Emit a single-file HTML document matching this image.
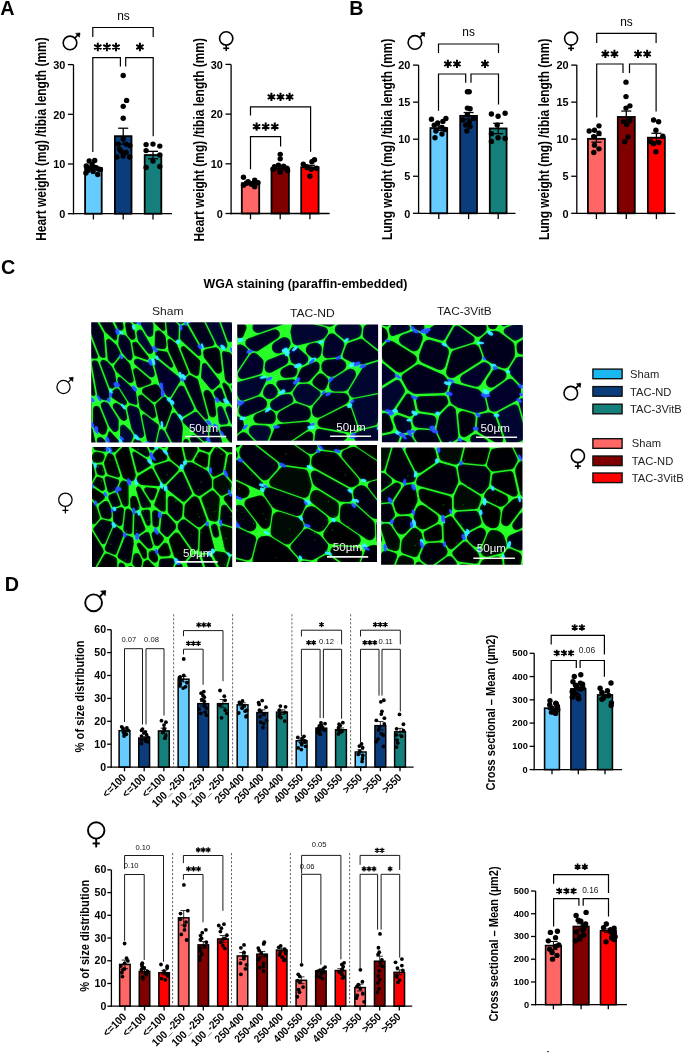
<!DOCTYPE html>
<html><head><meta charset="utf-8"><style>html,body{margin:0;padding:0;background:#fff;width:685px;height:1054px;overflow:hidden}svg{display:block;font-family:"Liberation Sans",sans-serif;will-change:transform}</style></head>
<body><svg width="685" height="1054" viewBox="0 0 685 1054" font-family="'Liberation Sans', sans-serif"><text font-size="19.8" font-weight="bold" text-anchor="start" fill="#000" transform="translate(0.2 14.6)">A</text>
<text font-size="19.8" font-weight="bold" text-anchor="start" fill="#000" transform="translate(349.2 14.9)">B</text>
<text font-size="19.8" font-weight="bold" text-anchor="start" fill="#000" transform="translate(1 273.9)">C</text>
<text font-size="19.8" font-weight="bold" text-anchor="start" fill="#000" transform="translate(4.7 590.6)">D</text>
<rect x="85.1" y="167.98" width="16.6" height="45.72" fill="#66CCFF" stroke="#000" stroke-width="1.8"/>
<rect x="114.9" y="136.17" width="16.6" height="77.53" fill="#0B3D7C" stroke="#000" stroke-width="1.8"/>
<rect x="144.7" y="155.05" width="16.6" height="58.65" fill="#157F7B" stroke="#000" stroke-width="1.8"/>
<line x1="93.4" y1="167.98" x2="93.4" y2="166.24" stroke="#000" stroke-width="1.3"/>
<line x1="88.4" y1="166.24" x2="98.4" y2="166.24" stroke="#000" stroke-width="1.3"/>
<line x1="93.4" y1="167.98" x2="93.4" y2="169.72" stroke="#000" stroke-width="1.3"/>
<line x1="88.4" y1="169.72" x2="98.4" y2="169.72" stroke="#000" stroke-width="1.3"/>
<g fill="#000"><circle cx="89.2" cy="161.02" r="2.7"/><circle cx="94.7" cy="160.52" r="2.7"/><circle cx="86.3" cy="165.99" r="2.7"/><circle cx="92.1" cy="164.5" r="2.7"/><circle cx="98.4" cy="168.97" r="2.7"/><circle cx="87.9" cy="170.46" r="2.7"/><circle cx="93.1" cy="171.45" r="2.7"/><circle cx="85.9" cy="172.95" r="2.7"/><circle cx="97.7" cy="174.44" r="2.7"/><circle cx="100.4" cy="169.47" r="2.7"/><circle cx="95.4" cy="167.48" r="2.7"/><circle cx="90.4" cy="168.47" r="2.7"/></g>
<line x1="123.2" y1="136.17" x2="123.2" y2="128.22" stroke="#000" stroke-width="1.3"/>
<line x1="118.2" y1="128.22" x2="128.2" y2="128.22" stroke="#000" stroke-width="1.3"/>
<line x1="123.2" y1="136.17" x2="123.2" y2="144.12" stroke="#000" stroke-width="1.3"/>
<line x1="118.2" y1="144.12" x2="128.2" y2="144.12" stroke="#000" stroke-width="1.3"/>
<g fill="#000"><circle cx="123.2" cy="75.53" r="2.7"/><circle cx="126.6" cy="100.38" r="2.7"/><circle cx="123.2" cy="106.35" r="2.7"/><circle cx="123.2" cy="118.28" r="2.7"/><circle cx="123.2" cy="138.65" r="2.7"/><circle cx="126.1" cy="144.12" r="2.7"/><circle cx="119.5" cy="149.09" r="2.7"/><circle cx="126.1" cy="152.57" r="2.7"/><circle cx="123.2" cy="156.05" r="2.7"/><circle cx="116.9" cy="157.04" r="2.7"/><circle cx="129.7" cy="157.04" r="2.7"/><circle cx="129.9" cy="145.61" r="2.7"/><circle cx="118.2" cy="144.12" r="2.7"/><circle cx="121.2" cy="151.57" r="2.7"/></g>
<line x1="153" y1="155.05" x2="153" y2="151.33" stroke="#000" stroke-width="1.3"/>
<line x1="148" y1="151.33" x2="158" y2="151.33" stroke="#000" stroke-width="1.3"/>
<line x1="153" y1="155.05" x2="153" y2="158.78" stroke="#000" stroke-width="1.3"/>
<line x1="148" y1="158.78" x2="158" y2="158.78" stroke="#000" stroke-width="1.3"/>
<g fill="#000"><circle cx="146.1" cy="144.62" r="2.7"/><circle cx="153" cy="144.12" r="2.7"/><circle cx="159.8" cy="146.11" r="2.7"/><circle cx="146.1" cy="150.58" r="2.7"/><circle cx="159.8" cy="155.05" r="2.7"/><circle cx="153" cy="161.02" r="2.7"/><circle cx="146.1" cy="167.48" r="2.7"/><circle cx="159.8" cy="166.48" r="2.7"/></g>
<line x1="73.5" y1="64.6" x2="73.5" y2="214.35" stroke="#000" stroke-width="1.3"/>
<line x1="72.85" y1="213.7" x2="172" y2="213.7" stroke="#000" stroke-width="1.3"/>
<line x1="67.9" y1="213.7" x2="73.5" y2="213.7" stroke="#000" stroke-width="1.3"/>
<text font-size="10.3" font-weight="bold" text-anchor="end" fill="#000" transform="matrix(1.06 0 0 1 65.3 217.91)">0</text>
<line x1="67.9" y1="164" x2="73.5" y2="164" stroke="#000" stroke-width="1.3"/>
<text font-size="10.3" font-weight="bold" text-anchor="end" fill="#000" transform="matrix(1.06 0 0 1 65.3 168.21)">10</text>
<line x1="67.9" y1="114.3" x2="73.5" y2="114.3" stroke="#000" stroke-width="1.3"/>
<text font-size="10.3" font-weight="bold" text-anchor="end" fill="#000" transform="matrix(1.06 0 0 1 65.3 118.51)">20</text>
<line x1="67.9" y1="64.6" x2="73.5" y2="64.6" stroke="#000" stroke-width="1.3"/>
<text font-size="10.3" font-weight="bold" text-anchor="end" fill="#000" transform="matrix(1.06 0 0 1 65.3 68.81)">30</text>
<line x1="93.4" y1="213.7" x2="93.4" y2="219.5" stroke="#000" stroke-width="1.3"/>
<line x1="123.2" y1="213.7" x2="123.2" y2="219.5" stroke="#000" stroke-width="1.3"/>
<line x1="153" y1="213.7" x2="153" y2="219.5" stroke="#000" stroke-width="1.3"/>
<text font-size="12.4" text-anchor="middle" fill="#000" transform="matrix(0.96 0 0 1 123.4 19.9)">ns</text>
<path d="M92.8 37.1L92.8 27.5L153.2 27.5L153.2 37.1" stroke="#000" stroke-width="1.2" fill="none" stroke-linejoin="miter"/>
<path d="M92.8 152L92.8 57.6L120.4 57.6L120.4 66.6" stroke="#000" stroke-width="1.2" fill="none" stroke-linejoin="miter"/>
<path d="M125.7 66.6L125.7 57.6L153.2 57.6L153.2 136.2" stroke="#000" stroke-width="1.2" fill="none" stroke-linejoin="miter"/>
<path d="M97.8 42.8L97.8 51.2M94.16 44.9L101.44 49.1M101.44 44.9L94.16 49.1M106.9 42.8L106.9 51.2M103.26 44.9L110.54 49.1M110.54 44.9L103.26 49.1M116 42.8L116 51.2M112.36 44.9L119.64 49.1M119.64 44.9L112.36 49.1" stroke="#000" stroke-width="2" fill="none" stroke-linecap="butt"/>
<path d="M139.9 42.8L139.9 51.2M136.26 44.9L143.54 49.1M143.54 44.9L136.26 49.1" stroke="#000" stroke-width="2" fill="none" stroke-linecap="butt"/>
<circle cx="70" cy="42.9" r="6.8" fill="none" stroke="#000" stroke-width="1.6"/>
<line x1="74.81" y1="38.09" x2="79.38" y2="33.52" stroke="#000" stroke-width="1.6"/>
<path d="M79.98 32.92L75.64 33.42L79.48 37.26Z" stroke="#000" stroke-width="0.6" fill="#000"/>
<text font-size="11.95" font-weight="bold" text-anchor="middle" fill="#000" transform="translate(46.2 139.1) rotate(-90) scale(1 1.18)">Heart weight (mg) /tibia length (mm)</text>
<rect x="241.8" y="183.18" width="17.4" height="30.32" fill="#FF6666" stroke="#000" stroke-width="1.8"/>
<rect x="271.5" y="168.27" width="17.4" height="45.23" fill="#800000" stroke="#000" stroke-width="1.8"/>
<rect x="301.2" y="167.28" width="17.4" height="46.22" fill="#FF0000" stroke="#000" stroke-width="1.8"/>
<line x1="250.5" y1="183.18" x2="250.5" y2="181.69" stroke="#000" stroke-width="1.3"/>
<line x1="245.5" y1="181.69" x2="255.5" y2="181.69" stroke="#000" stroke-width="1.3"/>
<line x1="250.5" y1="183.18" x2="250.5" y2="184.67" stroke="#000" stroke-width="1.3"/>
<line x1="245.5" y1="184.67" x2="255.5" y2="184.67" stroke="#000" stroke-width="1.3"/>
<g fill="#000"><circle cx="243.5" cy="177.22" r="2.7"/><circle cx="248.1" cy="181.69" r="2.7"/><circle cx="254.7" cy="180.2" r="2.7"/><circle cx="243.5" cy="185.17" r="2.7"/><circle cx="254.7" cy="186.66" r="2.7"/><circle cx="258" cy="182.69" r="2.7"/><circle cx="251.4" cy="184.18" r="2.7"/><circle cx="246.2" cy="183.18" r="2.7"/></g>
<line x1="280.2" y1="168.27" x2="280.2" y2="166.53" stroke="#000" stroke-width="1.3"/>
<line x1="275.2" y1="166.53" x2="285.2" y2="166.53" stroke="#000" stroke-width="1.3"/>
<line x1="280.2" y1="168.27" x2="280.2" y2="170.01" stroke="#000" stroke-width="1.3"/>
<line x1="275.2" y1="170.01" x2="285.2" y2="170.01" stroke="#000" stroke-width="1.3"/>
<g fill="#000"><circle cx="280.2" cy="154.36" r="2.7"/><circle cx="280.2" cy="158.83" r="2.7"/><circle cx="274.4" cy="166.78" r="2.7"/><circle cx="278.4" cy="165.29" r="2.7"/><circle cx="283.6" cy="166.28" r="2.7"/><circle cx="286.9" cy="168.27" r="2.7"/><circle cx="273.1" cy="169.27" r="2.7"/><circle cx="280.2" cy="172.25" r="2.7"/><circle cx="287.6" cy="170.76" r="2.7"/></g>
<line x1="309.9" y1="167.28" x2="309.9" y2="165.29" stroke="#000" stroke-width="1.3"/>
<line x1="304.9" y1="165.29" x2="314.9" y2="165.29" stroke="#000" stroke-width="1.3"/>
<line x1="309.9" y1="167.28" x2="309.9" y2="169.27" stroke="#000" stroke-width="1.3"/>
<line x1="304.9" y1="169.27" x2="314.9" y2="169.27" stroke="#000" stroke-width="1.3"/>
<g fill="#000"><circle cx="314.5" cy="159.82" r="2.7"/><circle cx="311.9" cy="161.81" r="2.7"/><circle cx="303.3" cy="164.3" r="2.7"/><circle cx="306.6" cy="166.78" r="2.7"/><circle cx="316.5" cy="168.27" r="2.7"/><circle cx="311.2" cy="169.27" r="2.7"/><circle cx="309.9" cy="176.22" r="2.7"/></g>
<line x1="231.1" y1="64.4" x2="231.1" y2="214.15" stroke="#000" stroke-width="1.3"/>
<line x1="230.45" y1="213.5" x2="329.7" y2="213.5" stroke="#000" stroke-width="1.3"/>
<line x1="225.5" y1="213.5" x2="231.1" y2="213.5" stroke="#000" stroke-width="1.3"/>
<text font-size="10.3" font-weight="bold" text-anchor="end" fill="#000" transform="matrix(1.06 0 0 1 222.9 217.71)">0</text>
<line x1="225.5" y1="163.8" x2="231.1" y2="163.8" stroke="#000" stroke-width="1.3"/>
<text font-size="10.3" font-weight="bold" text-anchor="end" fill="#000" transform="matrix(1.06 0 0 1 222.9 168.01)">10</text>
<line x1="225.5" y1="114.1" x2="231.1" y2="114.1" stroke="#000" stroke-width="1.3"/>
<text font-size="10.3" font-weight="bold" text-anchor="end" fill="#000" transform="matrix(1.06 0 0 1 222.9 118.31)">20</text>
<line x1="225.5" y1="64.4" x2="231.1" y2="64.4" stroke="#000" stroke-width="1.3"/>
<text font-size="10.3" font-weight="bold" text-anchor="end" fill="#000" transform="matrix(1.06 0 0 1 222.9 68.61)">30</text>
<line x1="250.5" y1="213.5" x2="250.5" y2="219.3" stroke="#000" stroke-width="1.3"/>
<line x1="280.2" y1="213.5" x2="280.2" y2="219.3" stroke="#000" stroke-width="1.3"/>
<line x1="309.9" y1="213.5" x2="309.9" y2="219.3" stroke="#000" stroke-width="1.3"/>
<path d="M250.5 115.6L250.5 106.9L310.6 106.9L310.6 151.7" stroke="#000" stroke-width="1.2" fill="none" stroke-linejoin="miter"/>
<path d="M250.5 169.2L250.5 136.6L280.6 136.6L280.6 146.4" stroke="#000" stroke-width="1.2" fill="none" stroke-linejoin="miter"/>
<path d="M271.4 92.7L271.4 101.1M267.76 94.8L275.04 99M275.04 94.8L267.76 99M280.5 92.7L280.5 101.1M276.86 94.8L284.14 99M284.14 94.8L276.86 99M289.6 92.7L289.6 101.1M285.96 94.8L293.24 99M293.24 94.8L285.96 99" stroke="#000" stroke-width="2" fill="none" stroke-linecap="butt"/>
<path d="M256.6 122.4L256.6 130.8M252.96 124.5L260.24 128.7M260.24 124.5L252.96 128.7M265.7 122.4L265.7 130.8M262.06 124.5L269.34 128.7M269.34 124.5L262.06 128.7M274.8 122.4L274.8 130.8M271.16 124.5L278.44 128.7M278.44 124.5L271.16 128.7" stroke="#000" stroke-width="2" fill="none" stroke-linecap="butt"/>
<circle cx="226.2" cy="38.4" r="6.6" fill="none" stroke="#000" stroke-width="1.6"/>
<line x1="226.2" y1="45" x2="226.2" y2="51" stroke="#000" stroke-width="1.6"/>
<line x1="223.2" y1="48.3" x2="229.2" y2="48.3" stroke="#000" stroke-width="1.6"/>
<text font-size="11.95" font-weight="bold" text-anchor="middle" fill="#000" transform="translate(203.6 139.8) rotate(-90) scale(1 1.18)">Heart weight (mg) /tibia length (mm)</text>
<rect x="430.4" y="128.09" width="16.8" height="85.22" fill="#66CCFF" stroke="#000" stroke-width="1.8"/>
<rect x="460.2" y="115.86" width="16.8" height="97.44" fill="#0B3D7C" stroke="#000" stroke-width="1.8"/>
<rect x="489.8" y="128.46" width="16.8" height="84.84" fill="#157F7B" stroke="#000" stroke-width="1.8"/>
<line x1="438.8" y1="128.09" x2="438.8" y2="125.86" stroke="#000" stroke-width="1.3"/>
<line x1="433.8" y1="125.86" x2="443.8" y2="125.86" stroke="#000" stroke-width="1.3"/>
<line x1="438.8" y1="128.09" x2="438.8" y2="130.31" stroke="#000" stroke-width="1.3"/>
<line x1="433.8" y1="130.31" x2="443.8" y2="130.31" stroke="#000" stroke-width="1.3"/>
<g fill="#000"><circle cx="431.5" cy="119.19" r="2.7"/><circle cx="445.9" cy="118.45" r="2.7"/><circle cx="437.7" cy="122.9" r="2.7"/><circle cx="442.9" cy="121.42" r="2.7"/><circle cx="434.2" cy="125.12" r="2.7"/><circle cx="442" cy="127.34" r="2.7"/><circle cx="435.9" cy="131.05" r="2.7"/><circle cx="445.2" cy="129.57" r="2.7"/><circle cx="435" cy="137.72" r="2.7"/><circle cx="442" cy="134.01" r="2.7"/></g>
<line x1="468.6" y1="115.86" x2="468.6" y2="112.52" stroke="#000" stroke-width="1.3"/>
<line x1="463.6" y1="112.52" x2="473.6" y2="112.52" stroke="#000" stroke-width="1.3"/>
<line x1="468.6" y1="115.86" x2="468.6" y2="119.19" stroke="#000" stroke-width="1.3"/>
<line x1="463.6" y1="119.19" x2="473.6" y2="119.19" stroke="#000" stroke-width="1.3"/>
<g fill="#000"><circle cx="467.4" cy="91.78" r="2.7"/><circle cx="469.2" cy="91.78" r="2.7"/><circle cx="467.4" cy="108.08" r="2.7"/><circle cx="470.1" cy="108.82" r="2.7"/><circle cx="467.4" cy="114.75" r="2.7"/><circle cx="473.6" cy="118.45" r="2.7"/><circle cx="463.1" cy="119.93" r="2.7"/><circle cx="469.2" cy="122.16" r="2.7"/><circle cx="465.7" cy="125.12" r="2.7"/><circle cx="470.1" cy="126.6" r="2.7"/><circle cx="466.9" cy="131.05" r="2.7"/></g>
<line x1="498.2" y1="128.46" x2="498.2" y2="123.27" stroke="#000" stroke-width="1.3"/>
<line x1="493.2" y1="123.27" x2="503.2" y2="123.27" stroke="#000" stroke-width="1.3"/>
<line x1="498.2" y1="128.46" x2="498.2" y2="133.64" stroke="#000" stroke-width="1.3"/>
<line x1="493.2" y1="133.64" x2="503.2" y2="133.64" stroke="#000" stroke-width="1.3"/>
<g fill="#000"><circle cx="491.4" cy="114.01" r="2.7"/><circle cx="498.1" cy="116.23" r="2.7"/><circle cx="505.1" cy="113.27" r="2.7"/><circle cx="497.2" cy="125.12" r="2.7"/><circle cx="491.4" cy="133.64" r="2.7"/><circle cx="498.1" cy="137.72" r="2.7"/><circle cx="505.1" cy="138.46" r="2.7"/><circle cx="491.4" cy="141.42" r="2.7"/></g>
<line x1="418.6" y1="65.1" x2="418.6" y2="213.95" stroke="#000" stroke-width="1.3"/>
<line x1="417.95" y1="213.3" x2="515.5" y2="213.3" stroke="#000" stroke-width="1.3"/>
<line x1="413" y1="213.3" x2="418.6" y2="213.3" stroke="#000" stroke-width="1.3"/>
<text font-size="10.3" font-weight="bold" text-anchor="end" fill="#000" transform="matrix(1.06 0 0 1 410.4 217.51)">0</text>
<line x1="413" y1="176.25" x2="418.6" y2="176.25" stroke="#000" stroke-width="1.3"/>
<text font-size="10.3" font-weight="bold" text-anchor="end" fill="#000" transform="matrix(1.06 0 0 1 410.4 180.46)">5</text>
<line x1="413" y1="139.2" x2="418.6" y2="139.2" stroke="#000" stroke-width="1.3"/>
<text font-size="10.3" font-weight="bold" text-anchor="end" fill="#000" transform="matrix(1.06 0 0 1 410.4 143.41)">10</text>
<line x1="413" y1="102.15" x2="418.6" y2="102.15" stroke="#000" stroke-width="1.3"/>
<text font-size="10.3" font-weight="bold" text-anchor="end" fill="#000" transform="matrix(1.06 0 0 1 410.4 106.36)">15</text>
<line x1="413" y1="65.1" x2="418.6" y2="65.1" stroke="#000" stroke-width="1.3"/>
<text font-size="10.3" font-weight="bold" text-anchor="end" fill="#000" transform="matrix(1.06 0 0 1 410.4 69.31)">20</text>
<line x1="438.8" y1="213.3" x2="438.8" y2="219.1" stroke="#000" stroke-width="1.3"/>
<line x1="468.6" y1="213.3" x2="468.6" y2="219.1" stroke="#000" stroke-width="1.3"/>
<line x1="498.2" y1="213.3" x2="498.2" y2="219.1" stroke="#000" stroke-width="1.3"/>
<text font-size="12.4" text-anchor="middle" fill="#000" transform="matrix(0.96 0 0 1 468.6 36.1)">ns</text>
<path d="M438.5 52.9L438.5 44L498.5 44L498.5 52.9" stroke="#000" stroke-width="1.2" fill="none" stroke-linejoin="miter"/>
<path d="M438.5 110.7L438.5 74L465.7 74L465.7 82.7" stroke="#000" stroke-width="1.2" fill="none" stroke-linejoin="miter"/>
<path d="M471 82.7L471 74L498.5 74L498.5 104.5" stroke="#000" stroke-width="1.2" fill="none" stroke-linejoin="miter"/>
<path d="M447.85 59.7L447.85 68.1M444.21 61.8L451.49 66M451.49 61.8L444.21 66M456.95 59.7L456.95 68.1M453.31 61.8L460.59 66M460.59 61.8L453.31 66" stroke="#000" stroke-width="2" fill="none" stroke-linecap="butt"/>
<path d="M485 59.7L485 68.1M481.36 61.8L488.64 66M488.64 61.8L481.36 66" stroke="#000" stroke-width="2" fill="none" stroke-linecap="butt"/>
<circle cx="414.9" cy="42.4" r="6.8" fill="none" stroke="#000" stroke-width="1.6"/>
<line x1="419.71" y1="37.59" x2="424.28" y2="33.02" stroke="#000" stroke-width="1.6"/>
<path d="M424.88 32.42L420.54 32.92L424.38 36.76Z" stroke="#000" stroke-width="0.6" fill="#000"/>
<text font-size="11.9" font-weight="bold" text-anchor="middle" fill="#000" transform="translate(391.9 139.3) rotate(-90) scale(1 1.18)">Lung weight (mg) /tibia length (mm)</text>
<rect x="587.9" y="138.83" width="17" height="74.47" fill="#FF6666" stroke="#000" stroke-width="1.8"/>
<rect x="617.8" y="116.97" width="17" height="96.33" fill="#800000" stroke="#000" stroke-width="1.8"/>
<rect x="647.9" y="137.72" width="17" height="75.58" fill="#FF0000" stroke="#000" stroke-width="1.8"/>
<line x1="596.4" y1="138.83" x2="596.4" y2="135.5" stroke="#000" stroke-width="1.3"/>
<line x1="591.4" y1="135.5" x2="601.4" y2="135.5" stroke="#000" stroke-width="1.3"/>
<line x1="596.4" y1="138.83" x2="596.4" y2="142.16" stroke="#000" stroke-width="1.3"/>
<line x1="591.4" y1="142.16" x2="601.4" y2="142.16" stroke="#000" stroke-width="1.3"/>
<g fill="#000"><circle cx="599" cy="125.86" r="2.7"/><circle cx="594.5" cy="130.31" r="2.7"/><circle cx="589.2" cy="131.05" r="2.7"/><circle cx="599" cy="133.27" r="2.7"/><circle cx="593.8" cy="136.61" r="2.7"/><circle cx="594.5" cy="145.13" r="2.7"/><circle cx="599" cy="148.83" r="2.7"/><circle cx="593.8" cy="152.54" r="2.7"/></g>
<line x1="626.3" y1="116.97" x2="626.3" y2="111.04" stroke="#000" stroke-width="1.3"/>
<line x1="621.3" y1="111.04" x2="631.3" y2="111.04" stroke="#000" stroke-width="1.3"/>
<line x1="626.3" y1="116.97" x2="626.3" y2="122.9" stroke="#000" stroke-width="1.3"/>
<line x1="621.3" y1="122.9" x2="631.3" y2="122.9" stroke="#000" stroke-width="1.3"/>
<g fill="#000"><circle cx="626" cy="82.14" r="2.7"/><circle cx="626" cy="96.59" r="2.7"/><circle cx="629.9" cy="105.86" r="2.7"/><circle cx="626" cy="108.08" r="2.7"/><circle cx="623.4" cy="121.42" r="2.7"/><circle cx="626.6" cy="124.38" r="2.7"/><circle cx="628" cy="136.98" r="2.7"/><circle cx="624.7" cy="141.79" r="2.7"/><circle cx="629.9" cy="119.93" r="2.7"/></g>
<line x1="656.4" y1="137.72" x2="656.4" y2="133.27" stroke="#000" stroke-width="1.3"/>
<line x1="651.4" y1="133.27" x2="661.4" y2="133.27" stroke="#000" stroke-width="1.3"/>
<line x1="656.4" y1="137.72" x2="656.4" y2="142.16" stroke="#000" stroke-width="1.3"/>
<line x1="651.4" y1="142.16" x2="661.4" y2="142.16" stroke="#000" stroke-width="1.3"/>
<g fill="#000"><circle cx="653.6" cy="119.93" r="2.7"/><circle cx="658.6" cy="121.79" r="2.7"/><circle cx="655.9" cy="130.31" r="2.7"/><circle cx="662.8" cy="136.24" r="2.7"/><circle cx="651" cy="141.79" r="2.7"/><circle cx="658.8" cy="142.53" r="2.7"/><circle cx="655.9" cy="151.8" r="2.7"/><circle cx="653.6" cy="143.65" r="2.7"/></g>
<line x1="576.8" y1="65.1" x2="576.8" y2="213.95" stroke="#000" stroke-width="1.3"/>
<line x1="576.15" y1="213.3" x2="675.3" y2="213.3" stroke="#000" stroke-width="1.3"/>
<line x1="571.2" y1="213.3" x2="576.8" y2="213.3" stroke="#000" stroke-width="1.3"/>
<text font-size="10.3" font-weight="bold" text-anchor="end" fill="#000" transform="matrix(1.06 0 0 1 568.6 217.51)">0</text>
<line x1="571.2" y1="176.25" x2="576.8" y2="176.25" stroke="#000" stroke-width="1.3"/>
<text font-size="10.3" font-weight="bold" text-anchor="end" fill="#000" transform="matrix(1.06 0 0 1 568.6 180.46)">5</text>
<line x1="571.2" y1="139.2" x2="576.8" y2="139.2" stroke="#000" stroke-width="1.3"/>
<text font-size="10.3" font-weight="bold" text-anchor="end" fill="#000" transform="matrix(1.06 0 0 1 568.6 143.41)">10</text>
<line x1="571.2" y1="102.15" x2="576.8" y2="102.15" stroke="#000" stroke-width="1.3"/>
<text font-size="10.3" font-weight="bold" text-anchor="end" fill="#000" transform="matrix(1.06 0 0 1 568.6 106.36)">15</text>
<line x1="571.2" y1="65.1" x2="576.8" y2="65.1" stroke="#000" stroke-width="1.3"/>
<text font-size="10.3" font-weight="bold" text-anchor="end" fill="#000" transform="matrix(1.06 0 0 1 568.6 69.31)">20</text>
<line x1="596.4" y1="213.3" x2="596.4" y2="219.1" stroke="#000" stroke-width="1.3"/>
<line x1="626.3" y1="213.3" x2="626.3" y2="219.1" stroke="#000" stroke-width="1.3"/>
<line x1="656.4" y1="213.3" x2="656.4" y2="219.1" stroke="#000" stroke-width="1.3"/>
<text font-size="12.4" text-anchor="middle" fill="#000" transform="matrix(0.96 0 0 1 626.4 25.6)">ns</text>
<path d="M596.7 42.9L596.7 33.3L656.1 33.3L656.1 42.9" stroke="#000" stroke-width="1.2" fill="none" stroke-linejoin="miter"/>
<path d="M596.7 117.6L596.7 64L623 64L623 73.1" stroke="#000" stroke-width="1.2" fill="none" stroke-linejoin="miter"/>
<path d="M629.5 73.1L629.5 64L656.1 64L656.1 111.4" stroke="#000" stroke-width="1.2" fill="none" stroke-linejoin="miter"/>
<path d="M605.35 49.7L605.35 58.1M601.71 51.8L608.99 56M608.99 51.8L601.71 56M614.45 49.7L614.45 58.1M610.81 51.8L618.09 56M618.09 51.8L610.81 56" stroke="#000" stroke-width="2" fill="none" stroke-linecap="butt"/>
<path d="M638.05 49.7L638.05 58.1M634.41 51.8L641.69 56M641.69 51.8L634.41 56M647.15 49.7L647.15 58.1M643.51 51.8L650.79 56M650.79 51.8L643.51 56" stroke="#000" stroke-width="2" fill="none" stroke-linecap="butt"/>
<circle cx="571.1" cy="38.6" r="6.5" fill="none" stroke="#000" stroke-width="1.6"/>
<line x1="571.1" y1="45.1" x2="571.1" y2="51.1" stroke="#000" stroke-width="1.6"/>
<line x1="568.1" y1="48.4" x2="574.1" y2="48.4" stroke="#000" stroke-width="1.6"/>
<text font-size="11.9" font-weight="bold" text-anchor="middle" fill="#000" transform="translate(549 139.3) rotate(-90) scale(1 1.18)">Lung weight (mg) /tibia length (mm)</text>
<text font-size="12.4" font-weight="bold" text-anchor="middle" fill="#000" transform="translate(305.5 287.7)">WGA staining (paraffin-embedded)</text>
<text font-size="11.5" text-anchor="middle" fill="#1a1a1a" transform="matrix(1.05 0 0 1 167.8 315)">Sham</text>
<text font-size="11.5" text-anchor="middle" fill="#1a1a1a" transform="matrix(1.05 0 0 1 312.3 316.5)">TAC-ND</text>
<text font-size="11.5" text-anchor="middle" fill="#1a1a1a" transform="matrix(1.03 0 0 1 464.3 315.4)">TAC-3VitB</text>
<defs><filter id="soft" x="0" y="0" width="1" height="1" color-interpolation-filters="sRGB"><feGaussianBlur in="SourceGraphic" stdDeviation="0.45" result="a"/><feGaussianBlur in="SourceGraphic" stdDeviation="1.6" result="b"/><feComposite in="a" in2="b" operator="arithmetic" k2="1" k3="0.4"/></filter></defs>
<clipPath id="cp0"><rect x="91.2" y="322.3" width="140.8" height="120.2"/></clipPath>
<g clip-path="url(#cp0)">
<g filter="url(#soft)">
<rect x="89.2" y="320.3" width="144.8" height="124.2" fill="#1cd01c"/>
<path fill="#000018" d="M78.73 436.73L76.95 435.95L75.3 436.96L71.19 443.9L70.9 445.03L71.26 446.14L94.18 479.87L94.99 480.58L96.05 480.78L97.07 480.43L97.78 479.61L97.99 478.55L96.7 460.08L96.26 458.94ZM102.39 437.65L100.88 436.93L99.21 437.01L97.78 437.87L96.93 439.31L96.87 440.98L100.02 455.86L100.68 457.26L104.24 459.36L105.81 459.69L107.36 459.27L108.54 458.18L109.1 456.68L109.58 452.58L109.35 450.88L105.02 440.36ZM216.11 427.18L212.23 425.63L210.84 426.04L209.82 427.08L209.44 428.48L209.27 439.26L209.76 440.92L220.2 456.48L221.28 457.44L222.78 457.76L224.43 457.21L225.46 455.82L225.52 454.09L219.55 432.45L217.32 428.34ZM215.86 397.59L221.32 402.32L222.6 402.89L224.08 402.68L225.14 401.89L225.67 400.68L225.55 399.37L221.93 389.21L221.23 388.15L220.12 387.55L218.86 387.53L217.73 388.11L213.84 391.85L213.63 393.01L213.95 394.15ZM104.28 359.99L102.59 359.87L101.12 360.68L100.31 362.16L100.44 363.84L109.09 386.75L109.86 387.88L111.06 388.56L112.42 388.63L115.48 386.73L116.44 385.49L116.64 383.93L115.08 372.77L111.71 366.26L106.99 361.32ZM127.64 316.44L133.22 323.08L134.43 323.91L135.88 324.09L137.26 323.58L138.25 322.5L138.63 321.08L138.87 309.96L138.59 308.6L137.75 307.5L129.44 300.62L127.94 299.94L126.3 300.13L125 301.13L124.38 302.65L124.12 305.01L124.26 306.34ZM171.39 398.62L170.89 400.24L171.22 401.9L173.83 407.4L179.33 415.34L180.61 416.45L182.27 416.81L183.89 416.34L192.33 411.36L193.52 410.18L194.02 408.58L193.69 406.93L184.49 387.43L183.3 386.05L181.57 385.47L179.78 385.86L178.45 387.1ZM180.06 338.47L180.81 340.23L197.6 355.41L198.57 355.93L199.66 355.94L200.64 355.43L201.27 354.53L201.4 353.44L200.66 348.68L187.09 324.98L185.14 324.66L182.02 325.57L180.85 326.36L180.38 327.69ZM167.87 285.77L166.79 284.54L165.26 283.98L163.64 284.23L162.34 285.22L161.67 286.71L161.81 288.34L170.81 314.36L178.35 322.95L179.89 323.89L182.62 323.61L184.22 322.58L184.97 320.83L184.64 318.96ZM167.78 316.15L166.67 316.52L165.9 317.41L165.7 318.57L167.51 335.11L174.98 340.77L176.09 341.18L177.26 340.96L178.15 340.17L178.5 339.04L178.87 326.44L178.28 324.87L170.83 316.79L170.03 316.23ZM127.74 359.56L129.01 360.37L130.53 360.39L131.82 359.61L132.83 356.78L130.43 341.91L129.89 340.69L126.3 336.07L125.03 335.15L122.49 334.27L120.82 334.21L119.43 335.12L118.81 336.67L118.24 343.9L118.5 345.31L122.28 353.28ZM147.83 443.13L152.56 446.73L153.57 446.65L154.41 446.09L154.87 445.19L158.92 426.6L158.85 425.49L158.2 424.6L145.14 414.4L143.3 414.07L141.99 415.41L141.95 416.38L147.15 441.99ZM232.06 350.22L232.04 351.61L232.59 352.88L237.23 359.39L238.73 360.56L244.04 362.59L245.72 362.76L247.27 362.08L248.27 360.72L248.46 359.04L244.76 334.05L244.01 332.39L242.49 331.39L240.23 330.69L238.46 330.64L236.92 331.53L236.06 333.08ZM215.1 296.35L213.52 295.39L211.67 295.39L210.1 296.36L209.26 298.01L209.41 299.85L213.99 311.49L215.67 313.33L217.26 314.31L219.11 314.32L220.7 313.35L222.89 310.96L223.59 309.8L223.69 306.78L222.79 304.66Z"/>
<path fill="#00000a" d="M129.12 457.87L130.28 459.47L143.05 467.49L144.44 467.9L145.84 467.5L146.82 466.42L147.08 464.99L144.7 443.99L137.7 439.03L136.27 438.59L134.82 439L133.84 440.13L128.32 452.26L128.16 453.98ZM173.45 278.73L171.79 277.71L169.83 277.75L168.22 278.85L167.46 280.66L167.81 282.58L184.82 316.21L185.97 317.52L187.62 318.09L189.33 317.79L190.68 316.68L195.15 310.49L195.78 308.9L195.56 307.2L193.79 302.77L191.61 299ZM215.65 372.45L217.12 373.56L218.95 373.8L220.65 373.1L221.79 371.64L222.05 369.82L219.86 351.12L218.53 348.73L216.3 347.36L214.78 347.31L206.1 348.88L204.47 349.63L203.41 351.07L203.17 352.85L203.57 356.16L204.3 357.94ZM99.83 407.92L98.66 406.4L96.86 405.72L94.97 406.08L93.55 407.37L93.02 409.22L92.93 425.57L93.45 427.43L94.6 428.96L100.75 434.09L102.32 434.84L104.06 434.75L105.55 433.84L106.42 432.34L107.43 428.76L107.3 426.48ZM78.05 383.85L77.09 383.29L75.97 383.3L75.02 383.88L74.49 384.87L72.21 395.01L72.29 396.21L81.04 419.65L82.04 420.79L89.36 424.3L90.38 424L91.13 423.23L91.4 422.2L91.53 398.36L90.92 396.87ZM188.4 440.26L187.51 439.24L186.23 438.79L184.9 439.04L183.87 439.91L183.4 441.18L182.49 451.03L182.77 452.48L186.34 458.83L192.47 463.44L193.82 463.96L195.24 463.69L197.7 462.06L198.14 460.77L197.87 459.44ZM135.38 356.04L147.21 359.94L148.14 359.51L148.74 358.67L148.85 357.65L148.44 356.71L137.3 342.51L135.68 341.74L133.12 342.11L132.39 342.99L132.26 344.13L134.07 354.49L134.51 355.44ZM174.13 446.52L172.45 446.12L171.16 447.27L167.36 457.8L168.67 460.4L175.26 468.17L176.2 468.77L177.31 468.72L178.2 468.06L183.85 460.25L184.19 459.29L181.11 452.73ZM209.74 390.98L208.16 389.94L206.27 389.85L204.59 390.75L203.62 392.37L203.6 394.27L209.14 414.8L210 416.33L211.49 417.27L213.24 417.38L214.84 416.65L215.89 415.24L216.14 413.5L214.68 399.56L211.35 392.94ZM79.61 350.07L77.99 349.52L77.18 349.83L74.86 353.92L74.3 363.3L77.52 380.55L78.04 381.54L92.15 395.82L93.94 396.34L95.32 395.09L95.4 394.13L89.4 360.39L88.87 359.37ZM130.39 322.33L129.07 321.46L127.49 321.36L126.07 322.05L125.19 323.36L125.07 324.94L126.72 333.88L127.32 335.2L130.06 338.73L131.35 339.7L132.95 339.89L134.43 339.23L135.37 337.92L135.52 336.31L133.88 326.93L133.14 325.42ZM185.05 346.68L183.81 346.06L182.42 346.16L181.29 346.95L180.72 348.22L180.88 349.6L190.04 372.21L191.21 373.52L195.36 375.77L196.59 376.09L197.83 375.78L198.78 374.93L199.2 373.73L200.34 361.93L200.18 360.73L199.49 359.74ZM170.77 339.21L169.64 338.82L168.48 339.09L167.66 339.95L167.43 341.12L168.45 350.77L180.21 376.34L181.63 377.89L182.75 378.05L187.62 374.56L188.35 373.45L188.26 372.12L176.89 344.04L176.17 343.13ZM157.32 307.02L155.7 306.28L154.16 307.18L150.26 313.46L149.97 314.44L150.23 315.43L155.2 323.94L162.23 330.73L163.96 331.23L165.35 330.08L165.48 329.16L164.25 316.51L163.86 315.53ZM156.05 403.55L155.42 404.56L155.38 405.74L159.42 423.71L160.08 424.98L161.94 426.78L162.92 427.32L164.04 427.33L165.03 426.81L165.67 425.89L172.03 409.1L171.96 407.28L168.55 400.29L166.12 397.41L165.1 396.71L163.86 396.64L162.76 397.22ZM144.05 387.82L142.61 388.82L141.86 390.4L142 392.14L143 393.58L152.02 401.26L153.48 401.98L155.11 401.94L156.53 401.14L161.71 396.25L162.54 395.01L162.76 393.53L162.32 392.11L158.74 385.87L156.67 384.25L154.22 384.18ZM137.58 368.65L136.39 368.07L135.06 368.13L133.93 368.82L133.27 369.97L133.24 371.3L136.63 385.78L137.35 387.07L138.66 387.78L140.14 387.69L149.76 384.25L150.9 383.46L151.49 382.2L151.37 380.82L150.59 379.68Z"/>
<path fill="#000422" d="M130.47 430.58L124.9 425.33L123.44 424.62L121.82 424.82L120.58 425.86L120.1 427.42L119.98 438.58L120.37 440.05L124.13 446.56L125.24 447.64L126.75 447.99L128.22 447.49L129.22 446.31L133.26 437.43L133.51 436.06L133.08 434.72ZM150.88 447.52L148.91 447.08L147.4 448.42L147.26 449.44L149.73 472.24L169.39 509.89L170.12 510.7L171.15 511.06L172.22 510.89L173.09 510.23L173.53 509.23L173.44 508.14L153.26 449.91ZM244.09 364.3L242.35 364.13L240.77 364.87L239.79 366.32L239.68 368.06L242.15 379.45L254.29 407.78L255.32 409.1L256.87 409.75L258.54 409.55L259.89 408.55L260.57 407.02L264.13 385.49L263.64 383.15L256.88 373.01L250.26 366.91ZM164.33 431.03L161.94 429.07L160.82 429.12L159.88 429.72L159.36 430.72L155.73 447.4L155.81 448.62L156.54 449.59L163.77 454.99L165.66 455.34L167.08 454.03L170.81 443.67ZM223.04 407.89L222 406.56L220.41 406.01L218.77 406.41L217.62 407.63L217.31 409.29L218.65 422.1L219.17 423.5L220.3 424.47L221.76 424.77L226.75 424.19L227.77 423.23L228.23 421.91L228.03 420.52ZM142.51 331.07L141.23 329.86L139.5 329.52L137.84 330.13L136.76 331.53L136.58 333.28L137.71 339.74L138.34 341.17L147.52 352.86L148.81 353.85L150.42 354.07L151.94 353.48L152.97 352.23L153.26 350.63L152.74 348.18ZM146.14 313.08L144.46 312.22L142.58 312.42L141.12 313.61L140.54 315.41L140.37 323.13L140.84 324.9L147.12 335.4L148.33 336.58L149.96 337.02L151.59 336.59L152.81 335.41L153.28 333.79L153.53 325.33L153.09 323.58L148.4 315.42ZM222.99 349.03L224.93 348.97L226.57 347.93L227.43 346.19L227.28 344.25L217.77 318.08L213.89 313.42L212.55 312.49L210.93 312.24L206.63 312.57L204.96 313.12L203.75 314.38L203.27 316.07L203.64 317.79L216.87 344.87L220.23 348Z"/>
<path fill="#000014" d="M188.92 321.24L188.39 322.73L188.75 324.27L201.14 346.34L202.4 347.51L204.1 347.73L212.06 346.29L213.24 345.77L214.07 344.79L214.37 343.54L214.08 342.28L199.86 313.18L198.92 312.09L197.57 311.61L196.16 311.85L195.05 312.76ZM246.83 420.01L248.33 422.22L249.15 422.92L250.21 423.1L255.71 422.62L257.31 421.62L257.6 420.7L241.58 382.73L240.89 381.87L239.86 381.48L238.77 381.68L232.42 384.73L231.6 385.42L231.24 386.43L231.44 387.48ZM210.67 445.41L209.68 444.56L208.39 444.34L207.17 444.81L206.37 445.83L206.2 447.13L207.68 457.47L208.41 458.88L217.09 467.27L218.18 467.88L219.43 467.88L220.52 467.26L221.15 466.19L221.18 464.94L219.86 459.39ZM107.68 358.93L108.37 360.47L110.47 362.67L111.72 363.39L113.15 363.31L114.32 362.47L120 355.09L120.52 353.81L120.29 352.45L116.51 344.94L110.39 339.38L109.33 338.8L108.13 338.78L107.05 339.32L106.34 340.29L106.15 341.48ZM195.59 435.9L193.86 435.04L191.93 435.22L190.38 436.39L189.68 438.19L190.03 440.1L199.21 458.7L200.55 460.16L202.45 460.68L204.34 460.09L205.62 458.59L205.9 456.63L204.21 444.83L203.09 442.71ZM239.35 458.03L238.87 456.47L228.69 443.79L227.73 443.1L226.54 443.01L225.48 443.55L224.86 444.56L224.85 445.75L228.08 457.46L235.06 465.26L236.14 465.89L237.39 465.83L238.41 465.1L238.86 463.93ZM117.84 403.38L116.11 402.83L114.34 403.25L113.05 404.53L112.6 406.3L113.14 408.03L120.38 419.1L123.06 420.98L124.75 420.95L126.22 420.1L127.09 418.64L127.14 416.95L125.47 409.53L124.02 407.45ZM229.51 426.06L220.84 426.77L220.06 427.59L219.78 428.69L221.04 431.42L237.52 451.95L238.39 452.61L239.48 452.78L240.52 452.41L241.26 451.6L241.52 450.53L241.15 434.37L230.97 426.5ZM77.73 330L78.42 331.05L79.51 331.67L80.76 331.73L85.77 330.81L87 330.25L87.81 329.16L87.98 327.82L86.72 317.26L86.25 316.03L85.26 315.16L75.36 310.1L74.11 309.8L72.85 310.12L71.89 310.98L71.43 312.19L71.58 313.47ZM99.57 355.95L100.77 357.13L103.03 357.97L104.05 358.08L105 357.68L105.64 356.87L103.86 333.57L92.78 313.74L92.07 313L91.08 312.7L90.08 312.91L88.29 315L87.93 316.44L89.6 330.37ZM94.22 360.26L92.79 360.66L91.82 361.78L91.65 363.25L97.65 397.06L98.33 398.38L99.62 399.1L105.84 400.44L107.46 400.25L108.63 399.13L109.54 396.67L109.22 391.39L98.1 361.95L97.19 360.77ZM113.85 302.18L112.16 301.87L110.56 302.53L109.58 303.94L109.52 305.67L110.4 307.15L119.32 315.4L120.73 316.14L122.33 316.07L123.67 315.2L124.39 313.78L124.29 312.19L122.78 307.65L121.25 305.89ZM176.16 413.69L175.07 412.79L173.66 412.58L172.35 413.13L171.51 414.27L165.73 430.19L172.12 442.74L177.05 447.24L178.35 447.85L179.78 447.7L180.91 446.82L181.43 445.48L182.94 428.35L182.05 423.35L180.15 419.4ZM224.92 306L225.53 310.52L236.08 327.1L237.09 328.04L238.42 328.37L239.75 328.01L240.73 327.04L241.13 325.72L240.83 324.38L230.35 303.94L229.28 302.82L227.78 302.45L226.32 302.96L225.37 304.18ZM230.79 353.15L229.53 352.3L223.54 351.08L222.61 351.57L221.88 353.47L224.89 379.08L225.54 380.41L228.3 383.06L229.47 383.65L230.77 383.46L238.7 379.66L239.88 378.19L236.61 361.63ZM241.21 311.45L240.06 310.8L238.74 310.87L237.66 311.64L237.17 312.86L237.42 314.16L244.01 327.01L244.73 327.85L245.75 328.27L246.85 328.17L247.79 327.58L249.98 324.96L249.47 320.54L248.84 319.31Z"/>
<path fill="#000010" d="M118.61 440.24L110.51 431.39L109.51 431.35L108.63 431.82L106.5 438.38L106.57 439.61L110.93 450.21L111.93 451.23L123.8 456.36L124.82 456.5L125.77 456.07L126.34 455.22L126.04 453.1ZM92.86 429.87L91.91 428.02L90.89 427.06L84.04 423.49L82.56 423.21L81.17 423.8L80.33 425.06L78.31 431.86L78.25 433.09L78.76 434.22L92.38 451.46L93.49 452.28L94.87 452.42L96.12 451.83L96.9 450.69L96.98 449.3ZM101.55 304.58L93.28 309.2L92.99 310.17L93.24 311.14L105.15 332.03L113.92 340.12L114.86 340.58L115.9 340.48L116.72 339.84L117.09 338.86L117.36 332L104.13 305.42L103.47 304.68L102.52 304.37ZM228.6 386.05L224.68 382.49L223.63 382.53L222.75 383.1L222.28 384.04L222.35 385.09L228.11 401.24L234.79 408.14L235.75 408.67L236.84 408.61L237.74 407.98L238.16 406.96L237.98 405.88ZM122.95 405.02L124.31 405.45L125.7 405.12L126.71 404.12L127.06 402.74L126.65 401.38L119.03 389.36L117.95 388.4L116.54 388.14L115.19 388.66L111.13 392.08L110.87 393.32L111.29 397L112.15 397.92ZM78.19 345.95L89.97 358.04L91.22 358.58L96.28 358.72L97.82 357.94L98.03 356.22L88.48 332.44L86.93 332L80.23 333.22L79.22 333.77L78.74 334.82L77.73 344.04ZM118.91 317.67L117.43 316.92L115.79 317.07L114.46 318.06L113.86 319.6L114.17 321.22L118.05 329.02L119.21 330.27L120.85 330.69L122.47 330.15L123.53 328.82L123.71 327.13L122.76 322.05L121.85 320.39ZM196.76 409.53L204.95 418.81L205.78 419.35L206.76 419.39L207.63 418.92L208.13 418.07L208.14 417.09L198.09 379.82L197.18 378.67L190.76 375.19L189.71 374.97L188.71 375.37L183.99 379.13L183.29 380.57ZM155.36 354.58L156.15 356.09L169.77 367.32L170.82 367.79L171.96 367.65L172.87 366.95L173.3 365.88L173.11 364.75L167.53 352.6L166.84 351.76L157.65 350.31L156.4 350.52L155.49 351.39ZM154.61 345.16L154.96 346.74L156.02 347.97L157.53 348.56L162.74 349.23L164.68 348.9L166.09 347.53L166.49 345.61L165.69 337.12L164.69 335.03L160.6 331.09L158.92 330.21L157.03 330.4L155.55 331.59L154.95 333.39ZM142.82 395.24L141.58 394.62L140.18 394.65L138.96 395.32L138.19 396.48L138.05 397.87L139.52 407.27L141.02 409.66L151.47 417.81L152.76 418.39L154.17 418.28L155.37 417.53L156.07 416.29L156.1 414.88L154 405.52L153.05 403.94ZM128.28 382.35L129.75 383.11L131.4 383.05L132.82 382.21L133.66 380.78L133.69 379.13L130.38 364.97L129.62 363.52L124.65 357.95L123.02 356.96L121.12 357.03L119.57 358.14L114.65 364.52L113.98 366.25L114.35 368.08L116.67 372.01Z"/>
<path fill="#00001e" d="M104.84 401.78L103 401.88L101.48 402.92L100.71 404.6L100.92 406.43L109.04 426.62L112.59 430.95L113.94 431.89L115.57 432.09L117.11 431.52L118.22 430.3L118.62 428.7L118.71 420.56L118.16 418.66L108.49 403.6L107.56 402.63ZM206.68 363.92L205.7 363.15L204.47 362.91L203.27 363.26L202.36 364.12L201.95 365.3L200.96 377.86L210.23 388.8L211.37 389.56L212.74 389.65L213.97 389.05L219.09 384.6L219.79 383.64L219.96 381.69L219.4 380.18ZM230.96 406.93L229.46 406.09L227.74 406.16L226.31 407.1L225.57 408.66L225.75 410.37L231 423.66L232.06 425.05L240.51 431.34L242.35 431.97L244.22 431.41L245.3 430.67L246.61 428.74L247.27 425.8L247.29 424.49L246.78 423.28L245.15 421.02ZM183.71 418.38L182.84 419.23L182.49 420.38L182.72 421.57L183.79 423.41L203.17 441L204.15 441.55L205.27 441.6L206.84 440.77L207.57 439.9L207.85 438.81L208.06 425.33L207.42 423.64L197.51 412.55L196.59 411.91L195.48 411.73L194.4 412.07ZM179.03 377.04L156.2 358.55L155.08 358.55L154.08 359.04L153.39 359.95L153.19 361.26L159.2 383.74L165.25 394.37L167.96 397.17L169.1 397.35L170.2 397L171.01 396.18L180.22 381.16L180.58 379.79L180.13 378.45ZM138.13 358.81L136.34 358.7L134.77 359.54L133.87 361.1L133.93 362.89L134.93 364.38L149.52 376.75L151 377.46L152.64 377.36L154.03 376.48L154.8 375.03L154.77 373.38L152.54 365.37L151.78 364.02L150.48 363.17ZM135.9 391.49L135.23 390.23L120.73 377.32L119.85 376.86L117.98 377.33L117.32 379.15L118.49 386.16L128.84 402.47L129.9 403.31L135.81 405.09L136.75 404.66L137.37 403.81L137.49 402.78ZM131.74 405.46L129.88 405.33L128.22 406.16L127.2 407.72L127.12 409.58L131.47 428.87L134.93 434.75L135.96 435.82L138.68 437.63L140.23 438.2L141.87 438L143.25 437.07L144.05 435.63L144.11 433.97L139.32 410.37L138.77 408.98L136.76 407.21ZM227.58 340.6L228.36 341.73L229.61 342.34L230.99 342.26L232.15 341.51L232.8 340.28L235.25 328.85L226.3 314.39L225.04 313.34L223.41 313.19L221.99 314.01L220.19 315.96L219.52 317.27L219.64 318.74Z"/>
<ellipse cx="92.25" cy="399.78" rx="3.05" ry="1.66" fill="#1f3dff" transform="rotate(42.44 92.25 399.78)"/><ellipse cx="145.17" cy="444.81" rx="2.5" ry="1.51" fill="#1f3dff" transform="rotate(74.55 145.17 444.81)"/><ellipse cx="231.45" cy="349.89" rx="2.86" ry="1.28" fill="#1f3dff" transform="rotate(62.6 231.45 349.89)"/><ellipse cx="177.82" cy="341.82" rx="2.23" ry="1.84" fill="#28b4ff" transform="rotate(59.89 177.82 341.82)"/><ellipse cx="133.61" cy="327.28" rx="2.75" ry="1.5" fill="#28b4ff" transform="rotate(74.41 133.61 327.28)"/><ellipse cx="182.49" cy="377.99" rx="3.78" ry="1.75" fill="#1f3dff" transform="rotate(82.71 182.49 377.99)"/><ellipse cx="110.63" cy="394.63" rx="2.98" ry="1.25" fill="#1f3dff" transform="rotate(81.48 110.63 394.63)"/><ellipse cx="123.2" cy="406.57" rx="3.49" ry="1.22" fill="#28b4ff" transform="rotate(55.09 123.2 406.57)"/><ellipse cx="172.23" cy="402.37" rx="2.62" ry="1.86" fill="#28b4ff" transform="rotate(50.92 172.23 402.37)"/><ellipse cx="202.29" cy="346.23" rx="3.11" ry="1.25" fill="#28b4ff" transform="rotate(76.9 202.29 346.23)"/><ellipse cx="150.4" cy="362.21" rx="3.26" ry="1.75" fill="#1f3dff" transform="rotate(76.75 150.4 362.21)"/><ellipse cx="162.62" cy="393.33" rx="3.55" ry="1.76" fill="#1f3dff" transform="rotate(85.4 162.62 393.33)"/><ellipse cx="120.93" cy="442.3" rx="3.59" ry="1.75" fill="#28b4ff" transform="rotate(70.2 120.93 442.3)"/><ellipse cx="161.93" cy="424.38" rx="3.51" ry="1.22" fill="#28b4ff" transform="rotate(85.3 161.93 424.38)"/><ellipse cx="233.29" cy="425.54" rx="2.46" ry="1.5" fill="#28b4ff" transform="rotate(61.76 233.29 425.54)"/><ellipse cx="180.44" cy="375.08" rx="3.46" ry="1.5" fill="#28b4ff" transform="rotate(75.47 180.44 375.08)"/><ellipse cx="137.91" cy="321.49" rx="2.86" ry="1.4" fill="#1f3dff" transform="rotate(59.44 137.91 321.49)"/><ellipse cx="108.91" cy="400.05" rx="2.39" ry="1.9" fill="#1f3dff" transform="rotate(80.51 108.91 400.05)"/><ellipse cx="115.72" cy="385.01" rx="2.92" ry="1.67" fill="#1f3dff" transform="rotate(47.62 115.72 385.01)"/><ellipse cx="188.46" cy="320.44" rx="2.83" ry="1.44" fill="#1f3dff" transform="rotate(72.9 188.46 320.44)"/><ellipse cx="96.5" cy="428.45" rx="2.52" ry="1.65" fill="#1f3dff" transform="rotate(69.99 96.5 428.45)"/><ellipse cx="185.56" cy="322.82" rx="3.3" ry="1.23" fill="#1f3dff" transform="rotate(82.8 185.56 322.82)"/><ellipse cx="222.86" cy="347.29" rx="3.12" ry="1.8" fill="#28b4ff" transform="rotate(48.53 222.86 347.29)"/><ellipse cx="161.23" cy="385.23" rx="2.77" ry="1.9" fill="#1f3dff" transform="rotate(85.79 161.23 385.23)"/><ellipse cx="148.1" cy="443.67" rx="2.89" ry="1.7" fill="#1f3dff" transform="rotate(60.94 148.1 443.67)"/><ellipse cx="222.14" cy="433.61" rx="3.31" ry="1.25" fill="#1f3dff" transform="rotate(58.23 222.14 433.61)"/><ellipse cx="134.48" cy="388.46" rx="3.32" ry="1.84" fill="#1f3dff" transform="rotate(54.17 134.48 388.46)"/><ellipse cx="154.93" cy="349.13" rx="3.65" ry="1.85" fill="#1f3dff" transform="rotate(53.7 154.93 349.13)"/><ellipse cx="226.25" cy="401.34" rx="3.76" ry="1.88" fill="#28b4ff" transform="rotate(41.66 226.25 401.34)"/><ellipse cx="117.15" cy="384.48" rx="3" ry="1.86" fill="#1f3dff" transform="rotate(40.76 117.15 384.48)"/><ellipse cx="138.11" cy="321.35" rx="3.72" ry="1.52" fill="#1f3dff" transform="rotate(49.68 138.11 321.35)"/><ellipse cx="153.73" cy="361.83" rx="3.55" ry="1.32" fill="#28b4ff" transform="rotate(77 153.73 361.83)"/><ellipse cx="188.8" cy="319.69" rx="2.82" ry="1.85" fill="#28b4ff" transform="rotate(73.79 188.8 319.69)"/><ellipse cx="136.68" cy="437.31" rx="3.63" ry="1.73" fill="#28b4ff" transform="rotate(49.78 136.68 437.31)"/><ellipse cx="168.83" cy="399.65" rx="2.38" ry="1.74" fill="#28b4ff" transform="rotate(44.09 168.83 399.65)"/><ellipse cx="111.01" cy="391.41" rx="2.6" ry="1.22" fill="#28b4ff" transform="rotate(55.75 111.01 391.41)"/><ellipse cx="92.24" cy="424.81" rx="2.54" ry="1.74" fill="#1f3dff" transform="rotate(61.23 92.24 424.81)"/><ellipse cx="121.11" cy="356.76" rx="2.85" ry="1.49" fill="#1f3dff" transform="rotate(54.21 121.11 356.76)"/><ellipse cx="199.84" cy="346.7" rx="2.54" ry="1.77" fill="#1f3dff" transform="rotate(43.15 199.84 346.7)"/><ellipse cx="215.78" cy="426" rx="3.25" ry="1.53" fill="#1f3dff" transform="rotate(41.83 215.78 426)"/><ellipse cx="217.02" cy="400.12" rx="3.12" ry="1.73" fill="#1f3dff" transform="rotate(60.74 217.02 400.12)"/><ellipse cx="180.97" cy="327.37" rx="3.15" ry="1.29" fill="#1f3dff" transform="rotate(83.13 180.97 327.37)"/><ellipse cx="107.55" cy="439.81" rx="3.17" ry="1.79" fill="#1f3dff" transform="rotate(63.79 107.55 439.81)"/><ellipse cx="96.12" cy="431.12" rx="3.57" ry="1.26" fill="#1f3dff" transform="rotate(56.68 96.12 431.12)"/><ellipse cx="121.64" cy="438.17" rx="2.87" ry="1.21" fill="#1f3dff" transform="rotate(41.07 121.64 438.17)"/><ellipse cx="121.28" cy="332.7" rx="2.38" ry="1.21" fill="#28b4ff" transform="rotate(44.59 121.28 332.7)"/><ellipse cx="161.61" cy="386.66" rx="3.03" ry="1.63" fill="#1f3dff" transform="rotate(76.16 161.61 386.66)"/><ellipse cx="157.07" cy="357.69" rx="2.33" ry="1.46" fill="#28b4ff" transform="rotate(75 157.07 357.69)"/><ellipse cx="138.33" cy="322.08" rx="3.62" ry="1.66" fill="#1f3dff" transform="rotate(53.52 138.33 322.08)"/><ellipse cx="98.82" cy="398.27" rx="3.79" ry="1.24" fill="#1f3dff" transform="rotate(57.86 98.82 398.27)"/><ellipse cx="180.58" cy="417.07" rx="3.51" ry="1.4" fill="#28b4ff" transform="rotate(59.43 180.58 417.07)"/><ellipse cx="117.47" cy="331.79" rx="3.31" ry="1.9" fill="#1f3dff" transform="rotate(77.05 117.47 331.79)"/><ellipse cx="209.01" cy="422.61" rx="3.38" ry="1.71" fill="#1f3dff" transform="rotate(49.81 209.01 422.61)"/><ellipse cx="183.77" cy="377.08" rx="3.21" ry="1.63" fill="#28b4ff" transform="rotate(62.98 183.77 377.08)"/><ellipse cx="208.42" cy="440.05" rx="2.78" ry="1.72" fill="#1f3dff" transform="rotate(54.42 208.42 440.05)"/>
</g></g>
<clipPath id="cp1"><rect x="237.2" y="324.4" width="140.9" height="116.3"/></clipPath>
<g clip-path="url(#cp1)">
<g filter="url(#soft)">
<rect x="235.2" y="322.4" width="144.9" height="120.3" fill="#1cd01c"/>
<path fill="#000422" d="M388.26 312.15L386.79 313.4L384.07 317.11L383.26 319.31L383.75 321.6L395.7 343.95L396.99 345.41L398.81 346.14L400.75 345.98L423.92 338.36L425.81 337.1L426.77 335.04L426.53 332.79L425.15 330.98L397.54 310.06L395.34 309.22L393.04 309.67ZM358.48 426.06L359.48 427.59L361.09 428.47L362.92 428.48L374.99 425.49L376.8 424.43L377.76 422.57L382.38 398.6L382.28 396.79L381.34 395.24L379.78 394.32L377.97 394.23L353.89 399.11L352.31 399.85L351.23 401.22L351 404.18ZM358.38 312.41L356.75 314.92L356.51 317.91L357.73 320.64L361.39 323.02L365.59 323.24L377.69 319.49L380.59 317.54L381.94 314.31L381.28 310.87L378.84 308.36L372.64 304.92L368.96 304.2L365.56 305.78ZM349.01 390.15L348.48 392.21L349.16 394.23L350.52 396.16L352.19 397.46L354.3 397.65L382.72 391.89L384.64 390.85L386.67 388.78L387.6 387.15L387.62 385.26L382.28 364.15L381.29 362.41L379.54 361.44L377.55 361.51L365.06 365.48L363.01 367.1ZM336.84 325.15L335.24 326.92L334.6 329.23L335.04 331.57L336.49 333.48L344.16 339.81L346.56 340.92L349.19 340.72L357.8 337.76L360.14 336.13L361.28 333.51L361.86 329.24L361.23 325.97L358.74 323.74L351.29 320.53L347.42 320.42L340.01 323.15ZM355.23 433.3L353.82 434.81L353.39 436.82L354.06 438.77L366.65 457.15L367.93 458.33L369.6 458.82L371.31 458.53L388.5 451.35L390.46 449.52L396.06 438.31L396.44 436.18L395.61 434.18L392.86 430.75L390.8 429.42L378.76 426.4L376.9 426.4L360.05 430.57ZM319.73 396.08L320.57 394.25L320.31 392.26L319.04 390.71L309.77 384.32L307.51 383.68L300.2 384.07L298.64 384.51L297.42 385.6L293.38 391.33L292.73 393.11L293.06 394.97L296.25 401.08L297.49 401.81L308.5 405.64L310.64 405.72L312.45 404.57ZM329.32 383.73L328.94 386.37L329.84 388.89L331.8 390.7L334.38 391.39L343.29 391.56L346.09 390.87L348.17 388.88L355.35 377.05L356.16 374.21L355.41 371.36L353.31 369.29L350.45 368.58L347.62 369.43L332.36 379.01L330.16 381.65ZM254.28 322.91L252.53 325.53L252.42 328.69L254 331.43L256.78 332.93L259.93 332.73L289.35 322.34L292.01 320.41L293.18 317.34L292.49 314.13L290.15 311.82L284.03 308.55L280.58 307.92L272.07 309.02L269.07 310.34ZM235.47 382.77L233.73 383.88L232.91 385.77L233.29 387.8L239.07 398.79L240.17 400.04L241.72 400.64L243.38 400.46L258.24 395.13L260.21 393.35L266.31 380.8L266.66 379.05L266.09 377.34L264.76 376.14L261.6 375.56ZM290.47 330.4L290.41 332.32L292.13 341.58L293.37 343.94L296.78 345.38L298.65 345.33L321.81 339.79L324.44 338.01L327.28 333.99L328.06 331.98L327.82 329.83L326.6 328.04L324.7 327.03L297.65 320.26L295.33 320.3L293.33 321.49L292.2 323.53ZM214.02 407.68L213.31 410.57L214.08 413.45L216.15 415.6L218.99 416.48L224.41 416.75L226.5 416.49L232.67 414.56L235.13 413.06L236.61 410.58L238.33 404.9L237.9 400.38L233.25 391.54L231.06 389.21L227.98 388.34L224.89 389.19L222.68 391.5ZM254.7 424.93L252.02 425.44L249.88 427.12L248.75 429.6L248.89 432.32L250.26 434.68L258.12 442.85L260.54 444.35L263.38 444.51L265.95 443.29L267.62 441L270.68 433.37L271.07 430.68L270.18 428.12L268.22 426.24L265.62 425.47Z"/>
<path fill="#00001e" d="M362.7 334.55L362.99 336.87L364.38 338.75L382.37 353.11L385 354.11L387.71 353.39L392.51 350.33L394.05 348.68L394.63 346.49L394.08 344.29L382.83 323.26L381.45 321.69L379.52 320.89L377.43 321.04L366.76 324.35L364.62 325.76L363.57 328.11ZM354.25 469.86L355.75 470.35L357.31 470.15L358.64 469.3L365.2 462.68L366.06 461.28L366.21 459.64L365.61 458.11L357.31 445.98L355.71 444.69L353.66 444.48L351.83 445.43L350.82 447.22L347.31 462.84L347.51 465.05L348.98 466.72ZM289.36 392.29L290.82 391.83L291.95 390.8L295.96 385.12L296.59 383.44L296.31 381.67L294.73 379.67L292.63 379.18L279.48 380.19L277.74 380.8L276.54 382.21L276.22 384.02L276.86 385.76L280.76 391.27L282.15 392.43L283.95 392.75ZM325.19 339.37L324.41 341.31L322.67 353.08L323.09 355.73L324.93 357.67L327.56 358.23L337.23 357.33L339.55 356.42L341.04 354.42L344.19 345.98L344.33 343.23L342.84 340.92L334.76 334.24L332.52 333.25L330.1 333.58L328.2 335.12ZM212.43 358.43L210.58 360.15L209.76 362.53L210.17 365.03L211.71 367.03L225.91 378.22L228.51 379.3L231.28 378.86L233.41 377.04L248 355.25L248.85 352.87L248.47 350.37L246.95 348.35L243.15 345.29L240.37 344.16L237.43 344.78ZM266.6 398.43L269.73 399.35L272.86 398.42L275.23 396.9L277.28 394.61L277.87 391.59L276.82 388.69L275.02 386.15L272.75 384.25L269.83 383.72L267.03 384.71L265.1 386.96L263.45 390.34L262.88 393.05L263.62 395.72ZM274.46 342.33L272.43 344.5L271.66 347.37L272.33 350.27L274.28 352.51L277.05 353.58L280 353.22L285.23 351.22L287.97 349.15L289.51 347.07L290.57 344.79L290.57 341.99L289.33 339.27L286.95 337.46L284 336.99L281.18 337.96ZM264.64 367.73L265.03 370.28L266.69 372.25L269.12 373.07L271.63 372.51L286.01 364.81L288.09 362.61L288.43 359.61L288.07 357.95L286.78 355.58L284.4 354.28L281.7 354.49L268.19 359.66L266.13 361.18L265.15 363.54ZM295.77 346.76L292.88 347.04L290.58 348.8L288.99 351.71L288.99 353.93L290.3 360.07L291.45 362.4L293.58 363.89L298.11 365.62L300.2 365.96L302.25 365.44L305.39 363.94L307.37 362.3L308.33 359.92L308.06 357.36L306.6 355.24L298.41 348.02ZM238.52 371.96L237.77 374.03L238.08 376.22L239.36 378L241.34 378.98L243.54 378.92L259.33 374.57L261.58 373.14L262.66 370.71L263.63 362.64L263.41 360.56L262.28 358.81L257.48 354.13L254.93 352.85L252.19 353.03L250.04 354.75ZM274.21 410.48L276.35 411.14L278.52 410.61L291.37 403.42L292.88 401.99L293.52 400.01L292.35 396.32L290.64 394.47L288.19 393.92L282.75 394.39L280.83 395.04L271.92 400.78L270.66 402.03L270.04 403.69L270.2 407.11L271.77 408.92Z"/>
<path fill="#000010" d="M384.43 357.36L383.2 359.7L383.21 362.35L388.4 382.88L390.3 385.82L393.59 387.01L432.87 387.89L434.77 387.6L641.8 316.64L644.04 315.18L645.33 312.83L645.35 310.15L644.1 307.79L641.88 306.3L639.21 306.03L434.23 336.71L397.82 348.59L385.94 355.98ZM319.73 389.63L322.19 390.4L324.66 389.66L326.28 387.66L328.34 382.57L328.54 379.95L327.22 377.68L323.68 374.47L321.67 373.44L319.42 373.54L317.51 374.75L313.41 379.19L312.32 381.4L312.59 383.86L314.14 385.77ZM296.87 311.95L295.54 313.67L295.34 315.83L296.34 317.77L298.21 318.86L329.25 326.63L330.89 326.68L332.4 326.06L335.52 323.9L336.99 321.92L336.98 319.44L330.97 301.94L329.09 299.76L325.41 298.13L318.69 297.35L315.96 298.06ZM347.13 305.63L346.4 302.97L344.42 301.05L341.73 300.39L339.43 300.44L337.05 301.07L335.21 302.7L334.32 304.99L334.55 307.43L336.9 314.27L338.59 316.68L341.3 317.81L344.19 317.31L346.38 315.35L347.18 312.53ZM256.28 413.76L254.17 415.44L253.22 417.95L253.69 420.6L255.45 422.64L258.01 423.48L270.46 424.1L273.13 423.5L275.09 421.6L275.78 418.96L275.72 415.64L275.08 413.26L273.39 411.46L270.97 409.91L268.66 409.13L266.26 409.52ZM218.84 435.27L218.41 438.29L219.58 441.11L222.03 442.94L225.07 443.25L227.84 441.97L241.68 430.27L243.58 427.12L244 425.23L243.39 420.95L241.02 418.1L238.62 416.63L236.32 415.83L233.9 416.05L228.69 417.68L226.56 418.89L225.12 420.87Z"/>
<path fill="#000014" d="M389.97 427.71L392.09 427.69L393.93 426.64L425.06 396.18L426.24 394.06L426.03 391.64L424.53 389.74L422.22 388.98L391.07 388.28L389.39 388.59L385.77 391.79L384.64 393.94L379.43 420.97L379.56 423.07L380.69 424.84L382.53 425.84ZM342.76 354.39L342.57 356.09L343.2 357.68L344.5 358.8L353.8 363.43L362.46 364.38L379.05 359.38L380.64 358.35L381.46 356.65L381.3 354.77L380.19 353.24L363.04 339.55L361.44 338.83L359.68 338.97L348.45 342.84L347.14 343.65L346.29 344.95ZM312.1 412.63L312.94 415.18L314.88 417.03L317.47 417.74L320.08 417.14L346.43 403.73L348.69 401.6L349.43 398.58L348.43 395.64L346.2 393.52L343.73 392.88L327.04 392.56L324.68 393.04L322.75 394.48L313.19 405.64L311.88 409.62ZM282.83 368.26L280.8 370.21L280.07 372.94L280.86 375.64L282.94 377.55L285.7 378.09L292.05 377.61L294.7 376.64L296.46 374.45L297.16 372.83L297.53 370.08L296.45 367.52L294.21 365.88L292.39 365.18L290.19 364.85L288.06 365.46ZM319.63 365.33L319.08 363.25L317.48 361.83L315.35 361.53L302.26 367.52L300.45 369.41L297.38 376.57L297.08 378.04L297.71 380.24L299.17 381.92L301.31 382.46L306.97 382.16L309.5 380.97L318.53 371.18L319.51 368.79ZM326.78 359.81L324.07 360.75L322.1 362.83L321.33 365.59L321.73 370L323.23 372.12L327.03 375.56L330.53 377.09L334.26 376.2L343.61 370.33L345.74 368.01L346.42 364.94L345.45 361.95L341.99 359.3L338.75 358.7ZM325.44 457.35L324.23 459.03L324.12 461.09L325.16 462.89L328.83 465.94L330.35 466.13L342.59 465.11L344.69 464.22L345.85 462.27L349.27 447.07L349.23 445.29L348.36 443.75L346.86 442.8L345.09 442.66L343.47 443.38ZM313.19 450.36L313.43 452L314.46 453.3L319.28 456.86L321.21 457.48L323.13 456.81L346.01 439.09L347.07 437.61L347.15 435.8L346.24 434.23L344.61 433.42L319.14 428.84L317.43 429L316.05 430.02L315.4 431.61ZM224.75 446.49L223.35 448.48L223.12 450.9L224.12 453.12L226.08 454.56L237.2 458.95L239.11 459.28L258.63 458.63L261.63 457.57L263.51 455.7L264.1 453.12L262.77 450.06L246.91 433.58L244.9 432.34L242.53 432.22L240.4 433.25ZM277.11 416.82L277.99 419.78L280.28 421.85L283.32 422.43L305.6 420.53L308.37 419.53L310.27 417.29L310.82 414.4L310.6 411.42L309.43 408.35L306.77 406.43L298.12 403.42L295.74 403.13L293.45 403.83L280.03 411.33L277.86 413.47Z"/>
<path fill="#00000a" d="M246.39 303.41L244.57 303.44L243.02 304.37L239.97 307.54L239.17 308.84L239 310.35L239.49 311.79L245.98 322.53L247.45 323.87L249.42 324.19L251.25 323.38L263.13 313.29L264.19 311.72L264.27 309.82L263.35 308.16L261.71 307.22ZM319.88 418.8L318.16 420.31L317.37 422.46L317.7 424.73L319.08 426.56L321.16 427.51L350.93 432.86L354.17 432.25L355.15 431.65L356.63 430.21L357.34 428.25L357.12 426.19L351.18 408.81L349.68 406.68L347.25 405.7L344.69 406.18ZM277.37 459.97L280.37 460.27L308.55 452.91L310.73 451.56L311.76 449.23L313.32 436.04L312.91 433.63L311.26 431.82L308.9 431.2L306.58 431.94L276.55 452.35L275.08 454.04L274.66 456.24L275.39 458.35ZM237.57 337.47L239.1 338.28L240.83 338.3L242.39 337.53L243.42 336.14L246.41 329.05L246.69 327.35L246.17 325.71L238.68 313.32L237.35 312.02L235.55 311.53L233.75 311.99L222.96 317.93L221.67 319.11L221.07 320.75L221.3 322.49L222.29 323.92ZM235.22 344.36L236.59 343.11L237.23 341.36L236.99 339.52L235.94 338L218.19 322.27L216.82 321.48L215.24 321.3L76.74 334.01L74.97 334.62L73.68 335.99L73.18 337.79L73.58 339.62L74.79 341.06L76.52 341.77L203.71 360.66L206.16 360.23ZM265.79 449.95L265.56 451.8L266.26 453.53L267.71 454.71L269.56 455.02L271.32 454.39L309.34 428.56L310.6 427.1L310.96 425.21L310.31 423.39L308.84 422.14L306.95 421.8L278.29 424.25L276.4 424.96L275.16 426.56Z"/>
<path fill="#000018" d="M348.73 307.57L349.57 310.34L351.78 312.19L354.65 312.54L357.24 311.26L365.56 303.58L366.96 301.36L367.06 298.73L365.83 296.41L363.6 295.01L360.62 294.1L358.38 293.93L356.28 294.76L350.92 298.41L349.28 300.25L348.7 302.63ZM311.3 357.4L314.16 358.8L317.33 358.54L319.92 356.69L321.21 353.78L321.84 349.5L321.56 346.62L319.96 344.2L317.41 342.81L314.51 342.79L310.2 343.82L307.37 345.39L305.77 348.2L305.86 351.44L307.62 354.16ZM248.48 338.3L246.35 339.78L245.26 342.12L245.51 344.7L247.03 346.8L250.9 349.92L252.83 350.88L256.79 351.42L258.65 350.7L277.7 338.3L279.32 336.58L279.94 334.3L279.44 331.98L277.91 330.18L275.72 329.28L273.37 329.51ZM238.64 409.34L238.6 412.67L240.36 415.49L243.36 416.94L246.67 416.54L263.7 409.29L266.2 407.31L267.31 404.32L266.72 401.19L264.59 398.81L262.54 397.48L259.99 396.58L257.3 396.89L243.41 401.88L241.11 403.38L239.73 405.75Z"/>
<ellipse cx="269.36" cy="378.68" rx="3.36" ry="1.71" fill="#1f3dff" transform="rotate(-25.63 269.36 378.68)"/><ellipse cx="320.88" cy="342.03" rx="2.84" ry="1.41" fill="#28b4ff" transform="rotate(-16.26 320.88 342.03)"/><ellipse cx="352.12" cy="364.82" rx="3.48" ry="1.8" fill="#28b4ff" transform="rotate(-32.63 352.12 364.82)"/><ellipse cx="312.7" cy="424.34" rx="2.38" ry="1.51" fill="#1f3dff" transform="rotate(-20.66 312.7 424.34)"/><ellipse cx="312.86" cy="359.27" rx="3.45" ry="1.32" fill="#28b4ff" transform="rotate(-17.52 312.86 359.27)"/><ellipse cx="362.68" cy="366.32" rx="3.51" ry="1.59" fill="#1f3dff" transform="rotate(-19.02 362.68 366.32)"/><ellipse cx="356.96" cy="364.03" rx="3.46" ry="1.88" fill="#1f3dff" transform="rotate(-27.69 356.96 364.03)"/><ellipse cx="237.45" cy="402.27" rx="3.72" ry="1.61" fill="#1f3dff" transform="rotate(-6.34 237.45 402.27)"/><ellipse cx="245.35" cy="426.94" rx="3.32" ry="1.39" fill="#1f3dff" transform="rotate(-45.95 245.35 426.94)"/><ellipse cx="287.35" cy="353.67" rx="3.01" ry="1.62" fill="#28b4ff" transform="rotate(-45.14 287.35 353.67)"/><ellipse cx="284.98" cy="349.66" rx="3.07" ry="1.57" fill="#28b4ff" transform="rotate(-32.71 284.98 349.66)"/><ellipse cx="285.46" cy="350.59" rx="3.7" ry="1.78" fill="#28b4ff" transform="rotate(-4.98 285.46 350.59)"/><ellipse cx="297.58" cy="365.65" rx="3.75" ry="1.76" fill="#28b4ff" transform="rotate(-25.61 297.58 365.65)"/><ellipse cx="241.4" cy="403.3" rx="3.71" ry="1.45" fill="#1f3dff" transform="rotate(-40.01 241.4 403.3)"/><ellipse cx="363.06" cy="322.04" rx="2.5" ry="1.35" fill="#1f3dff" transform="rotate(-37.68 363.06 322.04)"/><ellipse cx="311.72" cy="361.47" rx="3.47" ry="1.36" fill="#1f3dff" transform="rotate(-38.92 311.72 361.47)"/><ellipse cx="268.05" cy="409.96" rx="3.62" ry="1.44" fill="#28b4ff" transform="rotate(-36.91 268.05 409.96)"/><ellipse cx="283.09" cy="391.25" rx="2.24" ry="1.76" fill="#28b4ff" transform="rotate(-29.33 283.09 391.25)"/><ellipse cx="242.61" cy="418.28" rx="3.19" ry="1.45" fill="#28b4ff" transform="rotate(-10.91 242.61 418.28)"/><ellipse cx="346.33" cy="339.96" rx="2.75" ry="1.46" fill="#28b4ff" transform="rotate(-32.15 346.33 339.96)"/><ellipse cx="276.23" cy="426.81" rx="3.47" ry="1.67" fill="#1f3dff" transform="rotate(0.6 276.23 426.81)"/><ellipse cx="378.91" cy="427.69" rx="2.61" ry="1.72" fill="#28b4ff" transform="rotate(-40.15 378.91 427.69)"/><ellipse cx="249.67" cy="351.53" rx="3.42" ry="1.5" fill="#1f3dff" transform="rotate(-12.61 249.67 351.53)"/><ellipse cx="294.9" cy="348.57" rx="3.61" ry="1.48" fill="#28b4ff" transform="rotate(-44.38 294.9 348.57)"/><ellipse cx="352.64" cy="437.28" rx="3.3" ry="1.24" fill="#1f3dff" transform="rotate(1.3 352.64 437.28)"/><ellipse cx="330.93" cy="379.36" rx="3.07" ry="1.66" fill="#1f3dff" transform="rotate(-43.07 330.93 379.36)"/><ellipse cx="295.66" cy="382.37" rx="2.95" ry="1.71" fill="#1f3dff" transform="rotate(-26.09 295.66 382.37)"/><ellipse cx="349.72" cy="405.73" rx="2.9" ry="1.68" fill="#28b4ff" transform="rotate(-33.79 349.72 405.73)"/><ellipse cx="352.08" cy="401.46" rx="2.27" ry="1.5" fill="#1f3dff" transform="rotate(-31.65 352.08 401.46)"/><ellipse cx="240.5" cy="340.03" rx="2.92" ry="1.78" fill="#28b4ff" transform="rotate(-14.67 240.5 340.03)"/><ellipse cx="298.24" cy="365.47" rx="3.75" ry="1.66" fill="#28b4ff" transform="rotate(-10.74 298.24 365.47)"/><ellipse cx="338.48" cy="357.75" rx="2.92" ry="1.71" fill="#1f3dff" transform="rotate(-23.12 338.48 357.75)"/><ellipse cx="352.95" cy="434.57" rx="2.92" ry="1.31" fill="#1f3dff" transform="rotate(-28.96 352.95 434.57)"/><ellipse cx="328.23" cy="394.24" rx="3.15" ry="1.41" fill="#1f3dff" transform="rotate(-26.03 328.23 394.24)"/><ellipse cx="262.97" cy="377.22" rx="3.47" ry="1.3" fill="#28b4ff" transform="rotate(-13.57 262.97 377.22)"/><ellipse cx="282.16" cy="392.17" rx="3.38" ry="1.57" fill="#28b4ff" transform="rotate(-26.05 282.16 392.17)"/><ellipse cx="298.17" cy="379.56" rx="2.35" ry="1.8" fill="#1f3dff" transform="rotate(-43.75 298.17 379.56)"/><ellipse cx="311.19" cy="427.34" rx="3.74" ry="1.87" fill="#28b4ff" transform="rotate(1.17 311.19 427.34)"/><ellipse cx="233.78" cy="415.58" rx="3.77" ry="1.65" fill="#28b4ff" transform="rotate(-9.77 233.78 415.58)"/><ellipse cx="323.53" cy="392.63" rx="2.64" ry="1.24" fill="#1f3dff" transform="rotate(-42.27 323.53 392.63)"/>
</g></g>
<clipPath id="cp2"><rect x="381.9" y="325.1" width="141" height="117.1"/></clipPath>
<g clip-path="url(#cp2)">
<g filter="url(#soft)">
<rect x="379.9" y="323.1" width="145" height="121.1" fill="#1cd01c"/>
<path fill="#000422" d="M511.67 448.31L510.22 449.85L509.92 451.94L511.11 456.91L513.22 458.97L543.64 471.81L545.72 472.01L547.55 470.99L548.6 468.26L548.16 465.97L533.44 440.57L532.05 439.23L530.15 438.83L527.66 439.35ZM507.9 451.94L506.92 450.07L505.02 449.16L501.08 448.77L480.5 451.84L478.38 453.06L469.55 464.08L468.81 466.31L469.1 473.36L469.59 474.98L471.35 477.85L472.66 479.08L474.43 479.44L476.13 478.85L506.86 457.38L508.03 455.93L508.25 454.08ZM506.87 443.52L508.23 445.37L510.38 446.17L512.62 445.67L524.28 439.13L525.6 437.95L526.28 436.31L526.18 434.53L518.43 407.1L517.15 405.12L514.98 404.19L512.67 404.64L499.17 411.84L497.75 413.1L497.07 414.87L497.27 416.75ZM513.16 340.13L515.16 340.85L517.22 340.35L522.96 336.96L524.5 335.19L524.65 332.85L522.57 325.06L521.49 323.29L519.63 322.38L517.57 322.63L505.74 327.72L504.24 328.89L503.54 330.66L503.81 332.54L504.99 334.04ZM540.16 337.59L541.82 337.5L543.25 336.66L544.16 335.27L544.33 333.62L541.84 314.21L541.18 312.56L539.34 310.98L537.18 310.64L528.06 312.08L526.42 312.8L525.33 314.22L523.54 318.46L523.38 320.77L526.66 333.09L527.69 334.81L529.49 335.69ZM384.44 308.9L382.76 307.36L380.52 306.95L378.4 307.8L376.07 310.58L376.11 313.08L379.15 322.07L381.21 324.43L384.34 326L386.17 326.44L388.01 326.01L389.46 324.81L390.38 323.6L391.21 321.32L390.61 318.97ZM400.69 381.89L399.19 380.36L397.12 379.82L395.06 380.42L376.9 391.68L375.52 393.11L373.01 397.55L372.5 399.24L373.9 403.91L375.08 405.54L379.55 409.27L381.4 410.13L388.68 411.46L390.37 411.4L393.55 409.52L404.43 393.1L405.09 391.04L404.59 388.94Z"/>
<path fill="#000010" d="M447.3 404.75L448.26 403.08L448.27 401.16L446.76 396.8L445.41 395.8L443.77 395.48L419.54 396.27L417.52 396.94L416.19 398.6L415.97 400.72L417.44 408.43L418.54 410.45L420.61 411.45L436.35 413.64L438.07 413.48L439.53 412.57ZM419.06 429.53L416.23 430.14L414.13 432.14L413.4 434.95L414.25 437.72L421.83 449.45L423.53 451.1L425.78 451.85L430.79 452.34L433.26 451.99L435.29 450.56L438.82 446.55L440.08 443.8L439.65 440.81L436.24 433.42L434.41 431.27L431.75 430.34ZM396.92 408.24L396.45 409.86L396.98 411.46L398.32 412.48L408.97 416.38L410.57 416.48L411.97 415.7L414.76 412.87L415.46 411.7L415.53 410.34L412.57 396.05L409.67 393.97L408.29 393.55L406.88 393.86L405.8 394.82ZM354.36 423.59L354.06 425.21L354.53 426.79L355.66 427.98L357.21 428.53L372.34 430.13L374.08 429.87L375.48 428.8L376.19 427.19L378.49 413.34L378.31 411.53L377.26 410.05L374.18 407.97L372.57 407.96L371.12 408.68L355.77 421.32ZM360.75 447.76L362.38 448.37L364.08 448.05L375.84 442.27L377.19 441.04L377.65 439.28L377.58 436.43L376.62 434.04L375.58 432.99L374.19 432.5L357.67 430.76L355.97 431.04L354.65 432.16L354.1 433.8L353.71 440.82L354.02 442.38L355.04 443.61ZM518.5 342.19L516.96 343.83L516.5 346.03L516.87 350.75L517.53 352.69L519.04 354.06L521.03 354.53L533.36 354.27L535.48 353.63L536.95 351.97L540.36 345.01L540.77 343.19L540.33 341.36L539.12 339.93L537.4 339.19L528.28 337.57L525.49 338.07ZM479.66 361.73L481.37 360.03L482.16 357.74L481.88 355.34L479.1 347.61L477.56 345.37L475.13 344.17L472.42 344.3L454.49 349.95L452.23 351.35L450.92 353.66L446.17 371.02L446.09 373.56L447.5 376.22L449.55 377.76L452.08 378.18L454.51 377.38ZM487.62 301.61L485.3 301.22L483.15 302.18L481.87 304.17L481.91 306.52L488.17 326.43L489.09 328L490.59 329.02L493.9 329.18L496.02 328.4L497.4 326.61L502.75 313.25L503.01 311.24L502.28 309.35L500.74 308.04ZM432.9 291.95L433.46 294.37L445.36 314.45L447.65 316.27L450.32 317.13L452.66 317.19L454.66 315.96L460.74 309.2L461.62 307.64L461.76 305.85L461.13 304.17L441.67 274.53L440.18 273.16L438.21 272.66L436.24 273.17L434.76 274.55L434.11 276.47ZM420.93 304.85L419.68 307.04L419.86 309.55L424.79 322.55L426.34 324.54L428.73 325.34L431.17 324.67L440.67 318.67L442.17 317.06L442.69 314.91L442.09 312.79L434.25 299.57L432.36 297.85L429.83 297.5L427.54 298.62Z"/>
<path fill="#00000a" d="M437.64 461.76L439.02 464.01L441.3 465.35L457.93 470.32L460.69 470.41L463.14 469.15L464.67 466.86L464.89 464.11L463.74 461.61L451.94 447.16L450.02 445.67L447.65 445.15L444.93 445.18L442.71 445.67L440.87 447.04L437.11 451.32L435.86 453.81L436 456.59ZM378.01 428.5L378.17 430.51L379.25 432.21L381.01 433.21L383.02 433.27L390.2 431.72L392.25 430.61L393.39 428.57L393.26 426.24L389.61 415.88L388.38 414.09L384.9 412.88L382.73 413.06L380.94 414.32L380.03 416.31ZM459.76 433.31L460.54 435.43L462.28 436.88L464.51 437.27L466.64 436.5L472.87 432.17L474.16 430.77L474.74 428.95L475.67 418.19L475.39 416.21L474.25 414.56L472.5 413.58L463.67 411.07L461.55 410.99L459.65 411.91L458.4 413.62L458.09 415.71ZM387.18 331.57L386.27 329.68L384.64 328.35L380.54 326.29L377.12 325.94L369.94 327.88L367.76 329.14L366.52 331.33L366.54 333.84L369.16 343.22L370.27 345.21L372.16 346.47L374.48 347.31L377.08 347.5L379.4 346.33L386.56 339.76L387.91 337.63L388 335.1ZM384.6 452.33L385.13 450.65L384.84 448.91L383.78 447.5L380.61 444.89L378.66 444.06L376.57 444.41L366.14 449.54L364.85 450.59L364.13 452.1L364.15 453.77L366.18 462.33L367.3 464.23L369.29 465.18L373.77 465.83L375.91 465.51L377.52 464.06ZM396.38 371.58L399.42 372.75L402.57 371.88L414.73 363.69L416.54 361.57L416.98 358.65L416.22 356.46L414.58 354.81L393.27 341.4L390.03 340.62L386.99 341.96L381.07 347.4L379.52 350.06L379.75 353.14L382.1 359.04L383.63 361.14Z"/>
<path fill="#000018" d="M399.07 415.17L396.72 415.01L394.65 416.14L393.5 418.19L393.63 420.55L396.7 429.27L398.42 431.43L402.22 433.44L407.95 432.37L410.48 430.56L411.65 428.13L411.6 426.44L410.42 421.36L409.47 419.52L407.76 418.35ZM413.83 416.5L412.57 418.66L412.52 421.16L413.17 423.98L414.81 426.67L417.73 427.85L430.43 428.67L432.74 428.27L434.62 426.86L435.65 424.75L436.44 421.18L436.28 418.46L434.73 416.23L432.23 415.13L419.73 413.39L417.43 413.61L415.47 414.84ZM449.75 347.69L451.4 348.72L453.35 348.68L472.35 342.7L473.92 341.67L474.72 339.97L474.51 338.1L473.35 336.62L458.88 326.04L457.07 325.38L455.19 325.79L453.83 327.14L446.36 340.41L445.94 342.48L446.8 344.41ZM362.49 370.21L364.68 369.85L378.36 361.61L379.35 360.64L379.79 359.32L379.59 357.94L376.43 350.69L369.68 347.96L367.95 347.87L358.72 350.12L354.72 353.14L353.78 354.66L351.23 364.56L351.26 366.14L352.08 367.49L353.49 368.23ZM407.86 315.47L406.36 317.19L406.09 319.46L407.15 321.49L414.05 328.46L419.31 330.91L421.51 331.11L423.47 330.07L424.54 328.14L424.37 325.93L419.68 313.58L418.31 311.8L416.18 311.08L414.02 311.66ZM402.3 334.83L399.91 336.52L398.78 339.22L399.27 342.11L401.22 344.3L411.5 350.77L414.46 351.58L417.38 350.61L419.26 348.18L422.51 339.63L422.8 336.93L421.71 334.45L419.54 332.83L416.02 331.43L412.32 331.34Z"/>
<path fill="#000014" d="M456.82 316.44L455.72 318.68L455.98 321.16L457.51 323.13L475.28 336.11L477.13 336.91L479.14 336.83L480.91 335.88L485.37 332.04L486.76 329.85L486.73 327.25L480.96 308.92L479.85 307.09L478.02 305.97L475.89 305.81L466.22 307.45L463.61 308.88ZM456.54 439.56L457.96 437.99L458.35 435.9L455.91 410.23L455.41 408.65L452.89 406.44L451.22 405.77L449.43 405.92L447.9 406.87L440.1 414.73L439.06 416.63L436.44 428.48L436.71 430.94L441.39 441.07L442.83 442.72L444.94 443.32L449.51 443.27L451.52 442.69ZM476.63 428.23L477.1 430.67L478.77 432.51L496.31 443.37L498.43 444.05L500.63 443.64L502.36 442.23L503.22 440.18L503.01 437.95L495.13 415.98L493.97 414.21L492.14 413.15L489.9 412.48L487.57 412.4L481.05 413.9L478.63 415.35L477.53 417.95ZM419.11 354.64L418.94 358.44L419.94 361.03L422.11 362.77L438.05 369.77L441.06 370.16L443.79 368.85L445.38 366.28L448.93 353.29L448.98 350.65L447.75 348.3L444.66 344.85L442.14 343.28L429.99 339.83L427.37 339.75L425.02 340.92L423.52 343.07ZM486.73 379.46L485.83 382.26L486.55 385.12L488.66 387.17L491.54 387.8L494.31 386.82L504.43 379.64L506.26 377.37L506.64 374.48L505.45 371.82L503.05 370.17L498.7 368.68L496.38 368.42L494.17 369.18L492.49 370.79ZM480.8 338.1L479.22 340.62L479.35 343.6L484.42 357.68L486.43 360.2L495.32 365.75L502.89 368.34L505.11 368.57L507.22 367.81L508.78 366.21L514.42 357.04L515.14 354.03L514.49 345.51L513.88 343.47L512.49 341.87L498.73 331.61L495.36 330.63L490.54 330.99L487.64 332.19ZM403.48 373.68L402 375.33L401.48 377.49L402.05 379.64L407.36 389.21L408.94 390.87L412.89 393.31L415.42 393.99L443.14 393.09L445.07 392.58L446.6 391.3L447.43 389.49L448.68 383.57L448.65 381.57L447.75 379.77L444.44 375.73L442.76 374.45L420.58 364.71L418.35 364.35L416.23 365.1Z"/>
<path fill="#00001e" d="M524.53 398.71L522.92 398.06L521.19 398.3L519.45 399.86L518.81 401.28L518.88 402.83L527.84 434.55L528.58 435.89L529.84 436.77L533.15 436.76L536.11 435.73L537.73 434.53L539.23 432.49L539.88 430.73L541.14 413.04L540.84 411.39L539.78 410.08ZM526.02 387.58L523.72 389.28L522.72 391.96L523.12 395.01L524.69 396.95L540.78 408.96L544.11 409.95L574.27 408.04L576.74 407.21L578.46 405.26L578.98 402.71L578.16 400.24L576.21 398.51L544.39 382.57L542.43 382.05L540.41 382.34ZM472.09 435.31L470.28 437.62L470.09 440.54L471.59 443.06L477.3 448.23L479.2 449.3L481.37 449.46L484.71 448.97L486.92 448.05L488.45 446.2L488.93 443.86L488.26 441.56L486.59 439.84L478.25 434.67L475.5 433.92ZM460.86 439.97L458.72 440.57L456.54 441.93L455.06 443.57L454.7 445.76L455.57 447.8L464.63 458.89L466.56 460.18L468.87 460.17L470.79 458.86L474.57 454.14L475.39 452.34L475.23 450.37L474.14 448.72L465.64 441.02L463.03 440ZM373.68 324.77L375.56 323.66L376.59 321.73L376.48 319.55L374.51 313.74L373.01 311.72L370.6 310.98L360.49 311.13L358.03 312.01L356.61 314.2L355.72 317.73L355.81 320.03L357.14 321.91L362.44 326.1L364.14 326.9L366.01 326.84ZM398.14 447.68L397.96 449.98L399.06 452.01L402.57 455.57L403.97 456.5L405.62 456.8L410.89 456.63L412.53 456.24L417.33 453.96L419.06 452.44L419.69 450.22L419.03 448.02L411.56 436.47L409.62 434.88L407.12 434.71L404.67 435.32L402.93 436.24L401.82 437.87ZM387.4 447.61L389.11 448.34L392.9 448.8L394.35 448.65L395.6 447.89L396.4 446.67L399.61 438.12L399.81 436.64L399.34 435.22L398.29 434.16L397.1 433.4L394.62 432.96L382.56 435.57L381.19 436.22L380.26 437.41L379.95 438.89L380.31 441.38L381.18 442.49ZM500.81 322.17L500.6 323.6L501.06 324.97L502.1 325.98L503.48 326.4L504.9 326.16L520.47 319.47L522.1 317.83L523.56 314.36L523.79 312.93L523.35 311.55L522.33 310.52L516.71 307.04L515.38 306.6L513.99 306.78L506.99 309.42L505.91 310.1L505.21 311.16ZM512.88 379.78L511.35 378.82L509.56 378.66L507.88 379.33L487.85 393.54L486.47 395.34L486.33 397.61L488.95 408.38L489.9 410.13L491.6 411.17L493.44 411.72L496.36 411.43L516.31 400.8L517.57 399.73L520.19 396.28L520.97 394.21L521.03 388.6L520.16 387.23ZM479.53 390.2L478.12 389.37L453.95 383.07L452.37 383.09L451.02 383.92L450.29 385.33L448.58 393.46L448.61 394.81L450.49 402.1L451.65 403.78L457.24 407.53L476.26 412.95L477.73 412.98L484.97 411.33L486.34 410.6L487.15 409.28L487.19 407.73L484.3 395.83L483.58 394.49ZM462.26 374.94L460.45 376.99L460.07 379.7L461.24 382.18L463.58 383.6L475.51 386.71L478.42 386.55L480.69 384.74L490.07 370.62L490.86 368.26L490.35 365.82L488.68 363.98L486.89 362.83L484.35 362.07L481.79 362.79ZM511.23 375.46L521.03 385.59L522.62 386.47L524.42 386.36L540.26 380.6L541.48 379.8L542.22 378.55L544.47 370.49L544.02 369.2L537.07 357.92L535.87 356.79L534.27 356.4L518.33 356.73L516.81 357.15L515.67 358.26L509.17 368.84L508.69 370.54L509.19 372.24ZM394.46 378.05L395.49 377L395.94 375.59L395.68 374.14L394.79 372.96L383.53 363.73L381.77 363.03L379.92 363.47L368.21 370.53L367.1 371.68L366.7 373.23L367.11 374.77L374.07 386.87L375.24 388.04L376.85 388.44L378.43 387.97ZM403.95 320.41L402.52 319.61L400.88 319.68L394.45 321.8L393 322.84L388.81 328.84L389.67 333.82L390.48 335.26L391.93 336.06L393.58 335.97L408.26 330.86L409.51 330.03L410.2 328.71L410.16 327.21L409.41 325.92ZM397.4 303.87L396.42 302.45L394.85 301.75L393.15 301.98L387.94 304.26L386.58 305.4L386.05 307.08L386.51 308.79L392.21 318.11L393.18 319.1L394.49 319.59L398.93 318.45L400.29 317.55L401.02 316.09L400.93 314.46ZM425.81 331.88L425.38 333.85L426.15 335.72L427.84 336.82L441.15 340.61L442.65 340.69L444.04 340.11L445.05 339L453.12 324.65L453.54 322.71L452.82 320.87L451.19 319.74L445.63 318.29L444.24 318.79L427.8 329.17Z"/>
<ellipse cx="493.72" cy="365.34" rx="2.76" ry="1.63" fill="#28b4ff" transform="rotate(6.18 493.72 365.34)"/><ellipse cx="478.04" cy="414.99" rx="2.95" ry="1.67" fill="#1f3dff" transform="rotate(38 478.04 414.99)"/><ellipse cx="447.52" cy="383.41" rx="3.76" ry="1.73" fill="#28b4ff" transform="rotate(16.93 447.52 383.41)"/><ellipse cx="398.49" cy="433.18" rx="3.66" ry="1.8" fill="#28b4ff" transform="rotate(20.25 398.49 433.18)"/><ellipse cx="483.73" cy="395.42" rx="3.1" ry="1.8" fill="#1f3dff" transform="rotate(38.35 483.73 395.42)"/><ellipse cx="414.19" cy="413.1" rx="3.23" ry="1.54" fill="#28b4ff" transform="rotate(39.98 414.19 413.1)"/><ellipse cx="427.36" cy="329.71" rx="3.32" ry="1.78" fill="#1f3dff" transform="rotate(-4.3 427.36 329.71)"/><ellipse cx="508.23" cy="371.75" rx="2.2" ry="1.45" fill="#28b4ff" transform="rotate(9.36 508.23 371.75)"/><ellipse cx="414.71" cy="413.02" rx="3.21" ry="1.77" fill="#28b4ff" transform="rotate(24.04 414.71 413.02)"/><ellipse cx="486.31" cy="391.8" rx="3.64" ry="1.84" fill="#28b4ff" transform="rotate(39.32 486.31 391.8)"/><ellipse cx="391.5" cy="412.34" rx="3.11" ry="1.41" fill="#1f3dff" transform="rotate(37.91 391.5 412.34)"/><ellipse cx="409.56" cy="432.01" rx="2.69" ry="1.77" fill="#1f3dff" transform="rotate(11.49 409.56 432.01)"/><ellipse cx="449.23" cy="393.75" rx="3.28" ry="1.9" fill="#1f3dff" transform="rotate(13.8 449.23 393.75)"/><ellipse cx="450.7" cy="443.43" rx="2.5" ry="1.79" fill="#28b4ff" transform="rotate(22.61 450.7 443.43)"/><ellipse cx="487.26" cy="395.65" rx="3.07" ry="1.38" fill="#1f3dff" transform="rotate(5.95 487.26 395.65)"/><ellipse cx="432.76" cy="429.9" rx="3.48" ry="1.21" fill="#1f3dff" transform="rotate(5.62 432.76 429.9)"/><ellipse cx="410.27" cy="434.43" rx="2.38" ry="1.42" fill="#1f3dff" transform="rotate(27.26 410.27 434.43)"/><ellipse cx="484.15" cy="358.62" rx="2.28" ry="1.29" fill="#1f3dff" transform="rotate(41.57 484.15 358.62)"/><ellipse cx="387.93" cy="411.01" rx="2.94" ry="1.59" fill="#1f3dff" transform="rotate(4.92 387.93 411.01)"/><ellipse cx="523.27" cy="386.82" rx="2.44" ry="1.56" fill="#28b4ff" transform="rotate(-2.39 523.27 386.82)"/><ellipse cx="403.95" cy="436.99" rx="3.43" ry="1.27" fill="#1f3dff" transform="rotate(37.5 403.95 436.99)"/><ellipse cx="495.05" cy="368.03" rx="2.63" ry="1.56" fill="#1f3dff" transform="rotate(12.86 495.05 368.03)"/><ellipse cx="414.79" cy="397.72" rx="2.56" ry="1.61" fill="#1f3dff" transform="rotate(0.08 414.79 397.72)"/><ellipse cx="397.82" cy="376.45" rx="3.47" ry="1.49" fill="#1f3dff" transform="rotate(32.33 397.82 376.45)"/><ellipse cx="402.19" cy="434.92" rx="3.38" ry="1.85" fill="#1f3dff" transform="rotate(15.36 402.19 434.92)"/><ellipse cx="444.38" cy="344.82" rx="3.06" ry="1.35" fill="#28b4ff" transform="rotate(23.05 444.38 344.82)"/><ellipse cx="390.18" cy="414.23" rx="2.7" ry="1.21" fill="#1f3dff" transform="rotate(5.83 390.18 414.23)"/><ellipse cx="423.58" cy="332.15" rx="3.72" ry="1.27" fill="#1f3dff" transform="rotate(4.57 423.58 332.15)"/><ellipse cx="522.03" cy="394.72" rx="2.96" ry="1.42" fill="#1f3dff" transform="rotate(20.52 522.03 394.72)"/><ellipse cx="480.51" cy="342.95" rx="3.69" ry="1.32" fill="#28b4ff" transform="rotate(1.78 480.51 342.95)"/><ellipse cx="490.21" cy="333.18" rx="3.31" ry="1.81" fill="#28b4ff" transform="rotate(33.35 490.21 333.18)"/><ellipse cx="496.54" cy="415.4" rx="2.97" ry="1.53" fill="#28b4ff" transform="rotate(-3.86 496.54 415.4)"/><ellipse cx="459.91" cy="439.86" rx="2.34" ry="1.62" fill="#1f3dff" transform="rotate(23.32 459.91 439.86)"/><ellipse cx="395.33" cy="410.82" rx="2.76" ry="1.66" fill="#28b4ff" transform="rotate(11.35 395.33 410.82)"/><ellipse cx="414.06" cy="397.44" rx="3.57" ry="1.32" fill="#1f3dff" transform="rotate(30.32 414.06 397.44)"/><ellipse cx="415.68" cy="331.38" rx="2.99" ry="1.68" fill="#1f3dff" transform="rotate(16.65 415.68 331.38)"/><ellipse cx="451.11" cy="380.78" rx="3.76" ry="1.3" fill="#1f3dff" transform="rotate(24.01 451.11 380.78)"/><ellipse cx="424.9" cy="331.27" rx="3.73" ry="1.68" fill="#1f3dff" transform="rotate(18.56 424.9 331.27)"/><ellipse cx="519.06" cy="400.55" rx="3.1" ry="1.56" fill="#1f3dff" transform="rotate(35.02 519.06 400.55)"/><ellipse cx="437.65" cy="413.31" rx="2.37" ry="1.83" fill="#28b4ff" transform="rotate(2.44 437.65 413.31)"/><ellipse cx="432.43" cy="427.32" rx="2.97" ry="1.55" fill="#1f3dff" transform="rotate(8.19 432.43 427.32)"/><ellipse cx="520.6" cy="386.4" rx="2.67" ry="1.62" fill="#1f3dff" transform="rotate(31.84 520.6 386.4)"/><ellipse cx="413.13" cy="431.42" rx="2.26" ry="1.34" fill="#1f3dff" transform="rotate(14.59 413.13 431.42)"/><ellipse cx="412.66" cy="328.16" rx="2.29" ry="1.57" fill="#1f3dff" transform="rotate(42.46 412.66 328.16)"/><ellipse cx="387.62" cy="340.77" rx="2.61" ry="1.34" fill="#1f3dff" transform="rotate(8.28 387.62 340.77)"/><ellipse cx="408.99" cy="420.31" rx="2.63" ry="1.31" fill="#28b4ff" transform="rotate(1.11 408.99 420.31)"/><ellipse cx="475.72" cy="428.73" rx="2.98" ry="1.77" fill="#1f3dff" transform="rotate(10.21 475.72 428.73)"/><ellipse cx="435.02" cy="431.61" rx="3.27" ry="1.42" fill="#1f3dff" transform="rotate(10.55 435.02 431.61)"/>
</g></g>
<clipPath id="cp3"><rect x="92" y="447.1" width="140.2" height="119.8"/></clipPath>
<g clip-path="url(#cp3)">
<g filter="url(#soft)">
<rect x="90" y="445.1" width="144.2" height="123.8" fill="#1cd01c"/>
<path fill="#000000" d="M144.69 560.89L143.61 562.23L141.77 571.8L141.95 572.99L142.92 574.88L143.62 575.63L144.61 575.88L155.95 575.56L156.95 575.23L157.61 574.4L157.7 573.35L156.31 568.02L148.83 560.39L147.87 559.87L146.79 559.98ZM173.94 556.2L176.22 559.58L177.88 560.77L181.72 561.97L183.64 561.99L185.24 560.93L190.62 554.38L191.36 552.43L190.77 550.42L179.16 533.81L177.65 532.63L175.74 532.49L174.08 533.44L169.87 537.92L169.06 539.44L169.13 541.17ZM125.83 445.08L124.68 445.22L123.71 445.84L116.2 453.49L115.52 454.71L115.58 456.11L122.92 478L128.84 481.08L132 481.35L133.53 480.87L134.48 479.59L135.67 476.05L135.73 474.6L128.98 447.68L127.49 445.52ZM140.38 543.3L139.34 542.69L138.13 542.73L137.13 543.41L136.66 544.53L136.86 545.72L142.64 557.67L143.34 558.5L144.36 558.88L145.44 558.71L146.78 557.71L147.1 556.46L146.8 550.87L146.21 549.51ZM136.98 498.24L135.89 496.6L134.1 495.81L132.16 496.1L130.69 497.4L130.15 499.29L130.46 507.21L132.87 509.91L134.06 510.66L136.3 510.84L138.27 510.12L139.47 508.41L139.47 506.32ZM191.73 575.45L190.36 574.23L188.55 573.86L186.81 574.45L185.6 575.83L185.24 577.63L186.01 589.36L186.69 591.21L188.24 592.42L190.21 592.61L195.07 591.69L197.32 590.23L198.72 587.14L198.13 585.15ZM112.07 583.65L113.86 583.9L115.49 583.13L116.43 581.93L116.72 580.7L117.27 560.45L116.71 558.59L114.86 556.75L107.9 553.78L106.4 553.54L104.96 554.03L103.93 555.14L96.89 567.79L96.51 569.59L97.19 571.29L103.85 579.5L104.97 580.38ZM207.21 453.87L199.96 451.53L198.22 452.7L194.49 459.3L194.2 460.48L194.53 461.64L195.4 462.48L204.35 467.39L205.45 467.68L206.55 467.41L207.39 466.66L207.78 465.59L208.61 455.28ZM155.96 552.26L154.68 550.77L151.8 550.27L150.12 550.78L148.93 552.08L148.56 553.8L148.73 556.99L149.68 559.15L152.31 561.83L153.89 562.74L155.71 562.68L157.23 561.67L158 560.02L157.97 556.92ZM168.17 544.74L167.32 543.42L165.92 542.72L164.36 542.82L163.07 543.7L158.34 549.17L157.65 550.67L157.86 552.31L158.93 554.76L160.08 556.11L161.78 556.56L167.91 556.32L169.22 555.95L170.23 555.05L170.74 553.78L170.63 552.43ZM225.23 495.88L223.96 496.98L223.54 498.61L224.13 500.19L241.76 523.18L243.02 524.11L244.58 524.23L245.97 523.5L246.76 522.15L248.41 515.6L248.43 514.28L247.84 513.09L232.68 494.85L231.15 493.9L229.36 494.07ZM200.99 434.32L199.86 434.06L198.73 434.34L197.05 435.5L196.61 436.48L199.21 448.13L199.77 449.19L200.77 449.86L207.52 452.28L208.62 452.41L209.67 452.05L214 445.45L214.36 444.3L213.16 441.06L212.04 439.92ZM112.78 454.58L109.19 453.07L108.13 453.45L107.44 454.33L104.1 462.32L104.03 463.71L106.93 473.32L108.31 474.7L117.45 477.45L118.55 477.47L119.51 476.91L120.05 475.94L120 474.84L113.8 455.77ZM160.14 446.17L162.92 447.88L164.56 447.81L165.99 447L166.89 445.63L170.34 435.98L170.46 434.01L169.49 432.3L167.75 431.38L164.75 430.78L162.63 431.02L161.04 432.46L158.47 436.91L158.05 439.23L158.86 444.01ZM171.1 438.77L166.86 451.44L167.21 452.77L170.31 458.96L171.22 460.09L178.22 465.76L179.64 466.44L181.2 466.42L182.59 465.7L184.34 462.52L184.53 460.43L180.2 441.15L178.96 439.2L176.42 437.22L174.96 436.57L173.37 436.64L171.98 437.43ZM165.21 452.66L160.72 448.77L159.36 448.18L157.89 448.34L156.7 449.22L152.61 454.28L151.97 455.97L151.79 460.2L152.05 461.61L152.84 462.87L154.14 463.58L155.63 463.53L165.41 460.61L166.79 459.71L167.45 458.19L167.16 456.57ZM94.77 488.55L93.5 488.07L92.16 488.2L91.02 488.93L89.28 493.3L89.2 494.82L89.9 496.17L95.56 502.45L96.78 503.26L98.24 503.38L99.57 502.78L103.88 499.35L104.72 498.28L104.98 496.94L104.62 495.63L103.7 494.62Z"/>
<path fill="#000008" d="M139.6 554.88L138.53 553.62L136.99 553.04L135.35 553.28L134.04 554.28L133.39 555.8L132.35 562.41L132.51 564.06L133.46 565.42L136.13 567.7L137.66 568.44L139.35 568.31L140.76 567.36L141.5 565.83L142.26 561.87L141.99 559.82ZM185.33 519.85L183.95 519.28L182.46 519.41L181.2 520.22L178.51 523.09L177.66 525.25L177.68 527.79L178.24 529.55L192.37 549.75L193.53 550.76L195.04 551.08L196.52 550.64L197.6 549.55L198.03 548.07L198.6 531.39L198.3 529.93L197.35 528.78ZM132.59 566.69L131.21 565.99L129.66 566.03L128.32 566.8L127.49 568.1L127.37 569.65L129.98 584.82L130.79 586.45L133.31 589.17L134.61 590.01L136.15 590.15L137.58 589.54L140.57 586.95L141.91 577.85L141.58 576.02L139.62 572.71ZM104.09 451.75L105.34 451.63L106.34 450.88L106.81 449.72L106.61 448.49L100.66 435.63L99.92 434.72L98.83 434.29L97.67 434.45L91.74 437.19L91.25 438.17L91.28 439.28L93.73 448.52L94.4 449.64L95.56 450.21ZM104.83 547.75L104.8 549.15L105.27 550.45L106.33 551.56L113.93 554.8L114.94 554.94L115.87 554.55L116.48 553.73L124 533.67L121.68 530.3L116.42 526.25L115.33 525.85L114.21 526.15L113.46 527.04ZM117.08 436.38L117.94 436.88L118.94 436.86L119.78 436.32L120.21 435.42L120.12 434.43L113.28 416.96L112.69 416.18L111.79 415.81L110.82 415.95L105.77 422.6L105.52 424.22ZM133.87 533.56L134.17 534.75L135.05 535.61L136.25 535.89L137.42 535.51L144.66 530.63L145.66 528.88L139.59 513.92L138.71 512.88L137.39 512.53L135.49 512.9L134.7 513.7L134.39 514.78ZM129.35 534.3L131.34 534.06L132.31 532.3L132.84 513.13L132.17 511.48L129.73 509.14L128.06 508.53L126.49 508.86L125.41 510.51L123.27 528.87L123.7 530.45L125.16 532.39L126.16 533.13ZM167.77 511.52L168.6 513.61L174.67 520.07L176.09 520.93L177.75 520.93L179.16 520.07L181.43 517.66L182.25 515.76L182.9 506.09L182.64 504.65L181.74 503.48L172.7 496.28L171.12 495.63L169.44 495.92L168.17 497.06L167.7 498.7ZM149.76 499.25L150.81 500.18L152.19 500.42L153.49 499.89L154.32 498.76L157.11 491.22L157.26 490.06L156.87 488.96L156.03 488.14L146.91 487.14L145.54 487.41L144.51 488.37L144.14 489.72L144.55 491.07ZM76.05 565.48L74.83 566.09L74.23 567.32L70.54 595.46L70.71 596.62L71.47 597.51L72.59 597.86L73.73 597.57L86.53 589.81L88.89 571.12L88.19 569.29L82.81 564.74ZM155.79 531.33L154.07 531.28L152.55 532.1L151.68 533.59L151.68 535.31L153.99 543.72L154.88 545.21L156.41 546.03L158.15 545.95L159.6 544.98L163.14 540.88L163.86 539.42L163.79 537.79L162.94 536.41L159.17 532.75ZM111.58 510.04L108.75 502.76L107.9 501.6L106.63 500.93L105.19 500.91L103.89 501.52L99.69 504.86L98.65 506.39L98.64 508.25L101.04 516.1L101.89 517.47L103.3 518.25L107.76 519.34L109.64 519.22L111.12 518.05L111.66 516.24ZM114.84 509.05L113.41 510.14L112.88 511.86L112.99 519.98L113.54 521.66L114.94 523.39L117.78 525.58L119.2 526.17L120.72 525.96L121.92 525.02L122.49 523.59L124.04 510.29L123.84 508.83L122.96 507.65L121.61 507.05L120.15 507.18ZM226.61 586.94L227.35 587.83L228.45 588.22L229.59 588.01L249.06 578.73L249.96 577.95L250.33 576.82L250.06 575.66L239.6 556.4L238.68 555.49L237.41 555.25L232.35 555.78L231.14 556.31L230.44 557.42L224.83 578.3L224.96 583ZM81.31 532.46L80 533.01L79.11 534.1L78.59 535.5L78.35 538.47L83.75 562.15L84.65 563.68L89.55 568.05L91.45 568.8L94.26 568.42L95.35 567.32L103.39 552.86L103.75 551.67L103.59 550.44L102.84 548.56L92.94 532.48L91.68 531.36L90.01 531.13ZM156 464.99L154.73 465.83L154.14 467.24L154.44 468.73L161.86 482.76L162.67 483.68L163.81 484.13L165.03 484.02L166.06 483.36L177.94 471.12L178.62 469.85L178.54 468.42L177.71 467.25L170.89 461.74L169.75 461.2L168.49 461.26ZM183.73 467.96L183.75 470.2L193.94 492.85L195.1 494.13L197.89 495.73L199.4 496.09L200.87 495.59L210.74 488.72L211.62 487.72L211.93 486.42L211.91 479.82L211.59 478.53L207.94 471.59L206.81 470.44L192.7 462.7L191.39 462.36L188 462.32L186.45 462.78L185.41 464.02ZM147.25 434.1L146.12 433.84L145 434.16L144.16 434.97L143.82 436.08L144.04 437.22L149.77 449.28L150.53 450.19L151.63 450.61L152.8 450.46L153.75 449.75L156.98 445.41L156.24 439.74L155.81 438.73L154.98 438.02ZM109.26 495.11L108.4 495.9L108.3 498.07L112.5 507.36L113.42 507.77L114.43 507.68L120.11 505.38L120.56 504.42L120.46 503.37L116.9 493.86L116.25 492.97L115.22 492.56L114.13 492.75ZM93.25 464.62L92.18 463.33L90.5 463.45L82.72 468.21L81.82 469.55L82.07 471.22L89.21 481.11L90.79 481.87L92.28 480.95L95.22 475.85L95.43 474.54Z"/>
<path fill="#000003" d="M173.54 599.99L174.33 601.11L175.56 601.71L176.93 601.63L178.09 600.89L184.37 593.83L182.76 566.12L182.18 564.61L179.21 563.18L177.87 563.11L176.66 563.68L175.87 564.76L168.13 583.66L168.11 585.66ZM205.59 522.66L206.61 520.95L206.5 518.97L199.18 499.19L197.69 497.43L196.15 496.55L194.02 496.13L192.08 497.1L185.62 503.58L184.64 505.74L184.03 514.97L184.34 516.61L185.39 517.91L197.13 526.63L198.53 527.24L200.07 527.17L201.41 526.43ZM159.8 485.5L160.4 484.02L160.19 483.23L152.81 469.29L152.12 468.56L151.15 468.29L150.18 468.56L138.22 475.73L137.4 476.74L136.42 479.64L136.4 480.75L137.01 481.69L140.34 484.46L141.4 484.89L158.1 486.23ZM214.23 448.47L210.61 454.93L209.14 469.27L209.46 470.91L211.68 475.13L212.69 476.23L214.12 476.68L215.57 476.35L221.63 473.21L222.63 472.35L223.15 471.13L225.89 455.24L225.73 453.68L224.78 452.44L218.44 447.67L216.96 447.1L215.4 447.4ZM199.4 550.47L199.66 551.59L200.45 552.42L201.54 552.74L209.95 552.91L211.32 552.46L213.77 550.59L214.51 549.56L214.56 548.29L208.73 526.24L208.19 525.28L207.24 524.7L206.13 524.67L205.15 525.18L200.28 529.8ZM75.32 518.79L75.39 520.66L79.45 530.17L80.56 530.8L81.83 530.9L89.12 529.78L90.64 529.04L91.48 527.58L91.35 525.9L84.07 507.45L83.25 506.31L81.99 505.7L80.59 505.76L79.38 506.48L78.66 507.68ZM93.21 482.17L92.84 483.47L93.15 484.78L94.04 485.8L100.89 490.45L102.11 490.9L103.4 490.74L104.47 490L105.08 488.84L105.08 487.54L103.15 479.56L102.46 478.31L98.66 476.85L97.46 476.78L96.36 477.23Z"/>
<path fill="#00000a" d="M125.06 565.56L123.89 563.8L121.26 562.53L119.92 562.83L118.91 563.77L118.52 565.08L118.12 579.92L118.6 581.51L119.94 582.49L124.32 583.89L125.64 583.96L126.84 583.37L127.59 582.27L127.7 580.95ZM171.6 557.99L160.63 558.67L159.41 560.4L158.28 568.43L159.69 575.26L160.26 576.39L163.91 580.41L164.9 581.07L166.09 581.16L167.18 580.67L167.89 579.71L174.89 562.62L175.05 561.42L174.6 560.3L172.73 558.23ZM133.27 538.57L132.85 537.59L131.98 536.96L127.41 535.28L126.4 535.18L125.47 535.6L117.49 555.44L117.71 557.29L118.95 558.81L126.25 563.23L129.83 563.25L130.98 561.75L133.82 543.64ZM140.51 487.47L139.43 486.54L138.03 486.34L136.74 486.94L135.98 488.14L136 489.56L141.12 506.14L142.59 507.73L143.68 507.9L148.9 507.55L150.12 507.13L150.97 506.18L151.24 504.92L150.85 503.7ZM199.13 555.98L197.94 554.35L196.04 553.67L194.04 553.94L192.78 554.9L187.48 561.34L186.7 563.34L187.27 565.41L196.75 579.78L198.14 580.99L199.95 581.3L201.66 580.64L202.79 579.18L204.63 574.65L204.7 572.25ZM95.85 572.13L94.38 571.14L92.62 571.12L91.14 572.09L90.44 573.71L88.67 589.16L89.21 591.26L94.18 598.37L95.29 599.33L96.71 599.67L98.13 599.31L101.78 597.35L102.98 596.19L103.39 594.57L103.03 582L102.35 580.16ZM145.47 456.53L146.86 456.98L148.29 456.69L149.38 455.73L149.86 454.35L149.59 452.92L140.67 434.12L139.78 433.05L138.49 432.52L135.45 432.64L134.23 433.87L129.56 443.09L129.26 444.49L129.67 445.85L130.63 446.9ZM139.58 472.58L150.67 465.72L150.91 464.07L150.3 462.07L149.5 461.01L135.24 451.75L134.37 451.45L132.7 452.12L132.29 453.86L137.1 472.18L138.72 472.85ZM242.38 485.61L241.48 484.13L239.98 483.26L238.25 483.2L235.75 483.75L233.88 484.84L232.99 486.81L232.56 490.69L232.69 492.09L233.36 493.34L240.21 501.58L241.79 502.67L243.71 502.77L245.4 501.85L246.36 500.19L246.31 498.27ZM149.54 533.66L148.94 532.57L147.91 531.88L146.67 531.73L145.51 532.16L140.05 535.84L139.09 537L138.92 538.5L139.6 539.85L147.21 547.94L149.21 548.77L151.78 548.23L152.71 546.97L152.77 545.4ZM147.62 509.44L142.21 510.06L141.43 510.83L141.09 511.88L141.27 512.96L146.15 524.5L146.95 525.5L148.16 525.92L149.41 525.64L150.32 524.74L150.61 523.5L150.1 511.66L149.73 510.49L148.82 509.68ZM157.16 510.55L155.5 509.88L153.75 510.22L152.45 511.45L152.02 513.18L152.51 524.49L152.97 526L154.09 527.1L155.6 527.53L157.14 527.18L158.32 526.14L158.85 524.65L159.82 514.5L159.58 512.95ZM160.13 530.16L160.77 531.89L165.54 536.52L166.52 537.05L167.63 537.03L168.57 536.45L175.38 529.22L175.95 527.75L175.93 524.94L175.36 523.5L166.98 514.6L165.66 513.94L162.76 513.92L161.9 514.62L161.51 515.66ZM219.97 520.1L220.17 521.5L220.96 522.67L222.17 523.39L236.32 527.91L237.91 528L239.35 527.3L240.26 526L240.43 524.41L239.81 522.95L226.68 505.84L225.5 504.89L224.01 504.6L222.56 505.03L221.47 506.08L220.99 507.51ZM222.2 577.34L210.16 554.92L209.21 554.64L203.47 554.52L202.6 554.71L201.59 556.11L206.85 572.11L207.7 573.14L219.63 579.83L221.47 579.82L222.14 579.16ZM214.82 523.84L213.18 523.9L211.78 524.75L210.98 526.18L210.99 527.82L213 535.44L213.82 536.88L215.24 537.73L216.9 537.76L218.35 536.97L219.22 535.56L219.28 533.9L217.56 526.34L216.69 524.77ZM93.2 528.84L93.52 530.58L101.18 543.02L102.15 543.91L103.44 544.17L104.67 543.72L105.49 542.68L112.89 524.92L113.06 523.71L112.5 522.4L111.11 521.46L102.72 519.4L101.41 519.44L100.31 520.16L93.78 527.63ZM183.04 472.93L182.33 472.04L181.29 471.57L180.15 471.65L179.19 472.26L166.9 484.92L166.26 486.23L166.51 487.68L168.02 490.1L182.15 501.35L183.19 501.83L184.32 501.76L185.3 501.17L191.34 495.11L191.99 493.86L191.82 492.47ZM105.6 476.75L104.77 477.85L104.7 479.22L107.55 491L108.26 492.2L109.52 492.79L110.89 492.58L115.12 490.54L116.28 489.29L119.1 482.32L119.24 481.03L118.68 479.86L117.59 479.16L107.9 476.24L106.81 476.17ZM101.65 475.82L103.01 475.83L104.19 475.14L104.86 473.95L104.82 472.58L102.86 466.08L102.27 465.06L101.28 464.4L97.82 464.49L96.49 465.03L95.66 466.19L95.56 467.62L96.74 473.02L97.39 474.24L98.57 474.96Z"/>
<path fill="#010703" d="M91.72 458.04L93.24 461.94L94.57 462.83L96.17 463.04L100.46 462.59L102.19 461.92L103.33 460.46L104.51 457.62L104.71 455.58L103.73 453.78L101.91 452.84L96.48 451.86L94.95 451.93L93.6 452.64L91.89 455.63ZM88.27 453.85L89.37 454.2L90.49 453.88L92.04 451.25L92.15 449.9L89.1 438.41L88.07 437.12L85.23 436.01L84.21 436.39L83.53 437.24L82.58 440.23L84.08 450.22L84.94 451.59ZM84.66 453.65L83.46 453.26L82.23 453.59L81.37 454.52L81.15 455.76L81.95 463.22L82.35 464.27L83.2 465L84.3 465.23L89.71 462.25L90.64 461.14L90.7 459.69L90.22 458.05L89.32 456.81ZM106.84 428.15L105.25 427.25L103.43 427.35L101.95 428.41L101.27 430.1L101.41 433.17L109.24 450.09L110.7 451.62L111.9 452.23L113.9 452.55L115.71 451.62L120.5 446.75L121.32 445.31L121.32 443.65L120.51 442.2ZM124.86 442.19L125.51 443.02L126.5 443.37L127.53 443.12L128.25 442.35L133.41 432.16L133.44 430.53L132.42 428.53L116.55 410.54L115.71 410L114.71 409.97L113.84 410.46L113.35 411.33L113.34 412.77ZM154.2 504.18L154.15 505.36L154.81 506.35L160.8 511.07L163.74 511.68L164.78 511.5L165.57 510.79L165.86 509.77L165.77 491.22L164.11 487.65L163.3 486.85L162.17 486.66L161.13 487.14L160.03 488.44ZM244.85 457.01L244.31 455.4L243.06 454.24L241.4 453.84L230.85 453.98L229.33 454.36L228.15 455.37L227.54 456.81L225.03 471.35L225.1 472.81L225.77 474.11L231.51 480.95L233.02 481.99L234.84 482.09L239.26 481.13L240.87 480.28L241.81 478.72L245.28 466.26ZM231.66 484.66L231.19 483.11L223.91 474.75L222.12 474.8L214.42 478.8L213.61 479.56L213.32 480.64L213.34 487.16L213.9 488.57L220.17 495.18L221.25 495.78L222.49 495.65L230.59 491.79ZM238.4 452.28L239.97 451.89L241.18 450.82L241.78 449.33L241.63 447.72L237.46 435.39L236.62 434.05L227.15 424.67L225.58 423.78L223.79 423.79L217.38 425.58L215.63 426.72L214.86 428.66L214.15 438.66L214.48 440.39L215.79 443.17L216.84 444.45L226.5 451.72L228.62 452.41ZM214.9 521.71L216.43 521.61L217.66 520.7L218.21 519.27L219.89 498.71L219.15 496.61L214.12 491.31L213.05 490.61L211.78 490.48L210.59 490.95L202.43 496.63L201.63 497.51L201.27 498.64L208.53 519.02L209.3 520.13L210.5 520.73ZM224.34 552.32L216.04 551.11L213.45 552.89L212.68 554.49L221.38 571.56L222.88 572.6L223.81 572.49L225.04 571.15L228.83 557.01L228.78 555.82L228.05 554.88ZM223.46 525.46L222.05 525.39L220.8 526.04L220.04 527.24L219.99 528.65L224.77 549.66L225.87 551.29L229.64 553.89L231.47 554.35L237.62 553.43L238.47 552.61L238.89 551.49L241.4 533.55L241.28 532.3L240.62 531.24L239.54 530.59ZM91.55 522.8L92.27 523.78L93.38 524.29L94.59 524.18L95.59 523.5L99.38 519.18L99.92 518.1L99.87 516.89L96.29 505.94L88.58 497.4L87.26 496.65L85.75 496.85L83.12 498.45L82.69 499.55L82.84 500.73ZM194.84 437.42L194.21 436.34L193.1 435.77L187.11 434.91L182.58 438.9L181.99 439.85L181.95 440.98L185.99 459L187.17 460.5L190.46 460.75L191.58 460.45L192.4 459.63L197.45 450.67L197.68 449.06ZM117.67 489.63L117.64 491.83L122.43 504.61L123.75 506.21L125.3 506.86L126.95 506.57L128.2 505.45L128.66 503.84L128.56 484.39L128.09 482.8L126.85 481.69L124.77 480.68L123.16 480.4L121.65 480.99L120.65 482.27ZM81.25 472.41L79.92 471.34L78.24 471.11L76.67 471.79L75.68 473.17L75.53 474.86L79.12 493.96L79.7 495.29L80.82 496.22L82.23 496.56L83.64 496.24L86.73 494.46L89.65 486.25L89.76 484.77L89.2 483.4Z"/>
<g fill="#0a6a0a"><circle cx="193.21" cy="530.42" r="0.4"/><circle cx="145.67" cy="529.57" r="0.5"/><circle cx="155.33" cy="498.43" r="0.41"/><circle cx="153.63" cy="544.82" r="0.61"/><circle cx="196.02" cy="467.14" r="0.48"/><circle cx="195.87" cy="461.71" r="0.48"/><circle cx="214.98" cy="555.44" r="0.36"/><circle cx="112.31" cy="460.56" r="0.39"/><circle cx="204.07" cy="460.23" r="0.44"/><circle cx="125.6" cy="560.93" r="0.4"/><circle cx="197.5" cy="456.7" r="0.57"/><circle cx="136.44" cy="530.44" r="0.67"/><circle cx="122.7" cy="537.76" r="0.61"/><circle cx="166.76" cy="459.61" r="0.47"/><circle cx="94.49" cy="481.7" r="0.54"/><circle cx="117.16" cy="464.83" r="0.63"/><circle cx="93.87" cy="548.47" r="0.34"/><circle cx="121.65" cy="566.63" r="0.34"/><circle cx="100.31" cy="483.99" r="0.45"/><circle cx="167.06" cy="474.6" r="0.64"/><circle cx="232.15" cy="551.09" r="0.65"/><circle cx="202.48" cy="467.4" r="0.53"/><circle cx="136.3" cy="483.28" r="0.51"/><circle cx="191.21" cy="534.48" r="0.59"/><circle cx="221.83" cy="516.64" r="0.41"/><circle cx="146.72" cy="506.01" r="0.6"/><circle cx="110.12" cy="459.98" r="0.62"/><circle cx="119.52" cy="522.44" r="0.38"/><circle cx="219.24" cy="526.89" r="0.65"/><circle cx="146.97" cy="559.55" r="0.35"/><circle cx="220.37" cy="503.93" r="0.62"/><circle cx="162.39" cy="479.9" r="0.6"/><circle cx="95.3" cy="552.7" r="0.3"/><circle cx="135.15" cy="555.28" r="0.47"/><circle cx="200.06" cy="494.33" r="0.49"/><circle cx="201.03" cy="489.1" r="0.37"/><circle cx="102.5" cy="470.57" r="0.61"/><circle cx="174.95" cy="501.92" r="0.38"/><circle cx="224.32" cy="465.37" r="0.7"/><circle cx="137.8" cy="488.24" r="0.36"/><circle cx="223.86" cy="546.65" r="0.47"/><circle cx="203.36" cy="521.71" r="0.46"/><circle cx="98.54" cy="466.9" r="0.54"/><circle cx="150.57" cy="507.69" r="0.63"/><circle cx="219.44" cy="497.65" r="0.56"/><circle cx="230.17" cy="484.34" r="0.39"/><circle cx="191.81" cy="556.87" r="0.48"/><circle cx="164.08" cy="460.81" r="0.5"/><circle cx="201.42" cy="532.76" r="0.58"/><circle cx="147.76" cy="520.39" r="0.54"/><circle cx="180.65" cy="499.68" r="0.65"/><circle cx="110.93" cy="544.49" r="0.61"/><circle cx="175.87" cy="500.99" r="0.66"/><circle cx="225.93" cy="538.5" r="0.64"/><circle cx="214.57" cy="511.61" r="0.63"/><circle cx="221.3" cy="454.25" r="0.67"/><circle cx="162.71" cy="459.29" r="0.35"/><circle cx="224" cy="468.85" r="0.48"/><circle cx="126.7" cy="531.05" r="0.6"/><circle cx="118.36" cy="458.3" r="0.35"/><circle cx="216.96" cy="448.56" r="0.62"/><circle cx="149.65" cy="526.92" r="0.41"/><circle cx="203.63" cy="521.49" r="0.35"/><circle cx="125.54" cy="559.29" r="0.54"/><circle cx="125.63" cy="511.23" r="0.36"/><circle cx="230.99" cy="516.66" r="0.66"/><circle cx="186.03" cy="518.12" r="0.44"/><circle cx="109.17" cy="497.7" r="0.35"/><circle cx="212.82" cy="525.11" r="0.58"/><circle cx="187.76" cy="462.4" r="0.51"/><circle cx="197.9" cy="555.08" r="0.68"/><circle cx="107.45" cy="521.41" r="0.39"/><circle cx="138.34" cy="507.47" r="0.58"/><circle cx="224.16" cy="498.64" r="0.43"/><circle cx="129.93" cy="552.25" r="0.34"/><circle cx="197.73" cy="514.01" r="0.58"/><circle cx="199.4" cy="516.88" r="0.57"/><circle cx="205.68" cy="468.46" r="0.49"/><circle cx="117.38" cy="474.54" r="0.36"/><circle cx="212.41" cy="494.56" r="0.36"/><circle cx="148.31" cy="450.65" r="0.56"/><circle cx="222.71" cy="546.23" r="0.53"/><circle cx="127.1" cy="481.15" r="0.68"/><circle cx="97.45" cy="559.21" r="0.32"/><circle cx="171.51" cy="496.43" r="0.35"/><circle cx="109.65" cy="477.59" r="0.33"/><circle cx="209.05" cy="528.39" r="0.34"/><circle cx="207.92" cy="508.44" r="0.54"/><circle cx="155.35" cy="512.65" r="0.36"/><circle cx="224.39" cy="564.4" r="0.51"/><circle cx="143.28" cy="511.03" r="0.6"/><circle cx="190.89" cy="508.66" r="0.43"/><circle cx="177.71" cy="490.18" r="0.34"/><circle cx="194.52" cy="449.6" r="0.39"/><circle cx="100.9" cy="524.92" r="0.56"/><circle cx="138.22" cy="449.22" r="0.67"/><circle cx="108.03" cy="531.3" r="0.4"/><circle cx="197.51" cy="449.35" r="0.47"/><circle cx="151.32" cy="521.85" r="0.4"/><circle cx="169.52" cy="518.31" r="0.39"/><circle cx="167.42" cy="495.08" r="0.35"/><circle cx="207.59" cy="566.7" r="0.37"/><circle cx="160.89" cy="473.21" r="0.33"/><circle cx="109.04" cy="449.32" r="0.45"/><circle cx="191.42" cy="555.22" r="0.5"/><circle cx="101.33" cy="481" r="0.64"/><circle cx="146.48" cy="532.54" r="0.48"/><circle cx="228.09" cy="488.24" r="0.48"/><circle cx="188.59" cy="480.39" r="0.51"/><circle cx="172.65" cy="545.86" r="0.42"/><circle cx="103.71" cy="478.23" r="0.32"/><circle cx="198.23" cy="489.98" r="0.64"/><circle cx="219.54" cy="551.52" r="0.6"/><circle cx="145.26" cy="451.66" r="0.5"/><circle cx="158.11" cy="495.68" r="0.42"/><circle cx="178.16" cy="552.92" r="0.48"/><circle cx="170.62" cy="453.42" r="0.54"/><circle cx="104.88" cy="449.3" r="0.49"/><circle cx="201.09" cy="481.88" r="0.65"/><circle cx="150.61" cy="551.36" r="0.61"/></g>
<ellipse cx="95.58" cy="503.07" rx="2.83" ry="1.37" fill="#1f3dff" transform="rotate(88.5 95.58 503.07)"/><ellipse cx="105.52" cy="494.39" rx="2.5" ry="1.5" fill="#1f3dff" transform="rotate(55.95 105.52 494.39)"/><ellipse cx="210.52" cy="470.56" rx="3.41" ry="1.51" fill="#1f3dff" transform="rotate(89.76 210.52 470.56)"/><ellipse cx="155.71" cy="447" rx="3.27" ry="1.5" fill="#28b4ff" transform="rotate(48.99 155.71 447)"/><ellipse cx="220.6" cy="522.64" rx="3.39" ry="1.51" fill="#1f3dff" transform="rotate(83.09 220.6 522.64)"/><ellipse cx="95.47" cy="465.43" rx="2.83" ry="1.23" fill="#28b4ff" transform="rotate(87.65 95.47 465.43)"/><ellipse cx="176.38" cy="561.74" rx="2.94" ry="1.83" fill="#28b4ff" transform="rotate(70.38 176.38 561.74)"/><ellipse cx="113.69" cy="524.97" rx="3.14" ry="1.74" fill="#28b4ff" transform="rotate(64.69 113.69 524.97)"/><ellipse cx="136.14" cy="482.14" rx="3.19" ry="1.36" fill="#28b4ff" transform="rotate(79.79 136.14 482.14)"/><ellipse cx="153.64" cy="458.33" rx="2.95" ry="1.24" fill="#1f3dff" transform="rotate(51.47 153.64 458.33)"/><ellipse cx="128.54" cy="481.74" rx="3.44" ry="1.45" fill="#1f3dff" transform="rotate(83.26 128.54 481.74)"/><ellipse cx="112.14" cy="510.43" rx="2.3" ry="1.26" fill="#1f3dff" transform="rotate(87.3 112.14 510.43)"/><ellipse cx="161.37" cy="484.58" rx="2.61" ry="1.31" fill="#28b4ff" transform="rotate(83.39 161.37 484.58)"/><ellipse cx="207.42" cy="523.92" rx="2.41" ry="1.77" fill="#1f3dff" transform="rotate(84.46 207.42 523.92)"/><ellipse cx="124.8" cy="534.95" rx="2.21" ry="1.87" fill="#1f3dff" transform="rotate(58.53 124.8 534.95)"/><ellipse cx="149.59" cy="461.79" rx="3.15" ry="1.39" fill="#28b4ff" transform="rotate(50.05 149.59 461.79)"/><ellipse cx="156.48" cy="551.48" rx="2.82" ry="1.55" fill="#1f3dff" transform="rotate(69.02 156.48 551.48)"/><ellipse cx="91.08" cy="462.32" rx="2.26" ry="1.35" fill="#28b4ff" transform="rotate(52.56 91.08 462.32)"/><ellipse cx="159.68" cy="514.92" rx="3.32" ry="1.77" fill="#1f3dff" transform="rotate(90.64 159.68 514.92)"/><ellipse cx="182.13" cy="466.74" rx="3.08" ry="1.54" fill="#1f3dff" transform="rotate(61.15 182.13 466.74)"/><ellipse cx="91.96" cy="485.84" rx="2.66" ry="1.59" fill="#1f3dff" transform="rotate(77.23 91.96 485.84)"/><ellipse cx="209.08" cy="553.87" rx="2.41" ry="1.46" fill="#28b4ff" transform="rotate(73.85 209.08 553.87)"/><ellipse cx="184.87" cy="462.77" rx="2.26" ry="1.89" fill="#28b4ff" transform="rotate(59.48 184.87 462.77)"/><ellipse cx="176.48" cy="560.13" rx="2.76" ry="1.46" fill="#28b4ff" transform="rotate(54.2 176.48 560.13)"/><ellipse cx="114.47" cy="508.85" rx="2.35" ry="1.63" fill="#28b4ff" transform="rotate(63.22 114.47 508.85)"/><ellipse cx="110.63" cy="450.39" rx="3.47" ry="1.37" fill="#1f3dff" transform="rotate(76.81 110.63 450.39)"/><ellipse cx="151.41" cy="455.84" rx="3.78" ry="1.57" fill="#1f3dff" transform="rotate(85.96 151.41 455.84)"/><ellipse cx="156.26" cy="531.27" rx="3.67" ry="1.7" fill="#1f3dff" transform="rotate(63.71 156.26 531.27)"/><ellipse cx="138.67" cy="512.89" rx="2.86" ry="1.37" fill="#28b4ff" transform="rotate(79.63 138.67 512.89)"/><ellipse cx="178.61" cy="562.5" rx="2.49" ry="1.49" fill="#1f3dff" transform="rotate(64.67 178.61 562.5)"/><ellipse cx="212.83" cy="551.03" rx="2.61" ry="1.82" fill="#28b4ff" transform="rotate(81.4 212.83 551.03)"/><ellipse cx="165.5" cy="452.31" rx="3.49" ry="1.46" fill="#28b4ff" transform="rotate(47.86 165.5 452.31)"/><ellipse cx="225.65" cy="473.48" rx="3.78" ry="1.68" fill="#1f3dff" transform="rotate(68.16 225.65 473.48)"/><ellipse cx="133.9" cy="510.81" rx="3.42" ry="1.45" fill="#1f3dff" transform="rotate(84.11 133.9 510.81)"/><ellipse cx="119.45" cy="488.88" rx="2.33" ry="1.72" fill="#1f3dff" transform="rotate(46.2 119.45 488.88)"/><ellipse cx="130.14" cy="482.8" rx="3.04" ry="1.25" fill="#1f3dff" transform="rotate(86.48 130.14 482.8)"/><ellipse cx="108.65" cy="449.55" rx="3.04" ry="1.21" fill="#28b4ff" transform="rotate(52.71 108.65 449.55)"/><ellipse cx="181.69" cy="466.82" rx="2.5" ry="1.8" fill="#28b4ff" transform="rotate(78.44 181.69 466.82)"/><ellipse cx="229.77" cy="493.08" rx="3.65" ry="1.43" fill="#1f3dff" transform="rotate(71.66 229.77 493.08)"/><ellipse cx="161.57" cy="486.12" rx="2.86" ry="1.32" fill="#28b4ff" transform="rotate(71.61 161.57 486.12)"/><ellipse cx="228.88" cy="554.66" rx="2.59" ry="1.31" fill="#28b4ff" transform="rotate(62.4 228.88 554.66)"/><ellipse cx="116.95" cy="490.01" rx="3.3" ry="1.63" fill="#1f3dff" transform="rotate(91.25 116.95 490.01)"/><ellipse cx="107.36" cy="449.58" rx="2.54" ry="1.57" fill="#1f3dff" transform="rotate(61.59 107.36 449.58)"/><ellipse cx="165.66" cy="488.41" rx="2.91" ry="1.77" fill="#28b4ff" transform="rotate(93.81 165.66 488.41)"/><ellipse cx="137.02" cy="536.46" rx="3.62" ry="1.87" fill="#1f3dff" transform="rotate(92.44 137.02 536.46)"/>
</g></g>
<clipPath id="cp4"><rect x="235.9" y="445" width="141.1" height="116.9"/></clipPath>
<g clip-path="url(#cp4)">
<g filter="url(#soft)">
<rect x="233.9" y="443" width="145.1" height="120.9" fill="#1cd01c"/>
<path fill="#00000a" d="M337.37 590.41L339.13 589.92L340.46 588.66L341.03 586.91L340.72 585.11L339.59 583.66L312.59 562.55L310.82 561.79L303.9 560.76L301.95 560.98L300.37 562.16L299.6 563.97L298.66 570.71L298.87 572.58L299.97 574.12L318.76 589.95L321.29 590.84ZM316.71 470.92L314.41 470.43L312.21 471.29L310.86 473.22L310.79 475.57L312.97 483.59L314.76 485.99L339.24 501.18L341.21 501.79L348.17 502.1L350 501.76L351.49 500.63L352.33 498.97L352.33 497.1L351.01 491.39L350.29 489.85L349 488.74ZM366.98 487.73L364.47 485.73L361.32 485.09L358.23 485.94L356.5 486.89L353.54 490.12L353.12 494.48L354.57 500.72L356.7 504.31L371.26 517.24L373.95 518.72L377.01 518.88L380.77 517.03L383.08 514.19L383.6 510.57L382.19 507.19ZM277.15 469.38L278.36 466.95L278.13 464.25L276.53 462.06L251.01 441.97L248.47 440.93L245.76 441.37L243.69 443.17L239.93 448.94L239.18 452.5L239.74 455.86L241.11 458.57L261.24 479.06L263.57 480.4L266.27 480.35L268.55 478.9ZM283.11 432.08L283.49 435.11L285.4 437.49L307.7 453.29L311 454.32L314.27 453.2L317.07 450.43L317.7 448.08L317.27 445.68L298.43 400.94L296.68 398.69L294.06 397.59L291.23 397.93L288.94 399.63L287.79 402.24ZM243.94 506.98L241.21 504.96L237.83 504.73L234.85 506.35L233.2 509.32L233.41 512.71L237.54 524.17L240.66 527.6L247.85 530.99L250.99 531.54L253.98 530.42L255.99 527.94L256.46 524.78L255.26 521.82ZM227.13 525.8L230.32 525.2L232.85 523.16L234.1 520.16L233.78 516.92L230.81 508.66L228.36 505.47L224.53 504.27L218.02 504.31L214.57 505.29L212.14 507.93L211.43 511.45L211.62 513.88L213.23 517.72L218.02 523.25L220.1 524.84L222.62 525.52ZM256.11 540.12L256.14 538.11L255.29 536.29L253.71 535.04L238.54 527.88L236.93 527.47L223.36 526.63L220.63 527.36L218.91 529.59L218.32 531.28L218.1 533.15L218.68 534.95L230.02 554.52L232.69 556.57L246.35 560.28L248.66 560.29L250.66 559.12L251.79 557.11ZM325.24 553.34L326.4 552.35L327.03 550.97L328.02 546.49L328 544.87L327.28 543.44L320.03 535.1L308.61 528.83L307.07 528.39L305.49 528.67L304.2 529.62L291.26 544.53L290.48 546.05L290.49 547.76L291.3 549.27L298.87 557.65L300.99 558.79L310.87 560.27L313.09 559.88Z"/>
<path fill="#000008" d="M376.53 540.55L377.32 543.46L379.32 545.71L385.04 549.44L389.99 551.09L417.52 556.23L420.67 556.05L423.37 554.44L425.02 551.75L425.22 548.6L423.95 545.72L400.57 515.49L398.03 513.49L394.84 512.95L389.48 513.37L386.16 514.58L378.77 519.86L376.69 522.31L376.02 525.45ZM345.78 503.43L343.12 504.02L341.1 505.85L340.26 508.45L339.76 518.1L340.3 520.73L342.07 522.75L366.86 539.53L369.59 540.44L372.39 539.78L374.43 537.76L375.12 534.97L374.76 524.21L374.26 522.14L372.98 520.43L355.68 505.06L352.4 503.73ZM370.69 481.81L369.02 482.71L367.99 484.3L367.83 486.19L368.6 487.92L386.44 510.74L387.92 511.9L389.78 512.21L397.1 511.64L399.39 510.65L407.44 503.33L408.55 501.54L408.56 499.43L407.46 497.64L387.54 479.33L385.87 478.43L383.98 478.43ZM213.14 423.15L209.91 423.66L207.29 425.6L205.85 428.54L205.93 431.8L207.51 434.66L210.89 438.34L213.48 440.1L232.51 447.43L235.58 447.87L238.52 446.91L240.75 444.77L242.38 442.26L243.49 438.83L242.71 435.31L240.26 432.67L228.19 425.15L225.12 424.14ZM263.85 490.68L263.54 493.03L264.37 495.25L272.42 507.09L274.97 509L296.13 515.91L298.5 516.08L300.68 515.12L302.16 513.26L305.54 505.81L305.94 503.15L304.89 500.67L302.69 499.12L270.19 487.6L267.69 487.38L265.41 488.42ZM258.27 489.87L260.4 490.22L262.4 489.42L263.7 487.7L264.07 484.98L263 482.97L241.19 460.77L238.95 459.62L236.47 460.03L225.6 465.71L224.12 467.04L223.31 470.74L223.84 473.09L225.62 474.71ZM315.21 507.32L311.48 505.93L307.62 506.89L304.97 509.86L302.8 514.66L302.21 517.86L303.19 520.96L305.44 524.64L307.94 527.02L315.63 531.25L318.75 532.08L321.89 531.36L324.34 529.27L327.44 524.95L328.66 521.77L328.16 518.4L326.08 515.7ZM367.74 546.86L365.35 549.61L359.83 565.19L359.61 567.69L360.65 569.97L372.9 585.12L375.27 586.74L382.52 589.02L385.02 589.14L387.26 588.03L388.68 585.97L388.9 583.48L383.71 552.03L383.02 550.2L381.68 548.78L377.06 545.52L374.46 544.63L371.09 545.13ZM386.83 462.59L385.09 463.99L384.18 466.03L384.29 468.25L386.45 475.6L387.8 477.78L410.71 498.83L413.77 500.13L416.19 499.91L418.19 498.53L419.26 496.35L419.1 493.92L411.03 469.57L409.75 467.57L407.66 466.44L390.4 462.11ZM311.06 394.23L307.86 392.24L304.1 392.27L300.93 394.29L299.32 397.69L299.76 401.42L318.43 445.75L320.58 448.52L323.82 449.85L335.06 451.29L338.36 450.9L346.89 447.63L349.57 445.77L351.06 442.87L351.04 439.61L349.5 436.73Z"/>
<path fill="#010703" d="M235.99 458.6L237.58 456.99L237.91 454.76L236.86 451.34L235.34 450.23L215.04 442.41L213.26 442.2L211.6 442.85L210.44 444.21L207.92 449.29L207.54 450.88L207.89 452.47L208.89 453.76L221.22 463.81L223.17 464.62L225.24 464.22ZM251.98 564.27L248.82 562.38L233.43 558.2L230.75 558.02L228.21 558.88L221.09 563.02L218.52 565.67L217.7 569.27L218.18 578.7L219.43 582.31L268.12 651.05L270.86 653.31L274.37 653.9L277.69 652.64L279.93 649.88L280.48 646.36L274.32 589.82L272.49 585.85ZM217.78 535.71L216.4 534.3L214.52 533.73L189.03 532.59L187.1 532.99L185.6 534.28L184.91 536.12L185.19 538.07L186.37 539.65L214.59 562.25L216.78 563.11L219.07 562.58L226.33 558.36L227.78 556.9L228.3 554.92L227.77 552.94ZM270.38 479.22L269.29 481.28L269.29 483.61L270.4 485.67L272.34 486.96L302.81 497.76L305.33 497.94L307.59 496.83L308.97 494.72L311.48 486.98L311.55 484.25L308.4 472.66L306.94 470.32L304.43 469.17L284.75 466.45L282.45 466.7L280.53 467.99ZM301.35 520.18L298.3 517.78L279.85 511.75L276.62 511.68L273.89 513.39L272.55 516.32L270.46 531.37L270.95 534.53L273.08 536.92L284.15 543.72L286.63 544.54L289.21 544.14L291.33 542.62L302.57 529.67L303.92 526.45L303.11 523.06ZM309.89 496.93L309.86 500.19L311.72 502.87L329.9 516.88L332.58 517.97L335.45 517.51L337.66 515.64L338.58 512.89L338.93 506.12L338.32 503.34L336.39 501.25L319.01 490.47L315.9 489.67L312.89 490.77L311.04 493.39ZM221.91 503.23L225.4 502.18L227.77 499.42L228.26 495.81L226.72 492.52L222.3 487.51L219.81 485.78L216.81 485.37L209.32 486.14L206.1 487.4L204 490.14L203.62 493.57L205.06 496.71L208.67 500.98L210.9 502.67L213.62 503.27Z"/>
<path fill="#000003" d="M313.26 455.56L312.12 456.87L311.6 458.53L311.17 463.22L311.64 465.57L313.32 467.28L349.25 487.1L351.27 487.62L353.3 487.1L357.25 484.92L358.95 483.17L359.39 480.76L358.41 478.52L337.47 454.03L334.82 452.6L321.48 450.88L318.42 451.68ZM249.62 432.82L248.47 434.95L248.62 437.36L250.04 439.33L281.27 463.92L283.38 464.82L304.7 467.76L307.02 467.45L308.84 466L309.67 463.82L310.1 459.1L309.72 456.87L308.27 455.12L282.21 436.65L258.21 427.73L255.74 427.57L253.58 428.78ZM260.82 527.03L263.28 528.8L266.31 528.92L268.9 527.33L270.17 524.58L272.03 511.11L271.18 507.45L264.42 497.53L261.88 495.55L258.65 495.44L248.04 498.49L245.86 499.75L244.52 501.88L244.33 504.38L245.32 506.69ZM261.54 536.37L258.93 537.65L257.44 540.14L252.6 559.23L252.61 561.77L253.84 563.99L272.11 583.23L274.03 584.49L276.31 584.79L278.49 584.04L294.74 573.95L296.32 572.4L297.1 570.33L298.3 561.8L298.12 559.6L297.03 557.68L287.22 547.11L270.09 536.58L266.69 535.71ZM336.06 545.98L333.33 546.48L331.21 548.27L330.24 550.87L330.68 553.61L332.41 555.77L347 566.59L350.65 567.65L354.08 567.39L356.98 566.29L358.81 563.78L361.98 554.81L362.26 552.35L361.41 550.02L359.62 548.31L357.26 547.57ZM329.34 555.49L327.13 554.67L324.83 555.17L319.24 558.18L317.71 559.57L317.03 561.53L317.37 563.58L318.64 565.21L337.66 580.08L339.46 580.9L341.44 580.81L343.16 579.82L344.23 578.16L346.45 571.87L346.5 569.24L344.98 567.08ZM356.33 447.57L353.99 446.74L351.53 447.05L344.78 449.64L342.72 451.06L341.55 453.27L341.52 455.77L342.65 458L361.41 479.95L363.83 481.55L366.73 481.63L380.13 478.23L382.56 476.85L383.95 474.42L383.9 471.62L382.3 466.16L380.13 463.24ZM348.56 344.95L88.2 -356.89L86.29 -359.61L83.29 -361.05L79.98 -360.83L77.2 -359.02L75.66 -356.08L75.76 -352.76L287.93 365.65L289.35 368.19L345.92 430.74L348.64 432.54L351.89 432.81L354.87 431.47L356.83 428.87L357.3 425.64ZM388.68 422.93L386.65 421.65L384.25 421.49L382.06 422.48L380.6 424.38L377.86 430.72L377.55 433.67L378.99 436.26L386.24 443.12L388.32 444.29L390.7 444.35L392.84 443.28L394.22 441.34L394.52 438.97L393.39 429.28L392.05 426.44Z"/>
<path fill="#000000" d="M234.45 480.3L230.94 479.73L227.65 481.06L225.52 483.91L225.18 487.45L226.73 490.65L231.81 496.41L235.17 498.44L237.82 499.1L241.23 499.04L244.99 497.96L247.74 496.38L249.43 493.7L249.67 490.54L248.41 487.63L245.94 485.64ZM327.73 542.18L329.59 543.67L331.88 544.32L354.44 546.01L357.49 545.44L359.84 543.41L360.86 540.48L360.27 537.44L358.24 535.1L339.53 522.43L336.28 521.21L332.7 521.35L329.85 523.5L324.36 531.13L323.34 533.53L323.44 536.13L324.63 538.44ZM357.21 437.99L355.46 441.11L355.78 444.67L358.05 447.43L379.32 461.43L382.19 462.4L385.17 461.87L387.52 459.96L388.65 457.15L389.42 451.2L389.12 448.39L387.58 446.03L377.44 436.43L375.29 435.11L372.78 434.79L361.52 435.73Z"/>
<g fill="#0a6a0a"><circle cx="251.64" cy="473.94" r="0.52"/><circle cx="327.06" cy="519.94" r="0.64"/><circle cx="294.79" cy="545.4" r="0.4"/><circle cx="321.09" cy="445.81" r="0.39"/><circle cx="254.83" cy="490.66" r="0.53"/><circle cx="245.89" cy="515.43" r="0.36"/><circle cx="355.87" cy="454.02" r="0.34"/><circle cx="265.57" cy="519.11" r="0.48"/><circle cx="322.74" cy="526.64" r="0.6"/><circle cx="263.14" cy="513.7" r="0.55"/><circle cx="266.46" cy="519.14" r="0.49"/><circle cx="334.34" cy="451.2" r="0.51"/><circle cx="314.83" cy="539.81" r="0.65"/><circle cx="282.3" cy="557.91" r="0.32"/><circle cx="240.32" cy="518.17" r="0.39"/><circle cx="345.38" cy="474.92" r="0.59"/><circle cx="274.25" cy="464.38" r="0.42"/><circle cx="369.06" cy="499.34" r="0.4"/><circle cx="336.2" cy="518.35" r="0.51"/><circle cx="326.87" cy="531.28" r="0.57"/><circle cx="273.32" cy="470.19" r="0.35"/><circle cx="314.54" cy="533.2" r="0.6"/><circle cx="245.44" cy="528.38" r="0.35"/><circle cx="363.75" cy="482.58" r="0.53"/><circle cx="340.37" cy="520.98" r="0.69"/><circle cx="328.46" cy="501.6" r="0.56"/><circle cx="325.87" cy="471.58" r="0.45"/><circle cx="348.82" cy="526.4" r="0.64"/><circle cx="308.1" cy="526.09" r="0.4"/><circle cx="236.79" cy="496.79" r="0.59"/><circle cx="285.96" cy="453.8" r="0.63"/><circle cx="342.05" cy="557.28" r="0.62"/><circle cx="276.35" cy="557.96" r="0.54"/><circle cx="328.07" cy="551.43" r="0.69"/><circle cx="236.72" cy="510.23" r="0.61"/><circle cx="257.26" cy="536.15" r="0.45"/><circle cx="253.55" cy="523.46" r="0.59"/><circle cx="289.9" cy="529.09" r="0.62"/><circle cx="308.85" cy="473.67" r="0.58"/><circle cx="260.43" cy="483.65" r="0.69"/><circle cx="270.95" cy="509.7" r="0.41"/><circle cx="334.71" cy="516.15" r="0.55"/><circle cx="324.09" cy="493.71" r="0.67"/><circle cx="241.97" cy="512.45" r="0.55"/><circle cx="318.04" cy="479.71" r="0.5"/><circle cx="251.81" cy="478.84" r="0.39"/><circle cx="265.9" cy="451.3" r="0.58"/><circle cx="326.11" cy="550.34" r="0.62"/><circle cx="332.42" cy="529.98" r="0.68"/><circle cx="239.17" cy="488.96" r="0.66"/><circle cx="357.45" cy="529.8" r="0.43"/><circle cx="299.42" cy="536.6" r="0.47"/><circle cx="242.64" cy="560.2" r="0.52"/><circle cx="309.83" cy="483.14" r="0.45"/><circle cx="375.23" cy="458.96" r="0.66"/><circle cx="347.65" cy="551.98" r="0.69"/><circle cx="343.02" cy="505.08" r="0.46"/><circle cx="294.94" cy="492.14" r="0.46"/><circle cx="343.64" cy="546.97" r="0.68"/><circle cx="273.54" cy="526.91" r="0.32"/></g>
<ellipse cx="283.17" cy="465.75" rx="3.25" ry="1.31" fill="#1f3dff" transform="rotate(15.62 283.17 465.75)"/><ellipse cx="237.41" cy="525.03" rx="3.13" ry="1.85" fill="#1f3dff" transform="rotate(53.67 237.41 525.03)"/><ellipse cx="300.47" cy="557.58" rx="2.28" ry="1.44" fill="#28b4ff" transform="rotate(54.08 300.47 557.58)"/><ellipse cx="309.78" cy="467.36" rx="3.49" ry="1.3" fill="#28b4ff" transform="rotate(33.84 309.78 467.36)"/><ellipse cx="333.66" cy="520.13" rx="2.34" ry="1.83" fill="#28b4ff" transform="rotate(37 333.66 520.13)"/><ellipse cx="320.64" cy="447.43" rx="3.46" ry="1.36" fill="#1f3dff" transform="rotate(46.09 320.64 447.43)"/><ellipse cx="307.72" cy="502.03" rx="3.48" ry="1.77" fill="#28b4ff" transform="rotate(29.46 307.72 502.03)"/><ellipse cx="262.48" cy="485.22" rx="3.54" ry="1.45" fill="#28b4ff" transform="rotate(12.91 262.48 485.22)"/><ellipse cx="305.87" cy="503.25" rx="2.46" ry="1.24" fill="#1f3dff" transform="rotate(38.06 305.87 503.25)"/><ellipse cx="357.18" cy="500.94" rx="2.33" ry="1.42" fill="#28b4ff" transform="rotate(46.01 357.18 500.94)"/><ellipse cx="262.25" cy="489.7" rx="2.63" ry="1.56" fill="#28b4ff" transform="rotate(39.11 262.25 489.7)"/><ellipse cx="239.92" cy="498.5" rx="2.48" ry="1.37" fill="#1f3dff" transform="rotate(28.2 239.92 498.5)"/><ellipse cx="354.41" cy="500.46" rx="2.75" ry="1.43" fill="#28b4ff" transform="rotate(13.13 354.41 500.46)"/><ellipse cx="240.3" cy="460.09" rx="2.97" ry="1.81" fill="#1f3dff" transform="rotate(21.73 240.3 460.09)"/><ellipse cx="353.71" cy="505.43" rx="2.82" ry="1.66" fill="#1f3dff" transform="rotate(47.74 353.71 505.43)"/><ellipse cx="266.65" cy="532.98" rx="3.17" ry="1.26" fill="#28b4ff" transform="rotate(28.36 266.65 532.98)"/><ellipse cx="349.92" cy="490.87" rx="2.8" ry="1.54" fill="#28b4ff" transform="rotate(35.76 349.92 490.87)"/><ellipse cx="364.64" cy="545.89" rx="2.75" ry="1.82" fill="#28b4ff" transform="rotate(18.36 364.64 545.89)"/><ellipse cx="282.14" cy="464.88" rx="3.15" ry="1.65" fill="#1f3dff" transform="rotate(22.65 282.14 464.88)"/><ellipse cx="317.84" cy="451.21" rx="2.24" ry="1.43" fill="#1f3dff" transform="rotate(39.54 317.84 451.21)"/><ellipse cx="237.37" cy="497.3" rx="3.02" ry="1.26" fill="#1f3dff" transform="rotate(30.7 237.37 497.3)"/><ellipse cx="307.27" cy="525.76" rx="3.29" ry="1.59" fill="#1f3dff" transform="rotate(17.17 307.27 525.76)"/><ellipse cx="265.75" cy="486.43" rx="2.45" ry="1.34" fill="#1f3dff" transform="rotate(19.65 265.75 486.43)"/><ellipse cx="366.46" cy="548.66" rx="3.52" ry="1.3" fill="#1f3dff" transform="rotate(24.47 366.46 548.66)"/><ellipse cx="363.76" cy="480.45" rx="2.78" ry="1.45" fill="#28b4ff" transform="rotate(11.69 363.76 480.45)"/><ellipse cx="337.4" cy="450.96" rx="3.35" ry="1.62" fill="#1f3dff" transform="rotate(22.39 337.4 450.96)"/><ellipse cx="328.3" cy="553.31" rx="3.64" ry="1.43" fill="#28b4ff" transform="rotate(16.36 328.3 553.31)"/><ellipse cx="301.08" cy="518.34" rx="2.69" ry="1.48" fill="#28b4ff" transform="rotate(53.83 301.08 518.34)"/>
</g></g>
<clipPath id="cp5"><rect x="381.1" y="447.6" width="141.4" height="117.2"/></clipPath>
<g clip-path="url(#cp5)">
<g filter="url(#soft)">
<rect x="379.1" y="445.6" width="145.4" height="121.2" fill="#1cd01c"/>
<path fill="#010703" d="M452.83 425.29L450.29 424.7L447.82 425.53L446.16 427.54L437.65 446.8L437.37 449.83L439.25 457.76L440.45 459.96L442.6 461.25L454 464.47L456.52 464.49L458.69 463.23L459.93 461.04L464.89 441.21L464.98 439.3L464.07 433.6L463.26 431.61L461.67 430.18ZM391.93 434.11L392.4 435.9L395.13 439.91L401.18 445.12L402.62 445.8L404.2 445.65L421.28 439.12L422.43 438.33L423.1 437.11L423.14 435.71L420.82 424.68L420.09 423.26L418.73 422.42L417.13 422.4L395.31 428.18L393.36 429.31L392.46 430.31ZM381.37 471.12L382.85 470.97L384.1 470.16L384.84 468.87L392.79 441.7L392.88 440.36L392.41 439.09L391.18 437.91L389.66 437.53L388.13 437.92L378.78 443.06L377.61 444.18L373.31 451.18L372.84 452.88L373.02 467.27L373.39 468.71L374.38 469.83L375.78 470.37ZM481.11 499.75L481.23 497.97L480.81 496.64L479.83 495.65L462.67 485.03L461.07 484.58L459.48 485.06L458.39 486.32L454.07 495.68L453.8 496.95L453.85 507.18L454.29 508.72L455.46 509.81L457.02 510.14L475.93 508.98L477.55 508.38L478.57 506.99ZM481.26 549.53L480.92 552.38L482.12 554.98L484.51 556.57L487.37 556.68L500.47 553.55L503.57 551.43L505.7 548.37L506.56 546.3L506.48 544.05L504.14 535.96L502.43 533.73L500 531.68L497.39 530.49L493.73 529.92L491.4 530.08L489.38 531.22L488.03 533.12ZM410.06 580.33L409.99 582.11L410.86 583.65L412.43 584.49L414.2 584.37L428.83 579.03L430.09 578.2L430.82 576.88L430.88 575.38L429.76 569.94L428.52 568L420.58 562.17L419.2 561.59L417.71 561.69L416.43 562.46L415.64 563.73ZM384.3 523.55L382.66 523.9L381.35 524.96L380.69 526.5L380.81 528.18L386.86 547.06L387.76 548.52L389.25 549.38L394.81 551L396.86 550.98L398.55 549.84L399.33 547.95L400.05 540.82L399.49 538.51L390.75 525.27L389.52 524.13L387.91 523.68ZM400.81 549.54L401.01 551.15L401.88 552.52L403.25 553.38L413.62 556.99L415.42 557.15L417.07 556.43L418.18 555.02L423.32 543.5L423.53 541.13L421.62 533.32L420.33 531.32L416.76 528.49L415.1 527.75L413.29 527.89L411.77 528.89L402.62 538.86L401.68 540.97ZM404.19 555.48L401.83 555.29L399.69 556.29L398.31 558.21L392.96 572.24L392.76 574.91L394.07 577.24L400.41 583.37L402.43 584.52L404.75 584.55L406.8 583.46L408.06 581.51L414.02 563.77L414.17 561.39L413.12 559.24L411.14 557.9Z"/>
<path fill="#000000" d="M462.19 563.86L460.19 564.14L458.61 565.4L457.88 567.29L456.73 578.16L457.18 580.41L458.81 582L461.06 582.4L477.01 580.37L478.99 579.52L480.2 577.74L480.27 575.59L478.44 568.34L477.25 566.39L475.16 565.46ZM408.1 446.15L406.27 447.52L405.44 449.66L405.86 451.92L415.24 470.73L416.84 472.46L419.12 473.05L421.36 472.3L435.55 462.47L437.07 460.53L437.23 458.07L435.34 450.1L433.95 447.86L426.3 441.48L424.31 440.57L422.13 440.79ZM374.5 445.87L374.93 444.33L374.49 442.8L373.31 441.72L356.84 433.52L355.04 433.25L353.44 434.1L350.41 437.72L350.34 439.11L352 447.52L352.51 448.69L353.48 449.52L354.7 449.87L369.72 450.72L371.23 450.39L372.37 449.33ZM489.64 450.07L489.71 448.71L489.19 447.45L486.84 445.52L469.55 441.72L467.99 441.79L466.66 442.61L465.9 443.98L462.07 459.3L462.14 461.05L463.16 462.48L464.79 463.12L482.91 464.73L484.31 464.52L485.47 463.72L486.16 462.49ZM451.62 511.86L452.08 510.1L452.02 499.5L451.28 497.34L449.39 496.07L422.98 488.8L421.2 488.77L419.62 489.61L418.65 491.1L418.51 492.88L419.57 498.86L421.01 501.15L441.62 515.92L443.4 516.58L445.26 516.24L449.6 514.16ZM443.26 520.49L443.87 540.41L444.36 541.92L448.49 548.24L449.79 549.34L451.47 549.56L453.01 548.83L463.62 539.29L464.58 537.53L464.91 533.9L452.52 517.29L451.47 516.43L450.16 516.11L448.84 516.41L444.98 518.27ZM425.2 530.9L424.18 531.77L423.62 533L423.65 534.35L424.81 539.09L425.45 540.35L426.58 541.19L427.96 541.44L439.21 540.85L440.72 540.37L441.79 539.19L442.13 537.65L441.69 527.16L441.24 525.69L440.14 524.62L438.66 524.21L437.17 524.57ZM419.39 528.44L422.3 529.6L425.37 528.99L435.7 523.52L437.74 521.66L438.61 519.04L438.1 516.33L436.33 514.21L424.74 505.9L421.73 504.87L418.65 505.7L416.54 508.09L414.04 513.61L413.59 516.63L414.41 522.55L416.44 526.11ZM485.14 493.1L484.04 495.85L484.7 498.73L486.88 500.74L498.76 506.39L501.67 506.81L504.31 505.53L506.87 503.14L508.17 501.14L508.4 498.77L507.5 496.56L505.69 495.02L493.51 488.96L491.34 488.43L489.15 488.91L487.4 490.29ZM500.66 513.03L500.04 509.71L497.58 507.38L488.13 502.89L485.14 502.39L482.35 503.55L480.6 506.02L479.92 507.95L479.88 511.47L483.44 522.35L485.61 525.21L488.4 527.07L490.6 527.92L493.02 528.3L495.89 527.98L498.19 526.25L499.3 523.59ZM526.82 499.91L529.07 500.7L531.44 500.4L533.42 499.07L540.57 491.35L541.77 489.2L541.84 486.74L537.16 464.91L536.17 462.79L534.35 461.33L532.07 460.81L522.49 460.85L519.85 461.59L517.96 463.57L515.58 467.98L515.08 471.58L520.1 493.82L522.35 497.03ZM500.06 586.02L502.11 584.91L503.45 583L503.81 580.7L502.39 561.08L501.35 558.34L498.99 556.61L496.06 556.46L484.28 559.28L482.19 560.32L480.13 563.64L479.84 567L482.88 579L483.68 580.73L487.47 586.01L489.94 587.87L493.02 587.97ZM362.21 528.88L363.4 530.86L365.36 532.11L367.66 532.35L369.83 531.54L377.2 526.6L378.84 524.81L379.44 522.46L378.89 520.1L372.39 507.4L370.92 505.65L368.84 504.73L366.56 504.82L360.56 506.46L358.25 507.83L356.97 510.19L357.08 512.88ZM371.11 532.98L369.55 534.71L368.99 536.98L369.57 539.24L371.16 540.95L374.87 543.38L377.07 544.14L379.37 543.77L381.22 542.35L382.19 540.23L382.04 537.91L380.74 533.87L379.61 531.99L377.76 530.82L375.58 530.59L373.53 531.36ZM505.62 580.27L506.19 581.95L507.5 583.14L509.23 583.53L510.93 583.03L516.62 579.63L517.7 578.62L518.27 577.25L521.84 557.87L521.61 555.84L520.85 554.07L519.02 552.24L510.84 548.68L509.27 548.4L507.74 548.83L506.55 549.9L504.42 552.97L503.79 555.23Z"/>
<path fill="#00000a" d="M424.86 419.73L422.87 422.1L422.58 425.19L424.96 436.52L426.72 439.46L430.34 442.47L432.48 443.54L434.86 443.54L437 442.48L438.44 440.57L445.91 423.65L446.35 421.4L445.78 419.17L443.43 414.6L441.48 412.51L438.72 411.77L435.98 412.59ZM369.71 400.48L367.63 398.86L365 398.64L362.69 399.9L361.45 402.22L356.23 427.66L356.26 429.66L357.13 431.45L358.68 432.71L375.23 440.95L377.38 441.43L379.51 440.86L388.15 436.11L389.82 434.54L390.58 431.52L389.73 428.57ZM516.45 427.88L515.06 428.25L514.01 429.22L513.52 430.57L512.17 443.59L512.46 445.23L518.48 457.46L519.6 458.68L521.19 459.13L535.65 459.07L537.61 458.34L542.62 453.98L543.64 452.03L544.73 441.73L544.3 439.84L537.64 428.98L536.52 427.92L535.02 427.55ZM457.6 511.87L455.76 512.5L454.52 513.99L454.21 515.9L454.94 517.7L464.4 530.08L465.7 531.14L467.33 531.51L468.95 531.11L479.61 525.6L480.89 524.5L481.53 522.93L481.39 521.25L478.79 513.29L477.99 511.93L476.68 511.04L475.12 510.79ZM371.31 499.95L371.32 501.4L372 502.68L373.19 503.51L374.63 503.69L389.98 502.02L391.26 501.59L392.23 500.64L400.61 487.71L401.1 485.95L400.5 484.22L399.02 483.13L397.35 482.57L395.94 482.43L394.62 482.95L372.56 498.11ZM479.36 493.49L480.84 493.97L482.37 493.7L483.61 492.76L488.46 486.75L489.16 485.1L490.53 473.91L490.42 472.6L489.81 471.43L486.45 467.38L485.46 466.57L484.23 466.21L461.92 464.24L459.57 464.96L458.04 466.77L457.88 468.46L459.83 480.09L460.34 481.37L461.33 482.32ZM513.02 522.94L512.16 525.07L512.49 527.34L513.91 529.15L516.04 530.01L518.31 529.69L523.64 527.05L524.59 525.55L527.4 518.26L527.61 515.76L526.42 513.54L524.22 512.32L521.71 512.5L519.7 514ZM432.76 577.78L434.44 581.35L436.25 583.13L446.87 588.58L448.79 589.04L450.7 588.58L452.19 587.29L454.23 584.45L454.99 582.45L456.87 564.6L456.71 562.94L455.92 561.47L452.62 557.52L450.92 556.31L448.86 556.05L446.93 556.83L433.04 566.97L431.61 568.85L431.41 571.2ZM362.06 562.76L362.77 564.27L364.16 565.19L365.83 565.25L367.29 564.43L378.81 552.92L379.66 551.33L379.47 549.54L378.32 548.16L368.6 541.81L366.95 541.31L365.29 541.78L364.13 543.06L360.58 550.46L360.32 552.31ZM380.85 520.46L381.89 521.6L383.35 522.05L389.67 521.97L394.38 516.75L395.01 515.42L394.9 513.96L392.09 505.56L391.4 504.45L390.3 503.75L389.01 503.59L377.32 504.86L376 505.34L375.06 506.38L374.72 507.73L375.04 509.09ZM529.87 534L531.65 535.58L533.95 536.16L536.26 535.6L538.05 534.03L538.9 531.81L540.57 518.58L540.37 516.43L538.8 514.05L536.7 512.71L534.21 512.55L531.96 513.62L530.51 515.65L526.69 525.56L526.39 527.93L527.23 530.17ZM528.55 545.98L530.32 543.75L531.27 539.78L530.41 537.46L526.87 532.32L525.18 530.77L522.98 530.13L520.72 530.53L510.07 535.05L508.17 536.46L507.12 538.58L507.15 540.95L507.84 543.68L508.89 545.71L510.73 547.07L518.21 550.33L520.75 550.72L523.16 549.81ZM520.39 573.68L520.63 576.28L522.17 578.39L524.58 579.4L534.85 580.68L537.34 580.34L539.33 578.81L540.29 576.49L539.97 573.99L537.76 568.59L535.98 566.41L529.5 562.01L527.24 561.19L524.87 561.54L522.96 562.98L521.96 565.16Z"/>
<path fill="#000003" d="M487.51 438.16L487.13 436.44L486.11 435L476.99 426.38L475.12 425.32L472.97 425.26L471.04 426.21L467.35 429.34L466.05 431.19L465.83 433.45L466.34 436.68L467.5 439.04L469.79 440.33L482.1 443.04L484.73 442.82L486.78 441.14ZM511.57 469.16L513.01 468.62L514.03 467.48L517.33 461.36L517.72 459.88L517.39 458.39L512.04 447.52L510.57 446.05L508.51 445.77L493.22 448.7L491.64 449.5L490.71 451.01L487.1 463.86L487.05 465.41L487.73 466.81L490.58 470.26L491.88 471.2L493.48 471.41ZM453.23 551.04L452.36 552.36L452.25 553.93L452.92 555.36L457.43 560.75L459.44 561.84L475.42 563.81L477.33 563.43L478.64 561.99L479.55 559.95L479.7 557.82L478.54 553.83L477.71 552.45L467.22 542.36L465.88 541.6L464.34 541.57L462.98 542.29ZM394.34 500.63L393.56 502.76L393.79 505.02L395.77 510.94L397.72 513.52L400.82 514.4L408.77 514.06L411.39 513.19L413.18 511.08L417.25 502.12L417.63 499.13L415.72 488.4L414.65 486.08L412.58 484.56L410.04 484.25L406.8 484.69L404.75 485.43L403.2 486.96ZM512.4 496.41L514.56 496.65L516.85 495.66L517.7 494.28L517.76 492.67L513.44 473.52L512.75 472.14L511.49 471.26L509.96 471.07L494.86 472.95L493.55 473.42L492.57 474.4L492.1 475.7L491.15 483.47L491.5 485.36L492.88 486.7ZM501.09 520.88L501.43 523.36L502.96 525.33L505.27 526.27L507.74 525.92L509.7 524.38L523.52 505.9L524.46 503.47L523.99 500.92L522.27 498.98L519.51 497.67L514.88 498.4L512.74 499.56L503.89 507.83L502.41 510.72Z"/>
<path fill="#000008" d="M489.32 441.99L490.17 444.65L492.34 446.41L495.11 446.69L506.84 444.44L509.51 442.95L510.77 440.16L511.43 433.79L511.07 431.38L509.58 429.45L507.35 428.47L500.2 427.33L497.79 427.55L495.78 428.91L490.48 434.9L489.25 438.22ZM449.95 494.34L451.35 494.39L452.62 493.8L453.49 492.7L458.1 482.7L458.34 480.94L456.31 468.89L455.58 467.38L454.16 466.49L440.59 462.66L439.27 462.59L438.05 463.08L418.53 476.62L417.42 478.06L416.21 481.38L416.29 483.63L417.23 485.04L418.39 485.66ZM469.78 532.42L467.83 534.12L466.87 536.51L467.11 539.08L468.49 541.26L473.15 545.74L475.44 547.06L478.08 547.15L480.46 546.01L482.03 543.88L485.64 535.13L486.03 532.51L485.15 530L483.2 528.21L480.63 527.54L478.05 528.15ZM428.66 543.11L425.88 544.06L424.01 546.31L420.28 554.66L419.82 557.04L420.44 559.38L422.02 561.22L426.99 564.86L430.18 565.91L433.38 564.87L445.47 556.03L447.19 553.94L447.67 551.27L446.8 548.71L444.37 544.98L442.29 543.12L439.56 542.55ZM385.33 473.75L383.39 472.92L374.01 471.66L372.43 471.77L371.03 472.48L369.5 474.31L369.21 476.26L370.74 490.65L371.46 492.54L373.02 493.83L375.02 494.18L376.92 493.5L390.34 484.27L391.57 482.91L392.05 481.15L391.69 479.35L390.56 477.91ZM386.08 470.08L386.1 472.04L387.22 473.66L395.63 480.35L403.17 483.12L404.7 483.27L412.34 482.25L414 481.54L415.06 480.07L415.82 477.99L416.02 476.64L415.67 475.33L402.16 448.23L398.47 444.7L396.98 443.96L395.31 444.02L393.88 444.88L393.03 446.31ZM397.09 532.17L399.67 534.28L403 534.54L405.88 532.87L411.41 526.85L412.62 524.73L412.62 520.78L411.6 518.25L409.5 516.5L406.83 515.95L399.1 516.29L396.85 516.87L395.03 518.31L393.73 519.88L392.45 523.14L393.37 526.53ZM397 557.09L397.16 555.26L396.34 553.61L394.78 552.63L387.54 550.53L384.64 550.68L382.81 551.62L366.9 567.5L365.98 569.19L366.13 571.11L367.3 572.63L375.66 578.73L377.22 579.35L378.89 579.14L388.9 575.2L390.07 574.44L390.82 573.26ZM524.59 550.62L523.39 552L522.98 553.79L523.43 555.56L524.66 556.92L533.45 562.89L535.58 563.55L537.72 562.91L539.14 561.19L541.05 556.64L541.33 554.84L540.75 553.11L539.44 551.85L532.46 547.79L530.36 547.27L528.31 547.97Z"/>
<g fill="#0a6a0a"><circle cx="465.01" cy="464.43" r="0.59"/><circle cx="419.72" cy="525.99" r="0.48"/><circle cx="482.86" cy="529.24" r="0.42"/><circle cx="444.08" cy="488.59" r="0.33"/><circle cx="394.72" cy="486.05" r="0.39"/><circle cx="417.97" cy="501.52" r="0.56"/><circle cx="443.81" cy="504.91" r="0.55"/><circle cx="521.32" cy="492.55" r="0.67"/><circle cx="407.98" cy="475.71" r="0.6"/><circle cx="431.17" cy="451.52" r="0.35"/><circle cx="480.58" cy="500.22" r="0.48"/><circle cx="499.8" cy="527.45" r="0.41"/><circle cx="389.55" cy="482.28" r="0.59"/><circle cx="461.71" cy="524.53" r="0.69"/><circle cx="506.97" cy="544.53" r="0.48"/><circle cx="438.87" cy="531.19" r="0.44"/><circle cx="499.8" cy="492.84" r="0.47"/><circle cx="486.32" cy="541.27" r="0.34"/><circle cx="431.23" cy="559.6" r="0.42"/><circle cx="456.24" cy="542.85" r="0.67"/><circle cx="416.06" cy="489.36" r="0.41"/><circle cx="495.99" cy="491.66" r="0.35"/><circle cx="482.83" cy="519.86" r="0.34"/><circle cx="393.99" cy="564.34" r="0.59"/><circle cx="439.35" cy="464.96" r="0.43"/><circle cx="496.3" cy="501.13" r="0.63"/><circle cx="471.83" cy="528.81" r="0.4"/><circle cx="389.6" cy="458.97" r="0.59"/><circle cx="445.53" cy="465.56" r="0.47"/><circle cx="467.41" cy="486.25" r="0.68"/><circle cx="420.49" cy="553.78" r="0.32"/><circle cx="488.5" cy="452.77" r="0.56"/><circle cx="427.86" cy="540.12" r="0.66"/><circle cx="519.79" cy="531.03" r="0.46"/><circle cx="506.12" cy="473.79" r="0.42"/><circle cx="415.3" cy="545.59" r="0.69"/><circle cx="394" cy="510.65" r="0.36"/><circle cx="429.73" cy="462.42" r="0.46"/><circle cx="428.1" cy="507.16" r="0.63"/><circle cx="501.74" cy="552.89" r="0.66"/><circle cx="479.77" cy="503.58" r="0.63"/><circle cx="462.98" cy="504.86" r="0.66"/><circle cx="421.45" cy="466.05" r="0.33"/><circle cx="448.82" cy="550.43" r="0.37"/><circle cx="464.42" cy="459.8" r="0.59"/><circle cx="436.5" cy="516.88" r="0.34"/><circle cx="442.82" cy="504.89" r="0.31"/><circle cx="516.63" cy="494.63" r="0.39"/><circle cx="482.74" cy="490.51" r="0.6"/><circle cx="399.45" cy="543.54" r="0.33"/><circle cx="381.78" cy="501.43" r="0.69"/><circle cx="446.46" cy="464.22" r="0.55"/><circle cx="386.57" cy="496.65" r="0.31"/><circle cx="459.2" cy="461.16" r="0.31"/><circle cx="410.64" cy="517.94" r="0.59"/><circle cx="426.83" cy="545.98" r="0.51"/><circle cx="421.67" cy="553.38" r="0.5"/><circle cx="506.26" cy="542.46" r="0.47"/><circle cx="490.14" cy="482.56" r="0.37"/><circle cx="460.53" cy="463.46" r="0.5"/></g>
<ellipse cx="444.47" cy="544.23" rx="2.73" ry="1.46" fill="#1f3dff" transform="rotate(95.5 444.47 544.23)"/><ellipse cx="385.06" cy="547.73" rx="3.78" ry="1.71" fill="#1f3dff" transform="rotate(86.18 385.06 547.73)"/><ellipse cx="404.72" cy="482.19" rx="3.43" ry="1.45" fill="#1f3dff" transform="rotate(89.65 404.72 482.19)"/><ellipse cx="481.52" cy="512.67" rx="2.24" ry="1.26" fill="#1f3dff" transform="rotate(80.05 481.52 512.67)"/><ellipse cx="492.63" cy="488.32" rx="2.6" ry="1.6" fill="#28b4ff" transform="rotate(69.14 492.63 488.32)"/><ellipse cx="479.32" cy="550.38" rx="2.58" ry="1.36" fill="#1f3dff" transform="rotate(68.7 479.32 550.38)"/><ellipse cx="463.67" cy="537.21" rx="3.13" ry="1.73" fill="#1f3dff" transform="rotate(67.06 463.67 537.21)"/><ellipse cx="467.93" cy="531.41" rx="2.96" ry="1.32" fill="#28b4ff" transform="rotate(65.42 467.93 531.41)"/><ellipse cx="390.19" cy="500.36" rx="3.35" ry="1.83" fill="#1f3dff" transform="rotate(60.1 390.19 500.36)"/><ellipse cx="503.42" cy="556.46" rx="2.53" ry="1.38" fill="#28b4ff" transform="rotate(72.5 503.42 556.46)"/><ellipse cx="438.54" cy="449.57" rx="3.26" ry="1.74" fill="#1f3dff" transform="rotate(84.34 438.54 449.57)"/><ellipse cx="421.88" cy="541.29" rx="2.75" ry="1.66" fill="#28b4ff" transform="rotate(61.29 421.88 541.29)"/><ellipse cx="379.99" cy="522.71" rx="2.29" ry="1.3" fill="#1f3dff" transform="rotate(55.61 379.99 522.71)"/><ellipse cx="480.83" cy="512.49" rx="2.94" ry="1.33" fill="#28b4ff" transform="rotate(89.58 480.83 512.49)"/><ellipse cx="520.13" cy="457.78" rx="3.53" ry="1.39" fill="#1f3dff" transform="rotate(67.21 520.13 457.78)"/><ellipse cx="415.37" cy="474.2" rx="3.35" ry="1.41" fill="#28b4ff" transform="rotate(99.24 415.37 474.2)"/><ellipse cx="442.92" cy="520.4" rx="3.37" ry="1.43" fill="#28b4ff" transform="rotate(58.66 442.92 520.4)"/><ellipse cx="402.79" cy="445.93" rx="2.74" ry="1.72" fill="#1f3dff" transform="rotate(83.69 402.79 445.93)"/><ellipse cx="413.37" cy="512.31" rx="2.97" ry="1.49" fill="#1f3dff" transform="rotate(72.03 413.37 512.31)"/><ellipse cx="466.31" cy="533.66" rx="2.86" ry="1.84" fill="#28b4ff" transform="rotate(92.89 466.31 533.66)"/><ellipse cx="484.63" cy="501.67" rx="3.75" ry="1.82" fill="#28b4ff" transform="rotate(90.38 484.63 501.67)"/><ellipse cx="461.03" cy="463.21" rx="2.41" ry="1.62" fill="#1f3dff" transform="rotate(103.62 461.03 463.21)"/><ellipse cx="413.82" cy="523.87" rx="3.73" ry="1.29" fill="#28b4ff" transform="rotate(94.2 413.82 523.87)"/><ellipse cx="413.57" cy="487.37" rx="3.18" ry="1.9" fill="#1f3dff" transform="rotate(66.85 413.57 487.37)"/><ellipse cx="413.99" cy="486.85" rx="2.48" ry="1.28" fill="#1f3dff" transform="rotate(97.44 413.99 486.85)"/><ellipse cx="411.61" cy="524.68" rx="3.21" ry="1.55" fill="#1f3dff" transform="rotate(83.04 411.61 524.68)"/><ellipse cx="436.86" cy="460.93" rx="2.59" ry="1.78" fill="#28b4ff" transform="rotate(87.18 436.86 460.93)"/><ellipse cx="442.96" cy="518.6" rx="3.64" ry="1.87" fill="#1f3dff" transform="rotate(90.08 442.96 518.6)"/><ellipse cx="509.2" cy="544.52" rx="3.56" ry="1.67" fill="#28b4ff" transform="rotate(104.7 509.2 544.52)"/><ellipse cx="450.58" cy="511.46" rx="2.69" ry="1.23" fill="#1f3dff" transform="rotate(65.98 450.58 511.46)"/><ellipse cx="519.51" cy="499.14" rx="3.22" ry="1.23" fill="#28b4ff" transform="rotate(81.83 519.51 499.14)"/><ellipse cx="421.92" cy="544.87" rx="3.48" ry="1.52" fill="#1f3dff" transform="rotate(67.63 421.92 544.87)"/><ellipse cx="391.79" cy="521.82" rx="2.44" ry="1.76" fill="#1f3dff" transform="rotate(101.82 391.79 521.82)"/><ellipse cx="414.05" cy="522.42" rx="3.31" ry="1.7" fill="#28b4ff" transform="rotate(70.63 414.05 522.42)"/>
</g></g>
<text font-size="11.3" text-anchor="start" fill="#f4f4f4" transform="matrix(1.03 0 0 1 188.9 431.8)">50µm</text>
<line x1="185.1" y1="436.5" x2="226.2" y2="436.5" stroke="#f4f4f4" stroke-width="1.6"/>
<text font-size="11.3" text-anchor="start" fill="#f4f4f4" transform="matrix(1.03 0 0 1 336.3 430.8)">50µm</text>
<line x1="330.1" y1="436.3" x2="371.1" y2="436.3" stroke="#f4f4f4" stroke-width="1.6"/>
<text font-size="11.3" text-anchor="start" fill="#f4f4f4" transform="matrix(1.03 0 0 1 480.5 431.5)">50µm</text>
<line x1="475.9" y1="437.3" x2="517.1" y2="437.3" stroke="#f4f4f4" stroke-width="1.6"/>
<text font-size="11.3" text-anchor="start" fill="#f4f4f4" transform="matrix(1.03 0 0 1 183 556.5)">50µm</text>
<line x1="176.6" y1="561.9" x2="217.7" y2="561.9" stroke="#f4f4f4" stroke-width="1.6"/>
<text font-size="11.3" text-anchor="start" fill="#f4f4f4" transform="matrix(1.03 0 0 1 332.8 550.8)">50µm</text>
<line x1="327" y1="556.9" x2="368.2" y2="556.9" stroke="#f4f4f4" stroke-width="1.6"/>
<text font-size="11.3" text-anchor="start" fill="#f4f4f4" transform="matrix(1.03 0 0 1 476.7 551.5)">50µm</text>
<line x1="473.3" y1="558.3" x2="514.9" y2="558.3" stroke="#f4f4f4" stroke-width="1.6"/>
<text font-size="1" text-anchor="start" fill="#000" transform="translate(579 400.5)"></text>
<circle cx="570.8" cy="393.2" r="6.8" fill="none" stroke="#000" stroke-width="1.6"/>
<line x1="575.61" y1="388.39" x2="580.18" y2="383.82" stroke="#000" stroke-width="1.6"/>
<path d="M580.78 383.22L576.44 383.72L580.28 387.56Z" stroke="#000" stroke-width="0.6" fill="#000"/>
<circle cx="577.9" cy="456" r="6.6" fill="none" stroke="#000" stroke-width="1.6"/>
<line x1="577.9" y1="462.6" x2="577.9" y2="469.1" stroke="#000" stroke-width="1.6"/>
<line x1="574.9" y1="466.18" x2="580.9" y2="466.18" stroke="#000" stroke-width="1.6"/>
<rect x="592.9" y="369.1" width="29.2" height="9.6" fill="#1AB8F0" stroke="#111" stroke-width="1.4"/>
<text font-size="11.2" text-anchor="start" fill="#222" transform="translate(630 378)">Sham</text>
<rect x="592.9" y="386.6" width="29.2" height="9.6" fill="#0B3D7C" stroke="#111" stroke-width="1.4"/>
<text font-size="11.2" text-anchor="start" fill="#222" transform="translate(630 395.5)">TAC-ND</text>
<rect x="592.9" y="404.2" width="29.2" height="9.6" fill="#157F7B" stroke="#111" stroke-width="1.4"/>
<text font-size="11.2" text-anchor="start" fill="#222" transform="translate(630 413.1)">TAC-3VitB</text>
<rect x="592.9" y="438.7" width="29.2" height="9.6" fill="#FF6666" stroke="#111" stroke-width="1.4"/>
<text font-size="11.2" text-anchor="start" fill="#222" transform="translate(631.8 447.2)">Sham</text>
<rect x="592.9" y="456" width="29.2" height="9.6" fill="#800000" stroke="#111" stroke-width="1.4"/>
<text font-size="11.2" text-anchor="start" fill="#222" transform="translate(631.8 464.5)">TAC-ND</text>
<rect x="592.9" y="473" width="29.2" height="9.6" fill="#FF0000" stroke="#111" stroke-width="1.4"/>
<text font-size="11.2" text-anchor="start" fill="#222" transform="translate(631.8 481.5)">TAC-3VitB</text>
<circle cx="63.5" cy="387" r="6.6" fill="none" stroke="#000" stroke-width="1.25"/>
<line x1="68.17" y1="382.33" x2="72.6" y2="377.9" stroke="#000" stroke-width="1.25"/>
<path d="M73.2 377.3L68.97 377.8L72.7 381.53Z" stroke="#000" stroke-width="0.6" fill="#000"/>
<circle cx="65.4" cy="499.8" r="6.7" fill="none" stroke="#000" stroke-width="1.25"/>
<line x1="65.4" y1="506.5" x2="65.4" y2="513.5" stroke="#000" stroke-width="1.25"/>
<line x1="62.4" y1="510.35" x2="68.4" y2="510.35" stroke="#000" stroke-width="1.25"/>
<rect x="119.1" y="730.69" width="10.8" height="36.41" fill="#66CCFF" stroke="#000" stroke-width="1.5"/>
<rect x="138.78" y="738.02" width="10.8" height="29.08" fill="#0B3D7C" stroke="#000" stroke-width="1.5"/>
<rect x="158.46" y="730.92" width="10.8" height="36.18" fill="#157F7B" stroke="#000" stroke-width="1.5"/>
<rect x="178.14" y="679.16" width="10.8" height="87.94" fill="#66CCFF" stroke="#000" stroke-width="1.5"/>
<rect x="197.82" y="703.67" width="10.8" height="63.43" fill="#0B3D7C" stroke="#000" stroke-width="1.5"/>
<rect x="217.5" y="703.67" width="10.8" height="63.43" fill="#157F7B" stroke="#000" stroke-width="1.5"/>
<rect x="237.18" y="704.81" width="10.8" height="62.29" fill="#66CCFF" stroke="#000" stroke-width="1.5"/>
<rect x="256.86" y="712.6" width="10.8" height="54.5" fill="#0B3D7C" stroke="#000" stroke-width="1.5"/>
<rect x="276.54" y="712.14" width="10.8" height="54.96" fill="#157F7B" stroke="#000" stroke-width="1.5"/>
<rect x="296.22" y="740.76" width="10.8" height="26.34" fill="#66CCFF" stroke="#000" stroke-width="1.5"/>
<rect x="315.9" y="728.17" width="10.8" height="38.93" fill="#0B3D7C" stroke="#000" stroke-width="1.5"/>
<rect x="335.58" y="729.77" width="10.8" height="37.33" fill="#157F7B" stroke="#000" stroke-width="1.5"/>
<rect x="355.26" y="751.99" width="10.8" height="15.11" fill="#66CCFF" stroke="#000" stroke-width="1.5"/>
<rect x="374.94" y="725.65" width="10.8" height="41.45" fill="#0B3D7C" stroke="#000" stroke-width="1.5"/>
<rect x="394.62" y="731.83" width="10.8" height="35.27" fill="#157F7B" stroke="#000" stroke-width="1.5"/>
<line x1="124.5" y1="730.69" x2="124.5" y2="729.32" stroke="#000" stroke-width="0.8"/>
<line x1="121.3" y1="729.32" x2="127.7" y2="729.32" stroke="#000" stroke-width="0.8"/>
<line x1="124.5" y1="730.69" x2="124.5" y2="732.06" stroke="#000" stroke-width="0.8"/>
<line x1="121.3" y1="732.06" x2="127.7" y2="732.06" stroke="#000" stroke-width="0.8"/>
<g fill="#000"><circle cx="124.11" cy="736.05" r="1.9"/><circle cx="126.29" cy="734.33" r="1.9"/><circle cx="123.92" cy="733.22" r="1.9"/><circle cx="124.79" cy="732.02" r="1.9"/><circle cx="124.12" cy="731.53" r="1.9"/><circle cx="128.27" cy="730.42" r="1.9"/><circle cx="123.07" cy="728.45" r="1.9"/><circle cx="126.83" cy="727.89" r="1.9"/><circle cx="121.7" cy="726.84" r="1.9"/></g>
<line x1="144.18" y1="738.02" x2="144.18" y2="736.64" stroke="#000" stroke-width="0.8"/>
<line x1="140.98" y1="736.64" x2="147.38" y2="736.64" stroke="#000" stroke-width="0.8"/>
<line x1="144.18" y1="738.02" x2="144.18" y2="739.39" stroke="#000" stroke-width="0.8"/>
<line x1="140.98" y1="739.39" x2="147.38" y2="739.39" stroke="#000" stroke-width="0.8"/>
<g fill="#000"><circle cx="141.52" cy="743.58" r="1.9"/><circle cx="147.87" cy="741.83" r="1.9"/><circle cx="145.6" cy="741.03" r="1.9"/><circle cx="141.76" cy="739.96" r="1.9"/><circle cx="145.85" cy="738.55" r="1.9"/><circle cx="148.28" cy="737.29" r="1.9"/><circle cx="141.51" cy="736.11" r="1.9"/><circle cx="146.53" cy="734.75" r="1.9"/><circle cx="143.93" cy="733.12" r="1.9"/><circle cx="145.38" cy="731.83" r="1.9"/><circle cx="141.64" cy="730.41" r="1.9"/><circle cx="142.48" cy="729.05" r="1.9"/></g>
<line x1="163.86" y1="730.92" x2="163.86" y2="728.17" stroke="#000" stroke-width="0.8"/>
<line x1="160.66" y1="728.17" x2="167.06" y2="728.17" stroke="#000" stroke-width="0.8"/>
<line x1="163.86" y1="730.92" x2="163.86" y2="733.67" stroke="#000" stroke-width="0.8"/>
<line x1="160.66" y1="733.67" x2="167.06" y2="733.67" stroke="#000" stroke-width="0.8"/>
<g fill="#000"><circle cx="164.87" cy="738.19" r="1.9"/><circle cx="165.71" cy="735.71" r="1.9"/><circle cx="162.85" cy="732.43" r="1.9"/><circle cx="164.44" cy="729.97" r="1.9"/><circle cx="164.12" cy="728.66" r="1.9"/><circle cx="164.03" cy="725.1" r="1.9"/><circle cx="165.91" cy="722.16" r="1.9"/><circle cx="161.48" cy="720.71" r="1.9"/></g>
<line x1="183.54" y1="679.16" x2="183.54" y2="676.42" stroke="#000" stroke-width="0.8"/>
<line x1="180.34" y1="676.42" x2="186.74" y2="676.42" stroke="#000" stroke-width="0.8"/>
<line x1="183.54" y1="679.16" x2="183.54" y2="681.91" stroke="#000" stroke-width="0.8"/>
<line x1="180.34" y1="681.91" x2="186.74" y2="681.91" stroke="#000" stroke-width="0.8"/>
<g fill="#000"><circle cx="183.16" cy="688.06" r="1.9"/><circle cx="185.58" cy="686.86" r="1.9"/><circle cx="179.87" cy="685.96" r="1.9"/><circle cx="180.25" cy="683.98" r="1.9"/><circle cx="186.93" cy="682.73" r="1.9"/><circle cx="180.22" cy="680.63" r="1.9"/><circle cx="181.13" cy="680.07" r="1.9"/><circle cx="179.41" cy="677.66" r="1.9"/><circle cx="180.12" cy="676.88" r="1.9"/><circle cx="183.74" cy="675.48" r="1.9"/><circle cx="183.74" cy="659.01" r="1.9"/></g>
<line x1="203.22" y1="703.67" x2="203.22" y2="701.38" stroke="#000" stroke-width="0.8"/>
<line x1="200.02" y1="701.38" x2="206.42" y2="701.38" stroke="#000" stroke-width="0.8"/>
<line x1="203.22" y1="703.67" x2="203.22" y2="705.96" stroke="#000" stroke-width="0.8"/>
<line x1="200.02" y1="705.96" x2="206.42" y2="705.96" stroke="#000" stroke-width="0.8"/>
<g fill="#000"><circle cx="206.46" cy="715.14" r="1.9"/><circle cx="200.85" cy="713.45" r="1.9"/><circle cx="205.08" cy="712.05" r="1.9"/><circle cx="199.02" cy="709.21" r="1.9"/><circle cx="206.66" cy="708.2" r="1.9"/><circle cx="204.57" cy="706.22" r="1.9"/><circle cx="204.49" cy="703.81" r="1.9"/><circle cx="203.93" cy="700.87" r="1.9"/><circle cx="201.67" cy="699.59" r="1.9"/><circle cx="204.34" cy="697.15" r="1.9"/><circle cx="202.93" cy="695.43" r="1.9"/><circle cx="201.12" cy="693.16" r="1.9"/><circle cx="203.82" cy="691.69" r="1.9"/></g>
<line x1="222.9" y1="703.67" x2="222.9" y2="699.55" stroke="#000" stroke-width="0.8"/>
<line x1="219.7" y1="699.55" x2="226.1" y2="699.55" stroke="#000" stroke-width="0.8"/>
<line x1="222.9" y1="703.67" x2="222.9" y2="707.79" stroke="#000" stroke-width="0.8"/>
<line x1="219.7" y1="707.79" x2="226.1" y2="707.79" stroke="#000" stroke-width="0.8"/>
<g fill="#000"><circle cx="221.59" cy="717.85" r="1.9"/><circle cx="226.83" cy="713.29" r="1.9"/><circle cx="225.23" cy="710.26" r="1.9"/><circle cx="219.97" cy="705.26" r="1.9"/><circle cx="225.09" cy="700.3" r="1.9"/><circle cx="224.29" cy="696.18" r="1.9"/><circle cx="220.02" cy="690.48" r="1.9"/></g>
<line x1="242.58" y1="704.81" x2="242.58" y2="702.75" stroke="#000" stroke-width="0.8"/>
<line x1="239.38" y1="702.75" x2="245.78" y2="702.75" stroke="#000" stroke-width="0.8"/>
<line x1="242.58" y1="704.81" x2="242.58" y2="706.87" stroke="#000" stroke-width="0.8"/>
<line x1="239.38" y1="706.87" x2="245.78" y2="706.87" stroke="#000" stroke-width="0.8"/>
<g fill="#000"><circle cx="246.07" cy="716.82" r="1.9"/><circle cx="246.43" cy="716.01" r="1.9"/><circle cx="238.72" cy="713" r="1.9"/><circle cx="245.23" cy="711.19" r="1.9"/><circle cx="246.68" cy="710.26" r="1.9"/><circle cx="242.15" cy="708.17" r="1.9"/><circle cx="244.23" cy="705.91" r="1.9"/><circle cx="240.65" cy="703.95" r="1.9"/><circle cx="239.43" cy="702.5" r="1.9"/><circle cx="242.5" cy="700.97" r="1.9"/></g>
<line x1="262.26" y1="712.6" x2="262.26" y2="709.85" stroke="#000" stroke-width="0.8"/>
<line x1="259.06" y1="709.85" x2="265.46" y2="709.85" stroke="#000" stroke-width="0.8"/>
<line x1="262.26" y1="712.6" x2="262.26" y2="715.35" stroke="#000" stroke-width="0.8"/>
<line x1="259.06" y1="715.35" x2="265.46" y2="715.35" stroke="#000" stroke-width="0.8"/>
<g fill="#000"><circle cx="262.97" cy="727.68" r="1.9"/><circle cx="263.63" cy="723.76" r="1.9"/><circle cx="260.6" cy="722.25" r="1.9"/><circle cx="266.6" cy="720.45" r="1.9"/><circle cx="260.09" cy="716.75" r="1.9"/><circle cx="264.08" cy="714.59" r="1.9"/><circle cx="260.35" cy="711.49" r="1.9"/><circle cx="259.54" cy="710.18" r="1.9"/><circle cx="265.93" cy="707.15" r="1.9"/><circle cx="259.12" cy="704.38" r="1.9"/><circle cx="258.58" cy="702.62" r="1.9"/><circle cx="262.2" cy="700.56" r="1.9"/></g>
<line x1="281.94" y1="712.14" x2="281.94" y2="709.85" stroke="#000" stroke-width="0.8"/>
<line x1="278.74" y1="709.85" x2="285.14" y2="709.85" stroke="#000" stroke-width="0.8"/>
<line x1="281.94" y1="712.14" x2="281.94" y2="714.43" stroke="#000" stroke-width="0.8"/>
<line x1="278.74" y1="714.43" x2="285.14" y2="714.43" stroke="#000" stroke-width="0.8"/>
<g fill="#000"><circle cx="284.69" cy="721.08" r="1.9"/><circle cx="280.94" cy="717.64" r="1.9"/><circle cx="279.29" cy="716.53" r="1.9"/><circle cx="279.46" cy="714.72" r="1.9"/><circle cx="285.02" cy="712.37" r="1.9"/><circle cx="279.24" cy="710.24" r="1.9"/><circle cx="285.57" cy="706.83" r="1.9"/><circle cx="280.4" cy="706.1" r="1.9"/></g>
<line x1="301.62" y1="740.76" x2="301.62" y2="739.16" stroke="#000" stroke-width="0.8"/>
<line x1="298.42" y1="739.16" x2="304.82" y2="739.16" stroke="#000" stroke-width="0.8"/>
<line x1="301.62" y1="740.76" x2="301.62" y2="742.37" stroke="#000" stroke-width="0.8"/>
<line x1="298.42" y1="742.37" x2="304.82" y2="742.37" stroke="#000" stroke-width="0.8"/>
<g fill="#000"><circle cx="301.27" cy="749.59" r="1.9"/><circle cx="298.15" cy="747.78" r="1.9"/><circle cx="305.59" cy="746.35" r="1.9"/><circle cx="301.78" cy="744.79" r="1.9"/><circle cx="301.19" cy="743.03" r="1.9"/><circle cx="304.57" cy="742.15" r="1.9"/><circle cx="305.01" cy="740.8" r="1.9"/><circle cx="302.04" cy="738.45" r="1.9"/><circle cx="297.84" cy="737.4" r="1.9"/><circle cx="303.99" cy="736.32" r="1.9"/></g>
<line x1="321.3" y1="728.17" x2="321.3" y2="727.02" stroke="#000" stroke-width="0.8"/>
<line x1="318.1" y1="727.02" x2="324.5" y2="727.02" stroke="#000" stroke-width="0.8"/>
<line x1="321.3" y1="728.17" x2="321.3" y2="729.32" stroke="#000" stroke-width="0.8"/>
<line x1="318.1" y1="729.32" x2="324.5" y2="729.32" stroke="#000" stroke-width="0.8"/>
<g fill="#000"><circle cx="320.33" cy="734.32" r="1.9"/><circle cx="319.11" cy="733.43" r="1.9"/><circle cx="319.33" cy="732.73" r="1.9"/><circle cx="317.6" cy="731.71" r="1.9"/><circle cx="319.7" cy="730.84" r="1.9"/><circle cx="324.05" cy="730.16" r="1.9"/><circle cx="318.26" cy="728.52" r="1.9"/><circle cx="321.55" cy="727.77" r="1.9"/><circle cx="322.08" cy="726.96" r="1.9"/><circle cx="319.37" cy="725.81" r="1.9"/><circle cx="321.36" cy="725.07" r="1.9"/><circle cx="325.05" cy="723.61" r="1.9"/><circle cx="320.93" cy="722.81" r="1.9"/></g>
<line x1="340.98" y1="729.77" x2="340.98" y2="727.94" stroke="#000" stroke-width="0.8"/>
<line x1="337.78" y1="727.94" x2="344.18" y2="727.94" stroke="#000" stroke-width="0.8"/>
<line x1="340.98" y1="729.77" x2="340.98" y2="731.61" stroke="#000" stroke-width="0.8"/>
<line x1="337.78" y1="731.61" x2="344.18" y2="731.61" stroke="#000" stroke-width="0.8"/>
<g fill="#000"><circle cx="338.48" cy="733.9" r="1.9"/><circle cx="340.93" cy="732.03" r="1.9"/><circle cx="342" cy="731.06" r="1.9"/><circle cx="338.31" cy="729.65" r="1.9"/><circle cx="338.63" cy="727.59" r="1.9"/><circle cx="340.25" cy="725.53" r="1.9"/><circle cx="339.05" cy="724.21" r="1.9"/><circle cx="342.86" cy="722.71" r="1.9"/></g>
<line x1="360.66" y1="751.99" x2="360.66" y2="749.7" stroke="#000" stroke-width="0.8"/>
<line x1="357.46" y1="749.7" x2="363.86" y2="749.7" stroke="#000" stroke-width="0.8"/>
<line x1="360.66" y1="751.99" x2="360.66" y2="754.28" stroke="#000" stroke-width="0.8"/>
<line x1="357.46" y1="754.28" x2="363.86" y2="754.28" stroke="#000" stroke-width="0.8"/>
<g fill="#000"><circle cx="362.1" cy="761.53" r="1.9"/><circle cx="362.4" cy="758.67" r="1.9"/><circle cx="362.85" cy="755.51" r="1.9"/><circle cx="358.23" cy="754.46" r="1.9"/><circle cx="359.7" cy="751.28" r="1.9"/><circle cx="362.65" cy="747.65" r="1.9"/><circle cx="359.37" cy="746.1" r="1.9"/><circle cx="361.55" cy="744.02" r="1.9"/></g>
<line x1="380.34" y1="725.65" x2="380.34" y2="721.53" stroke="#000" stroke-width="0.8"/>
<line x1="377.14" y1="721.53" x2="383.54" y2="721.53" stroke="#000" stroke-width="0.8"/>
<line x1="380.34" y1="725.65" x2="380.34" y2="729.77" stroke="#000" stroke-width="0.8"/>
<line x1="377.14" y1="729.77" x2="383.54" y2="729.77" stroke="#000" stroke-width="0.8"/>
<g fill="#000"><circle cx="383.54" cy="746.42" r="1.9"/><circle cx="376.15" cy="741.67" r="1.9"/><circle cx="378.07" cy="739.04" r="1.9"/><circle cx="383.42" cy="735.18" r="1.9"/><circle cx="381.2" cy="733.54" r="1.9"/><circle cx="378.44" cy="730.01" r="1.9"/><circle cx="379.42" cy="727.11" r="1.9"/><circle cx="384.27" cy="723.97" r="1.9"/><circle cx="376.32" cy="720.28" r="1.9"/><circle cx="384.41" cy="718.15" r="1.9"/><circle cx="381.27" cy="714.1" r="1.9"/><circle cx="381.94" cy="711.32" r="1.9"/><circle cx="380.84" cy="701.84" r="1.9"/><circle cx="383.84" cy="700.23" r="1.9"/></g>
<line x1="400.02" y1="731.83" x2="400.02" y2="728.4" stroke="#000" stroke-width="0.8"/>
<line x1="396.82" y1="728.4" x2="403.22" y2="728.4" stroke="#000" stroke-width="0.8"/>
<line x1="400.02" y1="731.83" x2="400.02" y2="735.27" stroke="#000" stroke-width="0.8"/>
<line x1="396.82" y1="735.27" x2="403.22" y2="735.27" stroke="#000" stroke-width="0.8"/>
<g fill="#000"><circle cx="396.52" cy="747.06" r="1.9"/><circle cx="397.79" cy="743.03" r="1.9"/><circle cx="397.01" cy="740.12" r="1.9"/><circle cx="401.54" cy="736.26" r="1.9"/><circle cx="396.22" cy="734.91" r="1.9"/><circle cx="403.48" cy="730.59" r="1.9"/><circle cx="396.59" cy="728.79" r="1.9"/><circle cx="403.45" cy="724.24" r="1.9"/><circle cx="399.52" cy="714.43" r="1.9"/></g>
<line x1="111.2" y1="629.7" x2="111.2" y2="767.75" stroke="#000" stroke-width="1.3"/>
<line x1="110.55" y1="767.1" x2="413.6" y2="767.1" stroke="#000" stroke-width="1.3"/>
<line x1="107.1" y1="767.1" x2="111.2" y2="767.1" stroke="#000" stroke-width="1.3"/>
<text font-size="10" font-weight="bold" text-anchor="end" fill="#000" transform="matrix(1.06 0 0 1 106.1 770.7)">0</text>
<line x1="107.1" y1="744.2" x2="111.2" y2="744.2" stroke="#000" stroke-width="1.3"/>
<text font-size="10" font-weight="bold" text-anchor="end" fill="#000" transform="matrix(1.06 0 0 1 106.1 747.8)">10</text>
<line x1="107.1" y1="721.3" x2="111.2" y2="721.3" stroke="#000" stroke-width="1.3"/>
<text font-size="10" font-weight="bold" text-anchor="end" fill="#000" transform="matrix(1.06 0 0 1 106.1 724.9)">20</text>
<line x1="107.1" y1="698.4" x2="111.2" y2="698.4" stroke="#000" stroke-width="1.3"/>
<text font-size="10" font-weight="bold" text-anchor="end" fill="#000" transform="matrix(1.06 0 0 1 106.1 702)">30</text>
<line x1="107.1" y1="675.5" x2="111.2" y2="675.5" stroke="#000" stroke-width="1.3"/>
<text font-size="10" font-weight="bold" text-anchor="end" fill="#000" transform="matrix(1.06 0 0 1 106.1 679.1)">40</text>
<line x1="107.1" y1="652.6" x2="111.2" y2="652.6" stroke="#000" stroke-width="1.3"/>
<text font-size="10" font-weight="bold" text-anchor="end" fill="#000" transform="matrix(1.06 0 0 1 106.1 656.2)">50</text>
<line x1="107.1" y1="629.7" x2="111.2" y2="629.7" stroke="#000" stroke-width="1.3"/>
<text font-size="10" font-weight="bold" text-anchor="end" fill="#000" transform="matrix(1.06 0 0 1 106.1 633.3)">60</text>
<line x1="124.5" y1="767.1" x2="124.5" y2="771.3" stroke="#000" stroke-width="1.3"/>
<line x1="144.18" y1="767.1" x2="144.18" y2="771.3" stroke="#000" stroke-width="1.3"/>
<line x1="163.86" y1="767.1" x2="163.86" y2="771.3" stroke="#000" stroke-width="1.3"/>
<line x1="183.54" y1="767.1" x2="183.54" y2="771.3" stroke="#000" stroke-width="1.3"/>
<line x1="203.22" y1="767.1" x2="203.22" y2="771.3" stroke="#000" stroke-width="1.3"/>
<line x1="222.9" y1="767.1" x2="222.9" y2="771.3" stroke="#000" stroke-width="1.3"/>
<line x1="242.58" y1="767.1" x2="242.58" y2="771.3" stroke="#000" stroke-width="1.3"/>
<line x1="262.26" y1="767.1" x2="262.26" y2="771.3" stroke="#000" stroke-width="1.3"/>
<line x1="281.94" y1="767.1" x2="281.94" y2="771.3" stroke="#000" stroke-width="1.3"/>
<line x1="301.62" y1="767.1" x2="301.62" y2="771.3" stroke="#000" stroke-width="1.3"/>
<line x1="321.3" y1="767.1" x2="321.3" y2="771.3" stroke="#000" stroke-width="1.3"/>
<line x1="340.98" y1="767.1" x2="340.98" y2="771.3" stroke="#000" stroke-width="1.3"/>
<line x1="360.66" y1="767.1" x2="360.66" y2="771.3" stroke="#000" stroke-width="1.3"/>
<line x1="380.34" y1="767.1" x2="380.34" y2="771.3" stroke="#000" stroke-width="1.3"/>
<line x1="400.02" y1="767.1" x2="400.02" y2="771.3" stroke="#000" stroke-width="1.3"/>
<line x1="173.6" y1="614.2" x2="173.6" y2="767.1" stroke="#555" stroke-width="0.9" stroke-dasharray="2.2 1.8"/>
<line x1="232.6" y1="614.2" x2="232.6" y2="767.1" stroke="#555" stroke-width="0.9" stroke-dasharray="2.2 1.8"/>
<line x1="291.9" y1="614.2" x2="291.9" y2="767.1" stroke="#555" stroke-width="0.9" stroke-dasharray="2.2 1.8"/>
<line x1="350.6" y1="614.2" x2="350.6" y2="767.1" stroke="#555" stroke-width="0.9" stroke-dasharray="2.2 1.8"/>
<text font-size="9.9" font-weight="bold" text-anchor="end" fill="#000" transform="translate(126.7 778.3) rotate(-45) scale(1 1.1)">&lt;=100</text>
<text font-size="9.9" font-weight="bold" text-anchor="end" fill="#000" transform="translate(146.38 778.3) rotate(-45) scale(1 1.1)">&lt;=100</text>
<text font-size="9.9" font-weight="bold" text-anchor="end" fill="#000" transform="translate(166.06 778.3) rotate(-45) scale(1 1.1)">&lt;=100</text>
<text font-size="9.9" font-weight="bold" text-anchor="end" fill="#000" transform="translate(185.74 778.3) rotate(-45) scale(1 1.1)">100_-250</text>
<text font-size="9.9" font-weight="bold" text-anchor="end" fill="#000" transform="translate(205.42 778.3) rotate(-45) scale(1 1.1)">100_-250</text>
<text font-size="9.9" font-weight="bold" text-anchor="end" fill="#000" transform="translate(225.1 778.3) rotate(-45) scale(1 1.1)">100_-250</text>
<text font-size="9.9" font-weight="bold" text-anchor="end" fill="#000" transform="translate(244.78 778.3) rotate(-45) scale(1 1.1)">250-400</text>
<text font-size="9.9" font-weight="bold" text-anchor="end" fill="#000" transform="translate(264.46 778.3) rotate(-45) scale(1 1.1)">250-400</text>
<text font-size="9.9" font-weight="bold" text-anchor="end" fill="#000" transform="translate(284.14 778.3) rotate(-45) scale(1 1.1)">250-400</text>
<text font-size="9.9" font-weight="bold" text-anchor="end" fill="#000" transform="translate(303.82 778.3) rotate(-45) scale(1 1.1)">400-550</text>
<text font-size="9.9" font-weight="bold" text-anchor="end" fill="#000" transform="translate(323.5 778.3) rotate(-45) scale(1 1.1)">400-550</text>
<text font-size="9.9" font-weight="bold" text-anchor="end" fill="#000" transform="translate(343.18 778.3) rotate(-45) scale(1 1.1)">400-550</text>
<text font-size="9.9" font-weight="bold" text-anchor="end" fill="#000" transform="translate(362.86 778.3) rotate(-45) scale(1 1.1)">&gt;550</text>
<text font-size="9.9" font-weight="bold" text-anchor="end" fill="#000" transform="translate(382.54 778.3) rotate(-45) scale(1 1.1)">&gt;550</text>
<text font-size="9.9" font-weight="bold" text-anchor="end" fill="#000" transform="translate(402.22 778.3) rotate(-45) scale(1 1.1)">&gt;550</text>
<path d="M124.5 722L124.5 648.7L142.5 648.7L142.5 724.5" stroke="#1a1a1a" stroke-width="1" fill="none" stroke-linejoin="miter"/>
<path d="M146 724.5L146 648.7L164 648.7L164 715.6" stroke="#1a1a1a" stroke-width="1" fill="none" stroke-linejoin="miter"/>
<text font-size="7.6" text-anchor="middle" fill="#111" transform="translate(128.9 641.5)">0.07</text>
<text font-size="7.6" text-anchor="middle" fill="#111" transform="translate(151.5 641.5)">0.08</text>
<path d="M183.5 654.4L183.5 649.2L203.1 649.2L203.1 684.7" stroke="#1a1a1a" stroke-width="1" fill="none" stroke-linejoin="miter"/>
<path d="M183.5 636.2L183.5 630.6L223 630.6L223 681.2" stroke="#1a1a1a" stroke-width="1" fill="none" stroke-linejoin="miter"/>
<path d="M188.4 640.8L188.4 646M186.15 642.1L190.65 644.7M190.65 642.1L186.15 644.7M193.4 640.8L193.4 646M191.15 642.1L195.65 644.7M195.65 642.1L191.15 644.7M198.4 640.8L198.4 646M196.15 642.1L200.65 644.7M200.65 642.1L196.15 644.7" stroke="#000" stroke-width="1.3" fill="none" stroke-linecap="butt"/>
<path d="M198.7 622.2L198.7 627.4M196.45 623.5L200.95 626.1M200.95 623.5L196.45 626.1M203.7 622.2L203.7 627.4M201.45 623.5L205.95 626.1M205.95 623.5L201.45 626.1M208.7 622.2L208.7 627.4M206.45 623.5L210.95 626.1M210.95 623.5L206.45 626.1" stroke="#000" stroke-width="1.3" fill="none" stroke-linecap="butt"/>
<path d="M301.4 636.5L301.4 630.2L341.6 630.2L341.6 644.4" stroke="#1a1a1a" stroke-width="1" fill="none" stroke-linejoin="miter"/>
<path d="M301.4 736.3L301.4 649.3L320.1 649.3L320.1 718" stroke="#1a1a1a" stroke-width="1" fill="none" stroke-linejoin="miter"/>
<path d="M323.4 718L323.4 649.3L341.6 649.3L341.6 718.7" stroke="#1a1a1a" stroke-width="1" fill="none" stroke-linejoin="miter"/>
<path d="M321.5 622L321.5 627.2M319.25 623.3L323.75 625.9M323.75 623.3L319.25 625.9" stroke="#000" stroke-width="1.3" fill="none" stroke-linecap="butt"/>
<path d="M308.6 640.1L308.6 645.3M306.35 641.4L310.85 644M310.85 641.4L306.35 644M313.6 640.1L313.6 645.3M311.35 641.4L315.85 644M315.85 641.4L311.35 644" stroke="#000" stroke-width="1.3" fill="none" stroke-linecap="butt"/>
<text font-size="7.6" text-anchor="start" fill="#111" transform="translate(319.1 644.4)">0.12</text>
<text font-size="6" text-anchor="start" fill="#555" transform="translate(336.4 644.4)">:</text>
<path d="M360.5 636.5L360.5 630.2L400.3 630.2L400.3 644.4" stroke="#1a1a1a" stroke-width="1" fill="none" stroke-linejoin="miter"/>
<path d="M360.5 742.4L360.5 649.3L379 649.3L379 695.6" stroke="#1a1a1a" stroke-width="1" fill="none" stroke-linejoin="miter"/>
<path d="M382 695.6L382 649.3L400.3 649.3L400.3 711.4" stroke="#1a1a1a" stroke-width="1" fill="none" stroke-linejoin="miter"/>
<path d="M375.3 622L375.3 627.2M373.05 623.3L377.55 625.9M377.55 623.3L373.05 625.9M380.3 622L380.3 627.2M378.05 623.3L382.55 625.9M382.55 623.3L378.05 625.9M385.3 622L385.3 627.2M383.05 623.3L387.55 625.9M387.55 623.3L383.05 625.9" stroke="#000" stroke-width="1.3" fill="none" stroke-linecap="butt"/>
<path d="M364.8 640.1L364.8 645.3M362.55 641.4L367.05 644M367.05 641.4L362.55 644M369.8 640.1L369.8 645.3M367.55 641.4L372.05 644M372.05 641.4L367.55 644M374.8 640.1L374.8 645.3M372.55 641.4L377.05 644M377.05 641.4L372.55 644" stroke="#000" stroke-width="1.3" fill="none" stroke-linecap="butt"/>
<text font-size="7.6" text-anchor="start" fill="#111" transform="translate(378.6 644.4)">0.11</text>
<circle cx="93.6" cy="602.8" r="8.4" fill="none" stroke="#000" stroke-width="1.9"/>
<line x1="99.54" y1="596.86" x2="105.18" y2="591.22" stroke="#000" stroke-width="1.9"/>
<path d="M105.78 590.62L100.56 591.12L105.28 595.84Z" stroke="#000" stroke-width="0.6" fill="#000"/>
<text font-size="11.15" font-weight="bold" text-anchor="middle" fill="#000" transform="translate(84 696.4) rotate(-90) scale(1 1.15)">% of size distribution</text>
<rect x="119.65" y="964.4" width="10.5" height="41.8" fill="#FF6666" stroke="#000" stroke-width="1.5"/>
<rect x="139.25" y="971.44" width="10.5" height="34.76" fill="#800000" stroke="#000" stroke-width="1.5"/>
<rect x="158.85" y="972.8" width="10.5" height="33.4" fill="#FF0000" stroke="#000" stroke-width="1.5"/>
<rect x="178.45" y="917.82" width="10.5" height="88.38" fill="#FF6666" stroke="#000" stroke-width="1.5"/>
<rect x="198.05" y="944.86" width="10.5" height="61.34" fill="#800000" stroke="#000" stroke-width="1.5"/>
<rect x="217.65" y="938.95" width="10.5" height="67.25" fill="#FF0000" stroke="#000" stroke-width="1.5"/>
<rect x="237.25" y="955.99" width="10.5" height="50.21" fill="#FF6666" stroke="#000" stroke-width="1.5"/>
<rect x="256.85" y="954.17" width="10.5" height="52.03" fill="#800000" stroke="#000" stroke-width="1.5"/>
<rect x="276.45" y="950.08" width="10.5" height="56.12" fill="#FF0000" stroke="#000" stroke-width="1.5"/>
<rect x="296.05" y="980.3" width="10.5" height="25.9" fill="#FF6666" stroke="#000" stroke-width="1.5"/>
<rect x="315.65" y="970.98" width="10.5" height="35.22" fill="#800000" stroke="#000" stroke-width="1.5"/>
<rect x="335.25" y="970.53" width="10.5" height="35.67" fill="#FF0000" stroke="#000" stroke-width="1.5"/>
<rect x="354.85" y="987.57" width="10.5" height="18.63" fill="#FF6666" stroke="#000" stroke-width="1.5"/>
<rect x="374.45" y="961.21" width="10.5" height="44.99" fill="#800000" stroke="#000" stroke-width="1.5"/>
<rect x="394.05" y="972.35" width="10.5" height="33.85" fill="#FF0000" stroke="#000" stroke-width="1.5"/>
<line x1="124.9" y1="964.4" x2="124.9" y2="960.08" stroke="#000" stroke-width="0.8"/>
<line x1="121.7" y1="960.08" x2="128.1" y2="960.08" stroke="#000" stroke-width="0.8"/>
<line x1="124.9" y1="964.4" x2="124.9" y2="968.71" stroke="#000" stroke-width="0.8"/>
<line x1="121.7" y1="968.71" x2="128.1" y2="968.71" stroke="#000" stroke-width="0.8"/>
<g fill="#000"><circle cx="122.41" cy="976.57" r="1.9"/><circle cx="121.9" cy="972.66" r="1.9"/><circle cx="122.94" cy="969.79" r="1.9"/><circle cx="124.4" cy="968.97" r="1.9"/><circle cx="120.84" cy="966.1" r="1.9"/><circle cx="124.56" cy="963.32" r="1.9"/><circle cx="127.86" cy="960.93" r="1.9"/><circle cx="126.59" cy="958.16" r="1.9"/><circle cx="124.6" cy="943.49" r="1.9"/></g>
<line x1="144.5" y1="971.44" x2="144.5" y2="969.62" stroke="#000" stroke-width="0.8"/>
<line x1="141.3" y1="969.62" x2="147.7" y2="969.62" stroke="#000" stroke-width="0.8"/>
<line x1="144.5" y1="971.44" x2="144.5" y2="973.26" stroke="#000" stroke-width="0.8"/>
<line x1="141.3" y1="973.26" x2="147.7" y2="973.26" stroke="#000" stroke-width="0.8"/>
<g fill="#000"><circle cx="143.04" cy="978.84" r="1.9"/><circle cx="142.68" cy="977.23" r="1.9"/><circle cx="146.13" cy="974.5" r="1.9"/><circle cx="146.63" cy="973.18" r="1.9"/><circle cx="147.56" cy="971.51" r="1.9"/><circle cx="141.47" cy="969.58" r="1.9"/><circle cx="144.3" cy="967.94" r="1.9"/><circle cx="142.11" cy="966.28" r="1.9"/><circle cx="141.89" cy="964.36" r="1.9"/><circle cx="142.31" cy="963.19" r="1.9"/></g>
<line x1="164.1" y1="972.8" x2="164.1" y2="970.76" stroke="#000" stroke-width="0.8"/>
<line x1="160.9" y1="970.76" x2="167.3" y2="970.76" stroke="#000" stroke-width="0.8"/>
<line x1="164.1" y1="972.8" x2="164.1" y2="974.85" stroke="#000" stroke-width="0.8"/>
<line x1="160.9" y1="974.85" x2="167.3" y2="974.85" stroke="#000" stroke-width="0.8"/>
<g fill="#000"><circle cx="165.32" cy="979.97" r="1.9"/><circle cx="161.56" cy="978.53" r="1.9"/><circle cx="168.04" cy="976.08" r="1.9"/><circle cx="167.05" cy="974.46" r="1.9"/><circle cx="164.33" cy="973.07" r="1.9"/><circle cx="164.05" cy="970.78" r="1.9"/><circle cx="167.09" cy="968.1" r="1.9"/><circle cx="167.2" cy="966.23" r="1.9"/><circle cx="160.98" cy="964.52" r="1.9"/></g>
<line x1="183.7" y1="917.82" x2="183.7" y2="910.55" stroke="#000" stroke-width="0.8"/>
<line x1="180.5" y1="910.55" x2="186.9" y2="910.55" stroke="#000" stroke-width="0.8"/>
<line x1="183.7" y1="917.82" x2="183.7" y2="925.09" stroke="#000" stroke-width="0.8"/>
<line x1="180.5" y1="925.09" x2="186.9" y2="925.09" stroke="#000" stroke-width="0.8"/>
<g fill="#000"><circle cx="186.57" cy="940.02" r="1.9"/><circle cx="181.29" cy="934.43" r="1.9"/><circle cx="184.49" cy="929.88" r="1.9"/><circle cx="184.64" cy="925.75" r="1.9"/><circle cx="186.01" cy="922.11" r="1.9"/><circle cx="180.31" cy="919.34" r="1.9"/><circle cx="180.49" cy="913.6" r="1.9"/><circle cx="187.83" cy="910.71" r="1.9"/><circle cx="183.9" cy="884.88" r="1.9"/></g>
<line x1="203.3" y1="944.86" x2="203.3" y2="941.45" stroke="#000" stroke-width="0.8"/>
<line x1="200.1" y1="941.45" x2="206.5" y2="941.45" stroke="#000" stroke-width="0.8"/>
<line x1="203.3" y1="944.86" x2="203.3" y2="948.26" stroke="#000" stroke-width="0.8"/>
<line x1="200.1" y1="948.26" x2="206.5" y2="948.26" stroke="#000" stroke-width="0.8"/>
<g fill="#000"><circle cx="199.82" cy="959.89" r="1.9"/><circle cx="200.21" cy="956.73" r="1.9"/><circle cx="201.89" cy="954.21" r="1.9"/><circle cx="200.43" cy="950.99" r="1.9"/><circle cx="199.71" cy="947.65" r="1.9"/><circle cx="204.76" cy="946.88" r="1.9"/><circle cx="206.34" cy="942.13" r="1.9"/><circle cx="200.37" cy="939.73" r="1.9"/><circle cx="201.57" cy="938.36" r="1.9"/><circle cx="200.53" cy="935.53" r="1.9"/><circle cx="202.27" cy="932.64" r="1.9"/><circle cx="205.88" cy="929.85" r="1.9"/></g>
<line x1="222.9" y1="938.95" x2="222.9" y2="935.54" stroke="#000" stroke-width="0.8"/>
<line x1="219.7" y1="935.54" x2="226.1" y2="935.54" stroke="#000" stroke-width="0.8"/>
<line x1="222.9" y1="938.95" x2="222.9" y2="942.36" stroke="#000" stroke-width="0.8"/>
<line x1="219.7" y1="942.36" x2="226.1" y2="942.36" stroke="#000" stroke-width="0.8"/>
<g fill="#000"><circle cx="224.79" cy="948.45" r="1.9"/><circle cx="222.87" cy="945.5" r="1.9"/><circle cx="220.59" cy="942.14" r="1.9"/><circle cx="223.05" cy="939.09" r="1.9"/><circle cx="224.9" cy="938.28" r="1.9"/><circle cx="226.87" cy="935.27" r="1.9"/><circle cx="220.41" cy="931.55" r="1.9"/><circle cx="221.4" cy="928.22" r="1.9"/><circle cx="218.75" cy="925.51" r="1.9"/><circle cx="223.96" cy="924.21" r="1.9"/></g>
<line x1="242.5" y1="955.99" x2="242.5" y2="952.58" stroke="#000" stroke-width="0.8"/>
<line x1="239.3" y1="952.58" x2="245.7" y2="952.58" stroke="#000" stroke-width="0.8"/>
<line x1="242.5" y1="955.99" x2="242.5" y2="959.4" stroke="#000" stroke-width="0.8"/>
<line x1="239.3" y1="959.4" x2="245.7" y2="959.4" stroke="#000" stroke-width="0.8"/>
<g fill="#000"><circle cx="240.86" cy="974.37" r="1.9"/><circle cx="245.37" cy="968.78" r="1.9"/><circle cx="246.47" cy="964.79" r="1.9"/><circle cx="240.48" cy="963.27" r="1.9"/><circle cx="243.76" cy="958.76" r="1.9"/><circle cx="244.53" cy="956.18" r="1.9"/><circle cx="244" cy="952.41" r="1.9"/><circle cx="240.86" cy="947.83" r="1.9"/><circle cx="244.05" cy="944.92" r="1.9"/></g>
<line x1="262.1" y1="954.17" x2="262.1" y2="951.44" stroke="#000" stroke-width="0.8"/>
<line x1="258.9" y1="951.44" x2="265.3" y2="951.44" stroke="#000" stroke-width="0.8"/>
<line x1="262.1" y1="954.17" x2="262.1" y2="956.9" stroke="#000" stroke-width="0.8"/>
<line x1="258.9" y1="956.9" x2="265.3" y2="956.9" stroke="#000" stroke-width="0.8"/>
<g fill="#000"><circle cx="263.52" cy="971.05" r="1.9"/><circle cx="259.76" cy="967.66" r="1.9"/><circle cx="263.56" cy="966.48" r="1.9"/><circle cx="263.74" cy="963.43" r="1.9"/><circle cx="258.4" cy="959.72" r="1.9"/><circle cx="259.42" cy="958.09" r="1.9"/><circle cx="265.73" cy="955.53" r="1.9"/><circle cx="261.21" cy="953.14" r="1.9"/><circle cx="259.16" cy="950.51" r="1.9"/><circle cx="258.26" cy="948.04" r="1.9"/><circle cx="263.69" cy="943.94" r="1.9"/><circle cx="264.28" cy="942.24" r="1.9"/></g>
<line x1="281.7" y1="950.08" x2="281.7" y2="948.26" stroke="#000" stroke-width="0.8"/>
<line x1="278.5" y1="948.26" x2="284.9" y2="948.26" stroke="#000" stroke-width="0.8"/>
<line x1="281.7" y1="950.08" x2="281.7" y2="951.9" stroke="#000" stroke-width="0.8"/>
<line x1="278.5" y1="951.9" x2="284.9" y2="951.9" stroke="#000" stroke-width="0.8"/>
<g fill="#000"><circle cx="284.06" cy="960.4" r="1.9"/><circle cx="284.2" cy="959.1" r="1.9"/><circle cx="282.25" cy="957.26" r="1.9"/><circle cx="279.66" cy="954.93" r="1.9"/><circle cx="285.63" cy="953.53" r="1.9"/><circle cx="280.39" cy="952" r="1.9"/><circle cx="285.87" cy="950.99" r="1.9"/><circle cx="284.73" cy="949.25" r="1.9"/><circle cx="278.77" cy="947.33" r="1.9"/><circle cx="280.67" cy="945.95" r="1.9"/></g>
<line x1="301.3" y1="980.3" x2="301.3" y2="976.89" stroke="#000" stroke-width="0.8"/>
<line x1="298.1" y1="976.89" x2="304.5" y2="976.89" stroke="#000" stroke-width="0.8"/>
<line x1="301.3" y1="980.3" x2="301.3" y2="983.71" stroke="#000" stroke-width="0.8"/>
<line x1="298.1" y1="983.71" x2="304.5" y2="983.71" stroke="#000" stroke-width="0.8"/>
<g fill="#000"><circle cx="297.3" cy="996.73" r="1.9"/><circle cx="299.5" cy="992.21" r="1.9"/><circle cx="298.63" cy="989.68" r="1.9"/><circle cx="303.09" cy="987.03" r="1.9"/><circle cx="299.79" cy="982.08" r="1.9"/><circle cx="297.67" cy="980.66" r="1.9"/><circle cx="299.79" cy="976.46" r="1.9"/><circle cx="298.23" cy="974.32" r="1.9"/><circle cx="301.6" cy="964.85" r="1.9"/></g>
<line x1="320.9" y1="970.98" x2="320.9" y2="969.85" stroke="#000" stroke-width="0.8"/>
<line x1="317.7" y1="969.85" x2="324.1" y2="969.85" stroke="#000" stroke-width="0.8"/>
<line x1="320.9" y1="970.98" x2="320.9" y2="972.12" stroke="#000" stroke-width="0.8"/>
<line x1="317.7" y1="972.12" x2="324.1" y2="972.12" stroke="#000" stroke-width="0.8"/>
<g fill="#000"><circle cx="322.42" cy="978.55" r="1.9"/><circle cx="320.1" cy="976.96" r="1.9"/><circle cx="316.87" cy="976.27" r="1.9"/><circle cx="317.04" cy="974.9" r="1.9"/><circle cx="321.24" cy="973.8" r="1.9"/><circle cx="323.83" cy="972.2" r="1.9"/><circle cx="317.34" cy="971.31" r="1.9"/><circle cx="320.16" cy="970.06" r="1.9"/><circle cx="323.22" cy="968.8" r="1.9"/><circle cx="325.09" cy="967.11" r="1.9"/></g>
<line x1="340.5" y1="970.53" x2="340.5" y2="968.71" stroke="#000" stroke-width="0.8"/>
<line x1="337.3" y1="968.71" x2="343.7" y2="968.71" stroke="#000" stroke-width="0.8"/>
<line x1="340.5" y1="970.53" x2="340.5" y2="972.35" stroke="#000" stroke-width="0.8"/>
<line x1="337.3" y1="972.35" x2="343.7" y2="972.35" stroke="#000" stroke-width="0.8"/>
<g fill="#000"><circle cx="342.52" cy="978.08" r="1.9"/><circle cx="343.72" cy="977.01" r="1.9"/><circle cx="341.78" cy="974.19" r="1.9"/><circle cx="339.18" cy="971.98" r="1.9"/><circle cx="341.99" cy="970.15" r="1.9"/><circle cx="342.25" cy="969.27" r="1.9"/><circle cx="343.18" cy="966.67" r="1.9"/><circle cx="341.85" cy="964.42" r="1.9"/><circle cx="344.1" cy="962.87" r="1.9"/></g>
<line x1="360.1" y1="987.57" x2="360.1" y2="984.16" stroke="#000" stroke-width="0.8"/>
<line x1="356.9" y1="984.16" x2="363.3" y2="984.16" stroke="#000" stroke-width="0.8"/>
<line x1="360.1" y1="987.57" x2="360.1" y2="990.98" stroke="#000" stroke-width="0.8"/>
<line x1="356.9" y1="990.98" x2="363.3" y2="990.98" stroke="#000" stroke-width="0.8"/>
<g fill="#000"><circle cx="364.15" cy="1001.85" r="1.9"/><circle cx="356.4" cy="998.13" r="1.9"/><circle cx="357.21" cy="995.5" r="1.9"/><circle cx="362.83" cy="993.74" r="1.9"/><circle cx="360.28" cy="988.51" r="1.9"/><circle cx="357.04" cy="986.36" r="1.9"/><circle cx="358.32" cy="984.68" r="1.9"/><circle cx="362.41" cy="981.75" r="1.9"/><circle cx="360.4" cy="969.85" r="1.9"/></g>
<line x1="379.7" y1="961.21" x2="379.7" y2="956.22" stroke="#000" stroke-width="0.8"/>
<line x1="376.5" y1="956.22" x2="382.9" y2="956.22" stroke="#000" stroke-width="0.8"/>
<line x1="379.7" y1="961.21" x2="379.7" y2="966.21" stroke="#000" stroke-width="0.8"/>
<line x1="376.5" y1="966.21" x2="382.9" y2="966.21" stroke="#000" stroke-width="0.8"/>
<g fill="#000"><circle cx="377.35" cy="992.08" r="1.9"/><circle cx="379" cy="988.53" r="1.9"/><circle cx="378.1" cy="982.99" r="1.9"/><circle cx="379.88" cy="979.54" r="1.9"/><circle cx="378.33" cy="975.97" r="1.9"/><circle cx="379.41" cy="970.94" r="1.9"/><circle cx="382.27" cy="966.18" r="1.9"/><circle cx="380.36" cy="962.57" r="1.9"/><circle cx="381.9" cy="959.82" r="1.9"/><circle cx="378.14" cy="954.45" r="1.9"/><circle cx="379.27" cy="952.15" r="1.9"/><circle cx="378.43" cy="947.75" r="1.9"/><circle cx="380" cy="933.95" r="1.9"/></g>
<line x1="399.3" y1="972.35" x2="399.3" y2="969.85" stroke="#000" stroke-width="0.8"/>
<line x1="396.1" y1="969.85" x2="402.5" y2="969.85" stroke="#000" stroke-width="0.8"/>
<line x1="399.3" y1="972.35" x2="399.3" y2="974.85" stroke="#000" stroke-width="0.8"/>
<line x1="396.1" y1="974.85" x2="402.5" y2="974.85" stroke="#000" stroke-width="0.8"/>
<g fill="#000"><circle cx="398.08" cy="982.33" r="1.9"/><circle cx="399.63" cy="980.04" r="1.9"/><circle cx="396.95" cy="976.95" r="1.9"/><circle cx="396.85" cy="975.05" r="1.9"/><circle cx="402.84" cy="970.34" r="1.9"/><circle cx="397.39" cy="968.09" r="1.9"/><circle cx="401.87" cy="965.6" r="1.9"/><circle cx="395.52" cy="962.28" r="1.9"/><circle cx="401.92" cy="959.07" r="1.9"/></g>
<line x1="111.4" y1="869.88" x2="111.4" y2="1006.85" stroke="#000" stroke-width="1.3"/>
<line x1="110.75" y1="1006.2" x2="412.2" y2="1006.2" stroke="#000" stroke-width="1.3"/>
<line x1="107.3" y1="1006.2" x2="111.4" y2="1006.2" stroke="#000" stroke-width="1.3"/>
<text font-size="10" font-weight="bold" text-anchor="end" fill="#000" transform="matrix(1.06 0 0 1 106.3 1009.8)">0</text>
<line x1="107.3" y1="983.48" x2="111.4" y2="983.48" stroke="#000" stroke-width="1.3"/>
<text font-size="10" font-weight="bold" text-anchor="end" fill="#000" transform="matrix(1.06 0 0 1 106.3 987.08)">10</text>
<line x1="107.3" y1="960.76" x2="111.4" y2="960.76" stroke="#000" stroke-width="1.3"/>
<text font-size="10" font-weight="bold" text-anchor="end" fill="#000" transform="matrix(1.06 0 0 1 106.3 964.36)">20</text>
<line x1="107.3" y1="938.04" x2="111.4" y2="938.04" stroke="#000" stroke-width="1.3"/>
<text font-size="10" font-weight="bold" text-anchor="end" fill="#000" transform="matrix(1.06 0 0 1 106.3 941.64)">30</text>
<line x1="107.3" y1="915.32" x2="111.4" y2="915.32" stroke="#000" stroke-width="1.3"/>
<text font-size="10" font-weight="bold" text-anchor="end" fill="#000" transform="matrix(1.06 0 0 1 106.3 918.92)">40</text>
<line x1="107.3" y1="892.6" x2="111.4" y2="892.6" stroke="#000" stroke-width="1.3"/>
<text font-size="10" font-weight="bold" text-anchor="end" fill="#000" transform="matrix(1.06 0 0 1 106.3 896.2)">50</text>
<line x1="107.3" y1="869.88" x2="111.4" y2="869.88" stroke="#000" stroke-width="1.3"/>
<text font-size="10" font-weight="bold" text-anchor="end" fill="#000" transform="matrix(1.06 0 0 1 106.3 873.48)">60</text>
<line x1="124.9" y1="1006.2" x2="124.9" y2="1010.4" stroke="#000" stroke-width="1.3"/>
<line x1="144.5" y1="1006.2" x2="144.5" y2="1010.4" stroke="#000" stroke-width="1.3"/>
<line x1="164.1" y1="1006.2" x2="164.1" y2="1010.4" stroke="#000" stroke-width="1.3"/>
<line x1="183.7" y1="1006.2" x2="183.7" y2="1010.4" stroke="#000" stroke-width="1.3"/>
<line x1="203.3" y1="1006.2" x2="203.3" y2="1010.4" stroke="#000" stroke-width="1.3"/>
<line x1="222.9" y1="1006.2" x2="222.9" y2="1010.4" stroke="#000" stroke-width="1.3"/>
<line x1="242.5" y1="1006.2" x2="242.5" y2="1010.4" stroke="#000" stroke-width="1.3"/>
<line x1="262.1" y1="1006.2" x2="262.1" y2="1010.4" stroke="#000" stroke-width="1.3"/>
<line x1="281.7" y1="1006.2" x2="281.7" y2="1010.4" stroke="#000" stroke-width="1.3"/>
<line x1="301.3" y1="1006.2" x2="301.3" y2="1010.4" stroke="#000" stroke-width="1.3"/>
<line x1="320.9" y1="1006.2" x2="320.9" y2="1010.4" stroke="#000" stroke-width="1.3"/>
<line x1="340.5" y1="1006.2" x2="340.5" y2="1010.4" stroke="#000" stroke-width="1.3"/>
<line x1="360.1" y1="1006.2" x2="360.1" y2="1010.4" stroke="#000" stroke-width="1.3"/>
<line x1="379.7" y1="1006.2" x2="379.7" y2="1010.4" stroke="#000" stroke-width="1.3"/>
<line x1="399.3" y1="1006.2" x2="399.3" y2="1010.4" stroke="#000" stroke-width="1.3"/>
<line x1="172.6" y1="853" x2="172.6" y2="1006.2" stroke="#555" stroke-width="0.9" stroke-dasharray="2.2 1.8"/>
<line x1="231.5" y1="853" x2="231.5" y2="1006.2" stroke="#555" stroke-width="0.9" stroke-dasharray="2.2 1.8"/>
<line x1="290.4" y1="853" x2="290.4" y2="1006.2" stroke="#555" stroke-width="0.9" stroke-dasharray="2.2 1.8"/>
<line x1="349.6" y1="853" x2="349.6" y2="1006.2" stroke="#555" stroke-width="0.9" stroke-dasharray="2.2 1.8"/>
<text font-size="9.9" font-weight="bold" text-anchor="end" fill="#000" transform="translate(127.1 1017.5) rotate(-45) scale(1 1.1)">&lt;=100</text>
<text font-size="9.9" font-weight="bold" text-anchor="end" fill="#000" transform="translate(146.7 1017.5) rotate(-45) scale(1 1.1)">&lt;=100</text>
<text font-size="9.9" font-weight="bold" text-anchor="end" fill="#000" transform="translate(166.3 1017.5) rotate(-45) scale(1 1.1)">&lt;=100</text>
<text font-size="9.9" font-weight="bold" text-anchor="end" fill="#000" transform="translate(185.9 1017.5) rotate(-45) scale(1 1.1)">100_-250</text>
<text font-size="9.9" font-weight="bold" text-anchor="end" fill="#000" transform="translate(205.5 1017.5) rotate(-45) scale(1 1.1)">100_-250</text>
<text font-size="9.9" font-weight="bold" text-anchor="end" fill="#000" transform="translate(225.1 1017.5) rotate(-45) scale(1 1.1)">100_-250</text>
<text font-size="9.9" font-weight="bold" text-anchor="end" fill="#000" transform="translate(244.7 1017.5) rotate(-45) scale(1 1.1)">250-400</text>
<text font-size="9.9" font-weight="bold" text-anchor="end" fill="#000" transform="translate(264.3 1017.5) rotate(-45) scale(1 1.1)">250-400</text>
<text font-size="9.9" font-weight="bold" text-anchor="end" fill="#000" transform="translate(283.9 1017.5) rotate(-45) scale(1 1.1)">250-400</text>
<text font-size="9.9" font-weight="bold" text-anchor="end" fill="#000" transform="translate(303.5 1017.5) rotate(-45) scale(1 1.1)">400-550</text>
<text font-size="9.9" font-weight="bold" text-anchor="end" fill="#000" transform="translate(323.1 1017.5) rotate(-45) scale(1 1.1)">400-550</text>
<text font-size="9.9" font-weight="bold" text-anchor="end" fill="#000" transform="translate(342.7 1017.5) rotate(-45) scale(1 1.1)">400-550</text>
<text font-size="9.9" font-weight="bold" text-anchor="end" fill="#000" transform="translate(362.3 1017.5) rotate(-45) scale(1 1.1)">&gt;550</text>
<text font-size="9.9" font-weight="bold" text-anchor="end" fill="#000" transform="translate(381.9 1017.5) rotate(-45) scale(1 1.1)">&gt;550</text>
<text font-size="9.9" font-weight="bold" text-anchor="end" fill="#000" transform="translate(401.5 1017.5) rotate(-45) scale(1 1.1)">&gt;550</text>
<path d="M124.6 869.2L124.6 855.5L163.5 855.5L163.5 961.7" stroke="#1a1a1a" stroke-width="1" fill="none" stroke-linejoin="miter"/>
<path d="M124.6 940.7L124.6 874.5L144.2 874.5L144.2 960" stroke="#1a1a1a" stroke-width="1" fill="none" stroke-linejoin="miter"/>
<text font-size="7.6" text-anchor="middle" fill="#111" transform="translate(142.9 849.8)">0.10</text>
<text font-size="7.6" text-anchor="middle" fill="#111" transform="translate(131.2 868.2)">0.10</text>
<path d="M183.4 863.1L183.4 855.5L222.9 855.5L222.9 910.9" stroke="#1a1a1a" stroke-width="1" fill="none" stroke-linejoin="miter"/>
<path d="M183.4 879.6L183.4 874.5L203 874.5L203 922.3" stroke="#1a1a1a" stroke-width="1" fill="none" stroke-linejoin="miter"/>
<path d="M198.2 847.3L198.2 852.5M195.95 848.6L200.45 851.2M200.45 848.6L195.95 851.2M203.2 847.3L203.2 852.5M200.95 848.6L205.45 851.2M205.45 848.6L200.95 851.2M208.2 847.3L208.2 852.5M205.95 848.6L210.45 851.2M210.45 848.6L205.95 851.2" stroke="#000" stroke-width="1.3" fill="none" stroke-linecap="butt"/>
<path d="M188.5 866.3L188.5 871.5M186.25 867.6L190.75 870.2M190.75 867.6L186.25 870.2M193.5 866.3L193.5 871.5M191.25 867.6L195.75 870.2M195.75 867.6L191.25 870.2M198.5 866.3L198.5 871.5M196.25 867.6L200.75 870.2M200.75 867.6L196.25 870.2" stroke="#000" stroke-width="1.3" fill="none" stroke-linecap="butt"/>
<path d="M301.6 873.6L301.6 855.4L340.9 855.4L340.9 959.4" stroke="#1a1a1a" stroke-width="1" fill="none" stroke-linejoin="miter"/>
<path d="M301.6 964.7L301.6 874.3L320.9 874.3L320.9 964.7" stroke="#1a1a1a" stroke-width="1" fill="none" stroke-linejoin="miter"/>
<text font-size="7.6" text-anchor="middle" fill="#111" transform="translate(319.1 847.3)">0.05</text>
<text font-size="7.6" text-anchor="middle" fill="#111" transform="translate(307.2 869)">0.06</text>
<path d="M360.1 864.8L360.1 855.4L399.7 855.4L399.7 870" stroke="#1a1a1a" stroke-width="1" fill="none" stroke-linejoin="miter"/>
<path d="M360.1 968.2L360.1 874.3L377.6 874.3L377.6 929.6" stroke="#1a1a1a" stroke-width="1" fill="none" stroke-linejoin="miter"/>
<path d="M381.1 929.6L381.1 874.3L399.7 874.3L399.7 957.7" stroke="#1a1a1a" stroke-width="1" fill="none" stroke-linejoin="miter"/>
<path d="M377.1 847.7L377.1 852.9M374.85 849L379.35 851.6M379.35 849L374.85 851.6M382.1 847.7L382.1 852.9M379.85 849L384.35 851.6M384.35 849L379.85 851.6" stroke="#000" stroke-width="1.3" fill="none" stroke-linecap="butt"/>
<path d="M364 866.2L364 871.4M361.75 867.5L366.25 870.1M366.25 867.5L361.75 870.1M369 866.2L369 871.4M366.75 867.5L371.25 870.1M371.25 867.5L366.75 870.1M374 866.2L374 871.4M371.75 867.5L376.25 870.1M376.25 867.5L371.75 870.1" stroke="#000" stroke-width="1.3" fill="none" stroke-linecap="butt"/>
<path d="M390.1 866.2L390.1 871.4M387.85 867.5L392.35 870.1M392.35 867.5L387.85 870.1" stroke="#000" stroke-width="1.3" fill="none" stroke-linecap="butt"/>
<circle cx="96.2" cy="830.4" r="8.2" fill="none" stroke="#000" stroke-width="1.9"/>
<line x1="96.2" y1="838.6" x2="96.2" y2="847.4" stroke="#000" stroke-width="1.9"/>
<line x1="92.6" y1="843.44" x2="99.8" y2="843.44" stroke="#000" stroke-width="1.9"/>
<text font-size="11.15" font-weight="bold" text-anchor="middle" fill="#000" transform="translate(89 935.7) rotate(-90) scale(1 1.15)">% of size distribution</text>
<rect x="544.6" y="708.19" width="14.8" height="61.41" fill="#66CCFF" stroke="#000" stroke-width="1.6"/>
<rect x="570.9" y="688.89" width="14.8" height="80.71" fill="#0B3D7C" stroke="#000" stroke-width="1.6"/>
<rect x="597.6" y="694.94" width="14.8" height="74.66" fill="#157F7B" stroke="#000" stroke-width="1.6"/>
<line x1="552" y1="708.19" x2="552" y2="706.8" stroke="#000" stroke-width="1"/>
<line x1="547.8" y1="706.8" x2="556.2" y2="706.8" stroke="#000" stroke-width="1"/>
<line x1="552" y1="708.19" x2="552" y2="709.59" stroke="#000" stroke-width="1"/>
<line x1="547.8" y1="709.59" x2="556.2" y2="709.59" stroke="#000" stroke-width="1"/>
<g fill="#000"><circle cx="555.59" cy="713.41" r="2.7"/><circle cx="551.51" cy="712.15" r="2.7"/><circle cx="554.02" cy="711.23" r="2.7"/><circle cx="557.65" cy="710.05" r="2.7"/><circle cx="557.54" cy="708.9" r="2.7"/><circle cx="551.36" cy="707.87" r="2.7"/><circle cx="557.41" cy="706.28" r="2.7"/><circle cx="549.72" cy="704.85" r="2.7"/><circle cx="556.29" cy="703.88" r="2.7"/><circle cx="555.81" cy="703.15" r="2.7"/><circle cx="550" cy="700.75" r="2.7"/></g>
<line x1="578.3" y1="688.89" x2="578.3" y2="687.03" stroke="#000" stroke-width="1"/>
<line x1="574.1" y1="687.03" x2="582.5" y2="687.03" stroke="#000" stroke-width="1"/>
<line x1="578.3" y1="688.89" x2="578.3" y2="690.75" stroke="#000" stroke-width="1"/>
<line x1="574.1" y1="690.75" x2="582.5" y2="690.75" stroke="#000" stroke-width="1"/>
<g fill="#000"><circle cx="578.81" cy="698.86" r="2.7"/><circle cx="577.97" cy="698.03" r="2.7"/><circle cx="572.29" cy="697.15" r="2.7"/><circle cx="578.35" cy="695.7" r="2.7"/><circle cx="576.21" cy="694.09" r="2.7"/><circle cx="573.27" cy="692.65" r="2.7"/><circle cx="572.17" cy="691.72" r="2.7"/><circle cx="573.46" cy="690.92" r="2.7"/><circle cx="580.63" cy="688.93" r="2.7"/><circle cx="583.01" cy="688.11" r="2.7"/><circle cx="576.7" cy="686.47" r="2.7"/><circle cx="575.57" cy="685.32" r="2.7"/><circle cx="582.57" cy="684.23" r="2.7"/><circle cx="580.33" cy="683.32" r="2.7"/><circle cx="572.95" cy="681.73" r="2.7"/><circle cx="580.8" cy="674.7" r="2.7"/><circle cx="574.3" cy="676.56" r="2.7"/></g>
<line x1="605" y1="694.94" x2="605" y2="692.14" stroke="#000" stroke-width="1"/>
<line x1="600.8" y1="692.14" x2="609.2" y2="692.14" stroke="#000" stroke-width="1"/>
<line x1="605" y1="694.94" x2="605" y2="697.73" stroke="#000" stroke-width="1"/>
<line x1="600.8" y1="697.73" x2="609.2" y2="697.73" stroke="#000" stroke-width="1"/>
<g fill="#000"><circle cx="611.09" cy="705.58" r="2.7"/><circle cx="611.43" cy="702.95" r="2.7"/><circle cx="601.86" cy="699.22" r="2.7"/><circle cx="603.68" cy="697.7" r="2.7"/><circle cx="608.77" cy="695.57" r="2.7"/><circle cx="601.84" cy="692.46" r="2.7"/><circle cx="607.42" cy="690.67" r="2.7"/><circle cx="600.08" cy="688.25" r="2.7"/><circle cx="611" cy="683.07" r="2.7"/></g>
<line x1="534.2" y1="653.3" x2="534.2" y2="770.25" stroke="#000" stroke-width="1.3"/>
<line x1="533.55" y1="769.6" x2="622" y2="769.6" stroke="#000" stroke-width="1.3"/>
<line x1="529.6" y1="769.6" x2="534.2" y2="769.6" stroke="#000" stroke-width="1.3"/>
<text font-size="8.3" font-weight="bold" text-anchor="end" fill="#000" transform="matrix(1.12 0 0 1 527.8 772.59)">0</text>
<line x1="529.6" y1="746.34" x2="534.2" y2="746.34" stroke="#000" stroke-width="1.3"/>
<text font-size="8.3" font-weight="bold" text-anchor="end" fill="#000" transform="matrix(1.12 0 0 1 527.8 749.33)">100</text>
<line x1="529.6" y1="723.08" x2="534.2" y2="723.08" stroke="#000" stroke-width="1.3"/>
<text font-size="8.3" font-weight="bold" text-anchor="end" fill="#000" transform="matrix(1.12 0 0 1 527.8 726.07)">200</text>
<line x1="529.6" y1="699.82" x2="534.2" y2="699.82" stroke="#000" stroke-width="1.3"/>
<text font-size="8.3" font-weight="bold" text-anchor="end" fill="#000" transform="matrix(1.12 0 0 1 527.8 702.81)">300</text>
<line x1="529.6" y1="676.56" x2="534.2" y2="676.56" stroke="#000" stroke-width="1.3"/>
<text font-size="8.3" font-weight="bold" text-anchor="end" fill="#000" transform="matrix(1.12 0 0 1 527.8 679.55)">400</text>
<line x1="529.6" y1="653.3" x2="534.2" y2="653.3" stroke="#000" stroke-width="1.3"/>
<text font-size="8.3" font-weight="bold" text-anchor="end" fill="#000" transform="matrix(1.12 0 0 1 527.8 656.29)">500</text>
<line x1="552" y1="769.6" x2="552" y2="774.2" stroke="#000" stroke-width="1.3"/>
<line x1="578.3" y1="769.6" x2="578.3" y2="774.2" stroke="#000" stroke-width="1.3"/>
<line x1="605" y1="769.6" x2="605" y2="774.2" stroke="#000" stroke-width="1.3"/>
<path d="M551.2 644.4L551.2 635.3L604.4 635.3L604.4 654.5" stroke="#000" stroke-width="1.2" fill="none" stroke-linejoin="miter"/>
<path d="M551.2 693.8L551.2 660.5L576.3 660.5L576.3 668.1" stroke="#000" stroke-width="1.2" fill="none" stroke-linejoin="miter"/>
<path d="M580.1 668.1L580.1 660.5L604.4 660.5L604.4 676.7" stroke="#000" stroke-width="1.2" fill="none" stroke-linejoin="miter"/>
<path d="M574.7 624.2L574.7 630.8M571.84 625.85L577.56 629.15M577.56 625.85L571.84 629.15M581.9 624.2L581.9 630.8M579.04 625.85L584.76 629.15M584.76 625.85L579.04 629.15" stroke="#000" stroke-width="1.7" fill="none" stroke-linecap="butt"/>
<path d="M556.7 649.7L556.7 656.3M553.84 651.35L559.56 654.65M559.56 651.35L553.84 654.65M563.9 649.7L563.9 656.3M561.04 651.35L566.76 654.65M566.76 651.35L561.04 654.65M571.1 649.7L571.1 656.3M568.24 651.35L573.96 654.65M573.96 651.35L568.24 654.65" stroke="#000" stroke-width="1.7" fill="none" stroke-linecap="butt"/>
<text font-size="8.4" text-anchor="start" fill="#222" transform="translate(578.8 653)">0.06</text>
<text font-size="11.08" font-weight="bold" text-anchor="middle" fill="#000" transform="translate(494.6 712.7) rotate(-90) scale(1 1.15)">Cross sectional – Mean (µm2)</text>
<rect x="545.6" y="945.58" width="15.6" height="59.12" fill="#FF6666" stroke="#000" stroke-width="1.6"/>
<rect x="573.3" y="926.47" width="15.6" height="78.23" fill="#800000" stroke="#000" stroke-width="1.6"/>
<rect x="600.5" y="930.8" width="15.6" height="73.9" fill="#FF0000" stroke="#000" stroke-width="1.6"/>
<line x1="553.4" y1="945.58" x2="553.4" y2="941.48" stroke="#000" stroke-width="1"/>
<line x1="549.2" y1="941.48" x2="557.6" y2="941.48" stroke="#000" stroke-width="1"/>
<line x1="553.4" y1="945.58" x2="553.4" y2="949.67" stroke="#000" stroke-width="1"/>
<line x1="549.2" y1="949.67" x2="557.6" y2="949.67" stroke="#000" stroke-width="1"/>
<g fill="#000"><circle cx="552.53" cy="959.17" r="2.7"/><circle cx="556.94" cy="955.41" r="2.7"/><circle cx="552.11" cy="952.49" r="2.7"/><circle cx="549.65" cy="949.13" r="2.7"/><circle cx="555.43" cy="946.53" r="2.7"/><circle cx="558.72" cy="944.99" r="2.7"/><circle cx="548.29" cy="940.84" r="2.7"/><circle cx="555.52" cy="937.66" r="2.7"/><circle cx="550.4" cy="932.39" r="2.7"/><circle cx="557.4" cy="931.25" r="2.7"/></g>
<line x1="581.1" y1="926.47" x2="581.1" y2="923.75" stroke="#000" stroke-width="1"/>
<line x1="576.9" y1="923.75" x2="585.3" y2="923.75" stroke="#000" stroke-width="1"/>
<line x1="581.1" y1="926.47" x2="581.1" y2="929.2" stroke="#000" stroke-width="1"/>
<line x1="576.9" y1="929.2" x2="585.3" y2="929.2" stroke="#000" stroke-width="1"/>
<g fill="#000"><circle cx="575.46" cy="940.74" r="2.7"/><circle cx="579.78" cy="938.88" r="2.7"/><circle cx="579.83" cy="936.87" r="2.7"/><circle cx="583.65" cy="934.95" r="2.7"/><circle cx="576.5" cy="932.02" r="2.7"/><circle cx="582.82" cy="929.98" r="2.7"/><circle cx="583.8" cy="928.31" r="2.7"/><circle cx="583.77" cy="925.65" r="2.7"/><circle cx="585.64" cy="923.96" r="2.7"/><circle cx="580.78" cy="921.29" r="2.7"/><circle cx="578.2" cy="920.2" r="2.7"/><circle cx="586.1" cy="912.38" r="2.7"/><circle cx="576.1" cy="915.56" r="2.7"/></g>
<line x1="608.3" y1="930.8" x2="608.3" y2="928.98" stroke="#000" stroke-width="1"/>
<line x1="604.1" y1="928.98" x2="612.5" y2="928.98" stroke="#000" stroke-width="1"/>
<line x1="608.3" y1="930.8" x2="608.3" y2="932.61" stroke="#000" stroke-width="1"/>
<line x1="604.1" y1="932.61" x2="612.5" y2="932.61" stroke="#000" stroke-width="1"/>
<g fill="#000"><circle cx="606.09" cy="941.85" r="2.7"/><circle cx="613.87" cy="939.57" r="2.7"/><circle cx="611.56" cy="937.72" r="2.7"/><circle cx="615.14" cy="936.78" r="2.7"/><circle cx="613.1" cy="934.68" r="2.7"/><circle cx="613.83" cy="933.26" r="2.7"/><circle cx="611.02" cy="932.11" r="2.7"/><circle cx="610.45" cy="929.79" r="2.7"/><circle cx="614.1" cy="928.31" r="2.7"/><circle cx="603.52" cy="927.65" r="2.7"/><circle cx="606.3" cy="923.97" r="2.7"/></g>
<line x1="535.6" y1="891" x2="535.6" y2="1005.35" stroke="#000" stroke-width="1.3"/>
<line x1="534.95" y1="1004.7" x2="626.9" y2="1004.7" stroke="#000" stroke-width="1.3"/>
<line x1="531" y1="1004.7" x2="535.6" y2="1004.7" stroke="#000" stroke-width="1.3"/>
<text font-size="8.3" font-weight="bold" text-anchor="end" fill="#000" transform="matrix(1.12 0 0 1 529.2 1007.69)">0</text>
<line x1="531" y1="981.96" x2="535.6" y2="981.96" stroke="#000" stroke-width="1.3"/>
<text font-size="8.3" font-weight="bold" text-anchor="end" fill="#000" transform="matrix(1.12 0 0 1 529.2 984.95)">100</text>
<line x1="531" y1="959.22" x2="535.6" y2="959.22" stroke="#000" stroke-width="1.3"/>
<text font-size="8.3" font-weight="bold" text-anchor="end" fill="#000" transform="matrix(1.12 0 0 1 529.2 962.21)">200</text>
<line x1="531" y1="936.48" x2="535.6" y2="936.48" stroke="#000" stroke-width="1.3"/>
<text font-size="8.3" font-weight="bold" text-anchor="end" fill="#000" transform="matrix(1.12 0 0 1 529.2 939.47)">300</text>
<line x1="531" y1="913.74" x2="535.6" y2="913.74" stroke="#000" stroke-width="1.3"/>
<text font-size="8.3" font-weight="bold" text-anchor="end" fill="#000" transform="matrix(1.12 0 0 1 529.2 916.73)">400</text>
<line x1="531" y1="891" x2="535.6" y2="891" stroke="#000" stroke-width="1.3"/>
<text font-size="8.3" font-weight="bold" text-anchor="end" fill="#000" transform="matrix(1.12 0 0 1 529.2 893.99)">500</text>
<line x1="553.4" y1="1004.7" x2="553.4" y2="1009.3" stroke="#000" stroke-width="1.3"/>
<line x1="581.1" y1="1004.7" x2="581.1" y2="1009.3" stroke="#000" stroke-width="1.3"/>
<line x1="608.3" y1="1004.7" x2="608.3" y2="1009.3" stroke="#000" stroke-width="1.3"/>
<path d="M553.6 883.8L553.6 874.6L608.5 874.6L608.5 893" stroke="#000" stroke-width="1.2" fill="none" stroke-linejoin="miter"/>
<path d="M553.6 926.5L553.6 898.6L578.9 898.6L578.9 905.8" stroke="#000" stroke-width="1.2" fill="none" stroke-linejoin="miter"/>
<path d="M583.2 905.8L583.2 898.6L608.5 898.6L608.5 916.6" stroke="#000" stroke-width="1.2" fill="none" stroke-linejoin="miter"/>
<path d="M577.6 863.5L577.6 870.1M574.74 865.15L580.46 868.45M580.46 865.15L574.74 868.45M584.8 863.5L584.8 870.1M581.94 865.15L587.66 868.45M587.66 865.15L581.94 868.45" stroke="#000" stroke-width="1.7" fill="none" stroke-linecap="butt"/>
<path d="M559.2 887.7L559.2 894.3M556.34 889.35L562.06 892.65M562.06 889.35L556.34 892.65M566.4 887.7L566.4 894.3M563.54 889.35L569.26 892.65M569.26 889.35L563.54 892.65M573.6 887.7L573.6 894.3M570.74 889.35L576.46 892.65M576.46 889.35L570.74 892.65" stroke="#000" stroke-width="1.7" fill="none" stroke-linecap="butt"/>
<text font-size="8.4" text-anchor="start" fill="#222" transform="translate(582.2 893)">0.16</text>
<text font-size="11.03" font-weight="bold" text-anchor="middle" fill="#000" transform="translate(497.9 944) rotate(-90) scale(1 1.15)">Cross sectional – Mean (µm2)</text>
<rect x="547" y="1051" width="2" height="1.2" fill="#555"/></svg></body></html>
